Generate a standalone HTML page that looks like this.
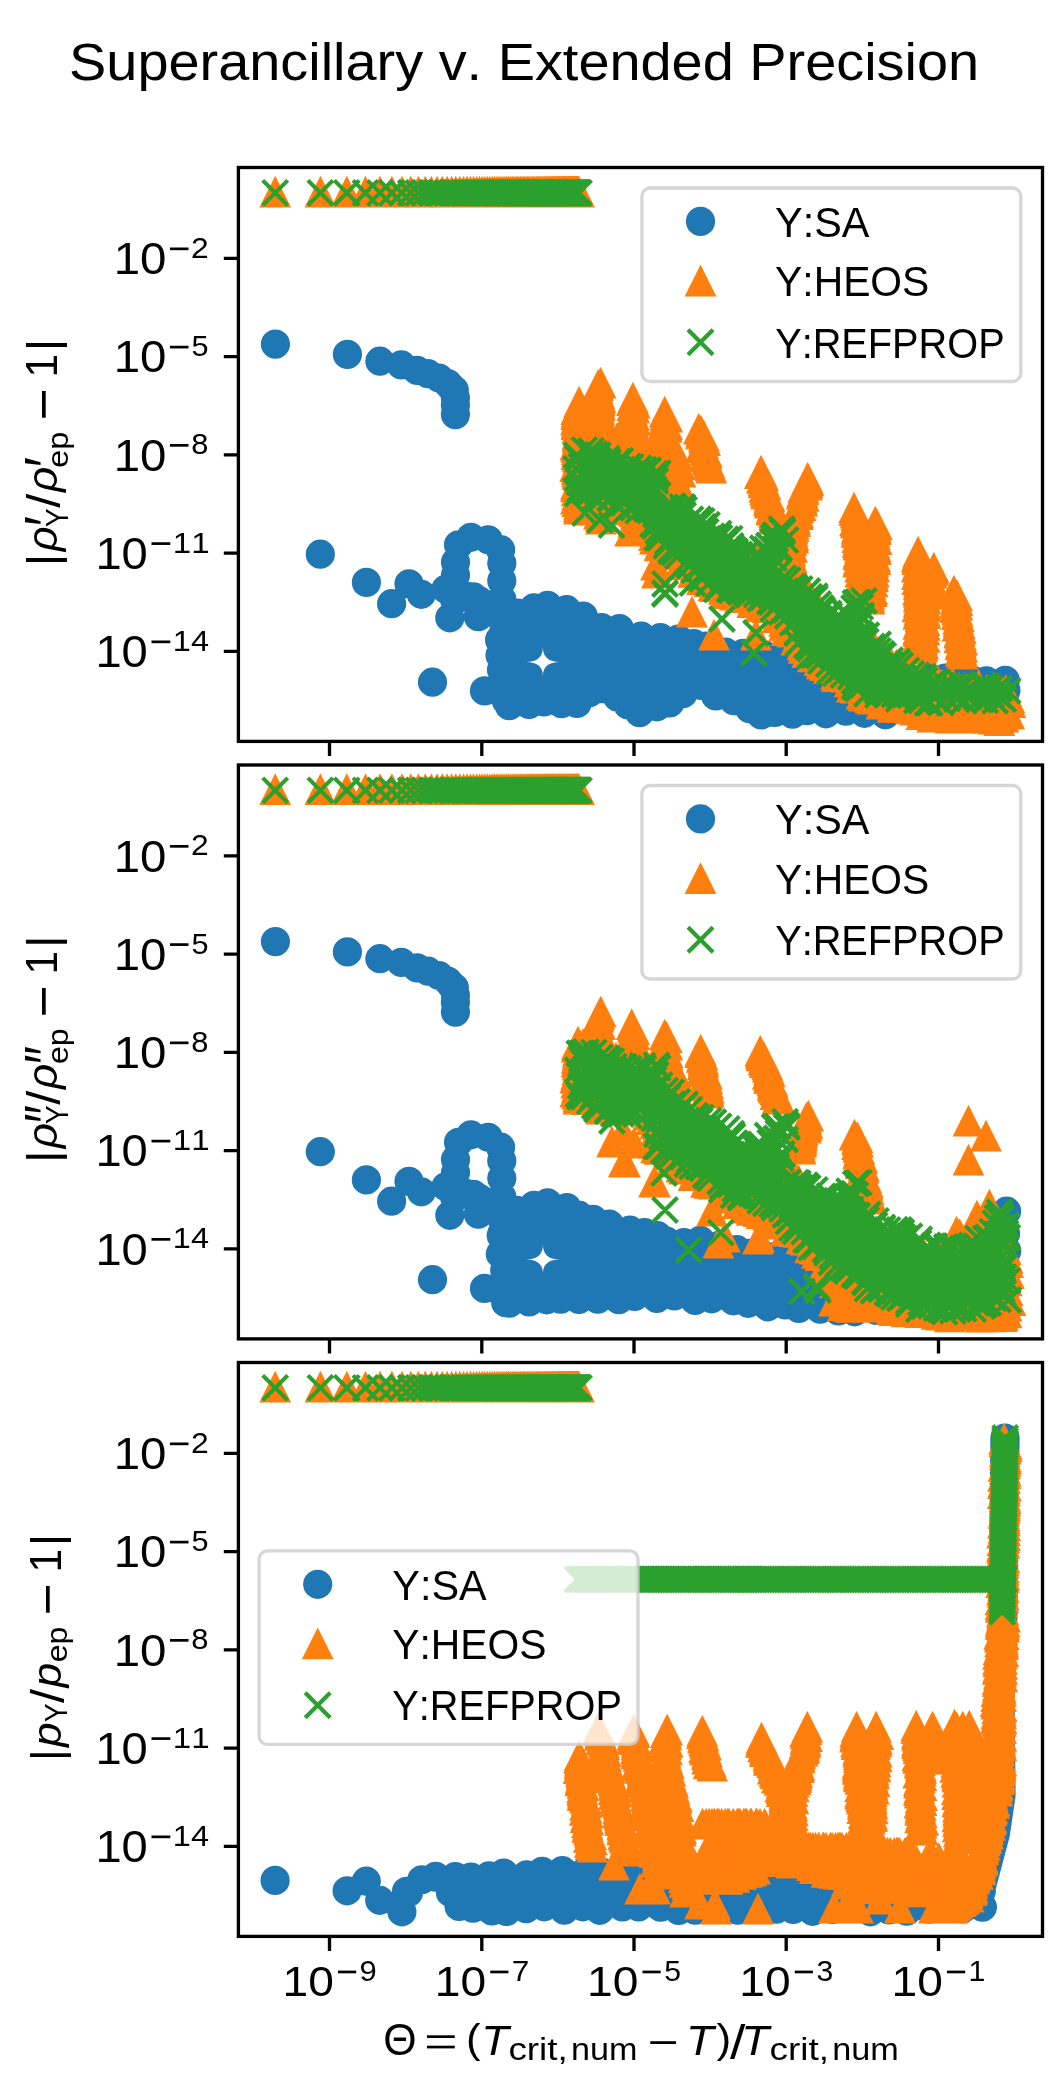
<!DOCTYPE html><html><head><meta charset="utf-8"><style>html,body{margin:0;padding:0;background:#fff;width:1050px;height:2100px;overflow:hidden}svg{display:block}text{font-family:"Liberation Sans",sans-serif;font-kerning:none;font-variant-ligatures:none}svg{will-change:transform}</style></head><body><svg width="1050" height="2100" viewBox="0 0 1050 2100" font-family="Liberation Sans, sans-serif"><defs><clipPath id="cp0"><rect x="238.4" y="167.5" width="804.1" height="573.9"/></clipPath><clipPath id="cp1"><rect x="238.4" y="765" width="804.1" height="573.9"/></clipPath><clipPath id="cp2"><rect x="238.4" y="1362.5" width="804.1" height="573.9"/></clipPath></defs><text transform="matrix(0.5590 0 0 0.5217 69.06 79.70)" font-size="100">Superancillary v. Extended Precision</text>
<g clip-path="url(#cp0)">
<path d="M275.4 344.1h0.01M347.4 354.4h0.01M320.3 554.2h0.01M366.4 582.4h0.01M391.6 603.7h0.01M409 583.9h0.01M421.3 594.3h0.01M432.5 682.2h0.01M446.1 589.3h0.01M449.8 617.8h0.01M454.8 600.5h0.01M473.4 596.8h0.01M478.3 616.6h0.01M484.5 690.9h0.01M509.3 705.7h0.01M529.1 704.5h0.01M541.5 688.4h0.01M534 607.9h0.01M547.6 638.9h0.01M547.6 605.4h0.01M379.9 361.2h0.01M401.3 364.9h0.01M417.1 370.4h0.01M428 373.7h0.01M439 378h0.01M447.8 383.5h0.01M454.3 390.1h0.01M455.4 397.8h0.01M455.4 414.6h0.01M451 387h0.01M455.4 405h0.01M455.5 575h0.01M455.5 562.1h0.01M458.5 544.8h0.01M470.9 537.3h0.01M488.2 539.8h0.01M500.6 549.7h0.01M501.8 563.3h0.01M501.8 656.2h0.01M501.8 580.7h0.01M501.8 599.2h0.01M501.8 619h0.01M501.8 636.4h0.01M446 589 478 600 502 618M501.1 618.3h0.01M517.8 613.2h0.01M532.2 609.9h0.01M548.3 610.3h0.01M566.7 609.7h0.01M583.3 616h0.01M601.6 627.6h0.01M619.5 628.6h0.01M641.3 636.2h0.01M660.4 637.5h0.01M678.4 639.1h0.01M693.8 643.6h0.01M706.2 646.1h0.01M725.5 652.1h0.01M743.3 653.4h0.01M764 654.9h0.01M781.9 655.8h0.01M799.1 660h0.01M821.8 664.6h0.01M839.5 668.9h0.01M859.8 671h0.01M878.1 674.6h0.01M891.9 675.6h0.01M909.9 678.7h0.01M927.5 677.3h0.01M945.4 678.1h0.01M957.8 681.3h0.01M971.8 679.9h0.01M986.4 680.8h0.01M1005.3 680.4h0.01M1005.9 690.6h0.01M1005 703.5h0.01M989.1 702.8h0.01M975.2 705.2h0.01M958.1 703.8h0.01M940.8 704h0.01M924.7 709.1h0.01M906.6 709.3h0.01M885.4 714.8h0.01M864.4 713.3h0.01M845.8 711.1h0.01M826 713.8h0.01M807.1 710.7h0.01M792.5 714.2h0.01M774.9 712.4h0.01M761.2 714.9h0.01M749.6 708.8h0.01M733.9 700.6h0.01M715.8 695.9h0.01M700.3 685.3h0.01M682.9 693.7h0.01M669.7 702.9h0.01M656.9 706.8h0.01M639.5 712.6h0.01M628 705h0.01M617.6 697.3h0.01M602.1 688.6h0.01M589.4 692.8h0.01M577 703.4h0.01M561.6 703.7h0.01M544 702h0.01M527.3 703.4h0.01M516.5 700.5h0.01M506.5 701h0.01M505.2 684.9h0.01M501.5 669.8h0.01M500 655.3h0.01M499.6 639.9h0.01M502.6 618.2h0.01" fill="none" stroke="#1f77b4" stroke-width="29.2" stroke-linecap="round" stroke-linejoin="round"/>
<path d="M502 620 532 610.6 569 610 602 626 660 638 708 648 781.7 658 860 672 943 680 1004 680 1004 703 943 703 886 714 809 712 761 713 735 701 698 687 671 703 642 713 602 688 575 702 529.3 702.7 508 702.7 502 656z" fill="#1f77b4"/>
<path d="M525.9 662.0Q542.9 662.0 542.9 647.0Q542.9 662.0 559.9 662.0Q542.9 662.0 542.9 676.0Q542.9 662.0 525.9 662.0z" fill="#fff"/>
<path d="M578 425.9 578 492.5 678 488.5 678 454.1 578 425.9zM578 496.1 578 497.2 612.6 508.2 623.9 509.7 578 496.1zM650.6 517.4 657.6 541.5 670.7 553.8 686.7 565.7 708.1 585.3 738.2 594.7 776.8 611.3 802.2 647.2 821.5 666.6 847.7 683 873 700.8 950.4 719 1004.1 719 1008 713.9 1008 691.2 947.1 686.9 904.1 675.9 870.1 644.9 820.2 618.9 789.8 562 759 562 726.7 550.9 689.2 526.2 650.6 517.4z" fill="#ff7f0e"/>
<path d="M576.5 412.4l12.5 25h-25zM577.2 416.6l12.5 25h-25zM580.1 427.4l12.5 25h-25zM577.8 429.9l12.5 25h-25zM575.5 433.2l12.5 25h-25zM577.1 439.7l12.5 25h-25zM580 444.6l12.5 25h-25zM575.1 454.9l12.5 25h-25zM578.2 455.7l12.5 25h-25zM578.3 460.5l12.5 25h-25zM578.2 471.8l12.5 25h-25zM580.2 475.6l12.5 25h-25zM576.6 479.2l12.5 25h-25zM581.9 481.4l12.5 25h-25zM590 481.2l12.5 25h-25zM594.6 477.6l12.5 25h-25zM603.4 482l12.5 25h-25zM609.5 480.7l12.5 25h-25zM615.2 480l12.5 25h-25zM617.5 478.5l12.5 25h-25zM624.2 475.3l12.5 25h-25zM628.1 476.5l12.5 25h-25zM635.4 478.8l12.5 25h-25zM645.4 477.1l12.5 25h-25zM651.2 480.1l12.5 25h-25zM657.2 476.1l12.5 25h-25zM658.7 475l12.5 25h-25zM664.4 474.7l12.5 25h-25zM672.9 478.6l12.5 25h-25zM680 475.9l12.5 25h-25zM678.9 472l12.5 25h-25zM675.5 465.5l12.5 25h-25zM680.5 460.5l12.5 25h-25zM679.5 452.9l12.5 25h-25zM676.1 449l12.5 25h-25zM677 443.4l12.5 25h-25zM675.3 439.4l12.5 25h-25zM666.3 441.1l12.5 25h-25zM662.7 434.9l12.5 25h-25zM653.5 433.2l12.5 25h-25zM652.7 435.6l12.5 25h-25zM642.5 434.1l12.5 25h-25zM642 431.5l12.5 25h-25zM632.7 429.3l12.5 25h-25zM625.8 424.6l12.5 25h-25zM625.3 426.8l12.5 25h-25zM617 426.9l12.5 25h-25zM610.9 425l12.5 25h-25zM607.7 419.5l12.5 25h-25zM598.7 418.4l12.5 25h-25zM593.1 418.6l12.5 25h-25zM587.7 416l12.5 25h-25zM581.3 417.4l12.5 25h-25zM577.1 413.1l12.5 25h-25zM578.5 486l12.5 25h-25zM577.5 487.2l12.5 25h-25zM583 486.5l12.5 25h-25zM588 485l12.5 25h-25zM592.5 487.5l12.5 25h-25zM594.8 492.8l12.5 25h-25zM600.8 492.4l12.5 25h-25zM609 494.5l12.5 25h-25zM611.6 495.9l12.5 25h-25zM618.6 498.2l12.5 25h-25zM621.5 497.6l12.5 25h-25zM616.6 494.2l12.5 25h-25zM614 493.9l12.5 25h-25zM607 493.7l12.5 25h-25zM603.4 490.1l12.5 25h-25zM595.9 488.7l12.5 25h-25zM589.5 488.2l12.5 25h-25zM583.4 485.5l12.5 25h-25zM577.9 486.2l12.5 25h-25zM651.8 507.2l12.5 25h-25zM654.6 508.3l12.5 25h-25zM653.7 517.2l12.5 25h-25zM656.8 517.2l12.5 25h-25zM653.9 523.8l12.5 25h-25zM655 527.4l12.5 25h-25zM659.4 534.1l12.5 25h-25zM668.1 539.6l12.5 25h-25zM668.7 542.6l12.5 25h-25zM675.7 542.1l12.5 25h-25zM681 550.1l12.5 25h-25zM681 553l12.5 25h-25zM686.1 553.2l12.5 25h-25zM693.9 559.2l12.5 25h-25zM693.2 560.7l12.5 25h-25zM699.6 564l12.5 25h-25zM702 567.8l12.5 25h-25zM709.5 570l12.5 25h-25zM713.5 574l12.5 25h-25zM715.2 575l12.5 25h-25zM723.9 577.6l12.5 25h-25zM725.5 582l12.5 25h-25zM734.9 583.5l12.5 25h-25zM735.8 580.8l12.5 25h-25zM740.2 586l12.5 25h-25zM746.5 584.2l12.5 25h-25zM752.2 590.9l12.5 25h-25zM759.4 589.1l12.5 25h-25zM760.2 595.1l12.5 25h-25zM767.6 595.9l12.5 25h-25zM769.5 594.1l12.5 25h-25zM778 598.4l12.5 25h-25zM777.5 605.9l12.5 25h-25zM784 609.6l12.5 25h-25zM783.9 614.4l12.5 25h-25zM786.9 619l12.5 25h-25zM792.4 620.3l12.5 25h-25zM796.2 628.3l12.5 25h-25zM797.6 628l12.5 25h-25zM802.4 633.2l12.5 25h-25zM803.7 636.6l12.5 25h-25zM807.2 640.7l12.5 25h-25zM812.7 645.2l12.5 25h-25zM819.2 648.9l12.5 25h-25zM821.5 652.1l12.5 25h-25zM825 653.9l12.5 25h-25zM828.7 656.6l12.5 25h-25zM836 662.6l12.5 25h-25zM837.1 664.9l12.5 25h-25zM845.9 665.4l12.5 25h-25zM849.6 670.1l12.5 25h-25zM851.8 675.5l12.5 25h-25zM855.5 676.5l12.5 25h-25zM861.5 682.3l12.5 25h-25zM863.6 684.4l12.5 25h-25zM870 686.2l12.5 25h-25zM872.4 687.4l12.5 25h-25zM875.9 687.4l12.5 25h-25zM881.5 692.4l12.5 25h-25zM888.1 690.2l12.5 25h-25zM892.6 695.6l12.5 25h-25zM902.9 695.9l12.5 25h-25zM904.9 694.6l12.5 25h-25zM910.5 697.2l12.5 25h-25zM915.2 698.4l12.5 25h-25zM921.3 702.8l12.5 25h-25zM931.1 701.6l12.5 25h-25zM932.3 705.4l12.5 25h-25zM938.2 703l12.5 25h-25zM941.9 704.5l12.5 25h-25zM950.2 706.5l12.5 25h-25zM954.6 706.5l12.5 25h-25zM959.4 705.1l12.5 25h-25zM965.8 705.9l12.5 25h-25zM971.5 703.6l12.5 25h-25zM979 704.9l12.5 25h-25zM986.7 706.7l12.5 25h-25zM993.7 707.4l12.5 25h-25zM999.4 708.8l12.5 25h-25zM1003.4 705.5l12.5 25h-25zM1009 701.9l12.5 25h-25zM1009.3 702.3l12.5 25h-25zM1005.3 697.7l12.5 25h-25zM1010.4 690.8l12.5 25h-25zM1009.4 686.2l12.5 25h-25zM1005.8 678.8l12.5 25h-25zM1002.5 680.3l12.5 25h-25zM998.8 679.9l12.5 25h-25zM991.9 679.9l12.5 25h-25zM986.9 678.3l12.5 25h-25zM978.7 673.9l12.5 25h-25zM972.6 675.5l12.5 25h-25zM966.9 678l12.5 25h-25zM964 676.3l12.5 25h-25zM958.9 676.3l12.5 25h-25zM952.5 671.8l12.5 25h-25zM948.9 675.9l12.5 25h-25zM941.7 673.2l12.5 25h-25zM937.3 669l12.5 25h-25zM932.4 668.8l12.5 25h-25zM923 667.5l12.5 25h-25zM921.6 665.7l12.5 25h-25zM916.3 669l12.5 25h-25zM909.5 664.1l12.5 25h-25zM904 664.5l12.5 25h-25zM901.5 660.2l12.5 25h-25zM896.5 653.1l12.5 25h-25zM889.2 650.3l12.5 25h-25zM888.6 646.7l12.5 25h-25zM883.3 641.1l12.5 25h-25zM876 638.8l12.5 25h-25zM875.4 637.4l12.5 25h-25zM871.1 631.2l12.5 25h-25zM865.2 629.6l12.5 25h-25zM859.9 624.9l12.5 25h-25zM857.5 622.8l12.5 25h-25zM853 624.6l12.5 25h-25zM842.2 619.2l12.5 25h-25zM842 619.6l12.5 25h-25zM834.8 612.8l12.5 25h-25zM828.4 614.3l12.5 25h-25zM823.4 609.5l12.5 25h-25zM818 606.6l12.5 25h-25zM820.1 599l12.5 25h-25zM816.6 596.1l12.5 25h-25zM814.2 592.1l12.5 25h-25zM807.5 588.1l12.5 25h-25zM806.3 577.7l12.5 25h-25zM800.6 575.3l12.5 25h-25zM800.5 569l12.5 25h-25zM795.9 564.1l12.5 25h-25zM794.2 561.9l12.5 25h-25zM789.6 556.2l12.5 25h-25zM791.8 547.2l12.5 25h-25zM787.2 550.8l12.5 25h-25zM781.9 548.2l12.5 25h-25zM773.6 548.9l12.5 25h-25zM772.3 550l12.5 25h-25zM763.3 549.1l12.5 25h-25zM757.6 546.8l12.5 25h-25zM751.2 549.7l12.5 25h-25zM746.9 548.4l12.5 25h-25zM741.3 542.5l12.5 25h-25zM737.5 540.2l12.5 25h-25zM731.3 542.9l12.5 25h-25zM729 540.2l12.5 25h-25zM722.8 537.8l12.5 25h-25zM719.9 532.5l12.5 25h-25zM713.9 526.4l12.5 25h-25zM709.3 525.7l12.5 25h-25zM704.8 523.8l12.5 25h-25zM697.3 517.2l12.5 25h-25zM696.5 514.6l12.5 25h-25zM689.1 512.8l12.5 25h-25zM682.5 513.9l12.5 25h-25zM681 509.8l12.5 25h-25zM673.6 508.8l12.5 25h-25zM667.5 508.1l12.5 25h-25zM659.6 505.4l12.5 25h-25zM654.4 508.6l12.5 25h-25zM650.6 503.3l12.5 25h-25zM275.2 180.4l12.5 25h-25zM320.4 180.4l12.5 25h-25zM346.8 180.4l12.5 25h-25zM365.5 180.4l12.5 25h-25zM380 180.4l12.5 25h-25zM391.9 180.4l12.5 25h-25zM402 180.4l12.5 25h-25zM410.7 180.4l12.5 25h-25zM418.3 180.4l12.5 25h-25zM425.2 180.4l12.5 25h-25zM431.4 180.4l12.5 25h-25zM437.1 180.4l12.5 25h-25zM442.3 180.4l12.5 25h-25zM447.1 180.4l12.5 25h-25zM451.6 180.4l12.5 25h-25zM455.8 180.4l12.5 25h-25zM459.8 180.4l12.5 25h-25zM463.5 180.4l12.5 25h-25zM467 180.4l12.5 25h-25zM470.4 180.4l12.5 25h-25zM473.5 180.4l12.5 25h-25zM476.6 180.4l12.5 25h-25zM479.5 180.4l12.5 25h-25zM482.2 180.4l12.5 25h-25zM484.9 180.4l12.5 25h-25zM487.4 180.4l12.5 25h-25zM489.9 180.4l12.5 25h-25zM492.3 180.4l12.5 25h-25zM494.6 180.4l12.5 25h-25zM496.8 180.4l12.5 25h-25zM498.9 180.4l12.5 25h-25zM501 180.4l12.5 25h-25zM503 180.4l12.5 25h-25zM504.9 180.4l12.5 25h-25zM506.8 180.4l12.5 25h-25zM508.6 180.4l12.5 25h-25zM510.4 180.4l12.5 25h-25zM512.2 180.4l12.5 25h-25zM513.9 180.4l12.5 25h-25zM515.5 180.4l12.5 25h-25zM517.1 180.4l12.5 25h-25zM518.7 180.4l12.5 25h-25zM520.2 180.4l12.5 25h-25zM521.7 180.4l12.5 25h-25zM523.2 180.4l12.5 25h-25zM524.6 180.4l12.5 25h-25zM526 180.4l12.5 25h-25zM527.4 180.4l12.5 25h-25zM528.7 180.4l12.5 25h-25zM530 180.4l12.5 25h-25zM531.3 180.4l12.5 25h-25zM532.6 180.4l12.5 25h-25zM533.8 180.4l12.5 25h-25zM535.1 180.4l12.5 25h-25zM536.3 180.4l12.5 25h-25zM537.4 180.4l12.5 25h-25zM538.6 180.4l12.5 25h-25zM539.7 180.4l12.5 25h-25zM540.8 180.4l12.5 25h-25zM541.9 180.4l12.5 25h-25zM543 180.4l12.5 25h-25zM544.1 180.4l12.5 25h-25zM545.1 180.4l12.5 25h-25zM546.1 180.4l12.5 25h-25zM547.1 180.4l12.5 25h-25zM548.1 180.4l12.5 25h-25zM549.1 180.4l12.5 25h-25zM550.1 180.4l12.5 25h-25zM551 180.4l12.5 25h-25zM552 180.4l12.5 25h-25zM552.9 180.4l12.5 25h-25zM553.8 180.4l12.5 25h-25zM554.7 180.4l12.5 25h-25zM555.6 180.4l12.5 25h-25zM556.5 180.4l12.5 25h-25zM557.3 180.4l12.5 25h-25zM558.2 180.4l12.5 25h-25zM559 180.4l12.5 25h-25zM559.8 180.4l12.5 25h-25zM560.7 180.4l12.5 25h-25zM561.5 180.4l12.5 25h-25zM562.3 180.4l12.5 25h-25zM563.1 180.4l12.5 25h-25zM563.8 180.4l12.5 25h-25zM564.6 180.4l12.5 25h-25zM565.4 180.4l12.5 25h-25zM566.1 180.4l12.5 25h-25zM566.9 180.4l12.5 25h-25zM567.6 180.4l12.5 25h-25zM568.3 180.4l12.5 25h-25zM569.1 180.4l12.5 25h-25zM569.8 180.4l12.5 25h-25zM570.5 180.4l12.5 25h-25zM571.2 180.4l12.5 25h-25zM571.9 180.4l12.5 25h-25zM572.5 180.4l12.5 25h-25zM573.2 180.4l12.5 25h-25zM573.9 180.4l12.5 25h-25zM574.5 180.4l12.5 25h-25zM575.2 180.4l12.5 25h-25zM575.8 180.4l12.5 25h-25zM576.5 180.4l12.5 25h-25zM577.1 180.4l12.5 25h-25zM577.8 180.4l12.5 25h-25zM578.4 180.4l12.5 25h-25zM579 180.4l12.5 25h-25zM579.1 390.5l12.5 25h-25zM579.4 393l12.5 25h-25zM577.4 395.5l12.5 25h-25zM576.3 398l12.5 25h-25zM576.5 400.5l12.5 25h-25zM576.1 402.9l12.5 25h-25zM577 405.4l12.5 25h-25zM576.1 407.9l12.5 25h-25zM576.7 410.4l12.5 25h-25zM576.7 412.9l12.5 25h-25zM577.9 415.4l12.5 25h-25zM579 417.9l12.5 25h-25zM578.5 420.4l12.5 25h-25zM577.3 422.8l12.5 25h-25zM577.3 425.3l12.5 25h-25zM577.7 427.8l12.5 25h-25zM577.2 430.3l12.5 25h-25zM577 432.8l12.5 25h-25zM576 435.3l12.5 25h-25zM576.8 437.8l12.5 25h-25zM579.3 440.3l12.5 25h-25zM576.3 442.8l12.5 25h-25zM577.6 445.2l12.5 25h-25zM578.1 447.7l12.5 25h-25zM578.9 450.2l12.5 25h-25zM576.6 452.7l12.5 25h-25zM576.8 455.2l12.5 25h-25zM576.7 457.7l12.5 25h-25zM577.2 460.2l12.5 25h-25zM577.4 462.7l12.5 25h-25zM579.2 465.2l12.5 25h-25zM578.9 467.6l12.5 25h-25zM578.9 470.1l12.5 25h-25zM575.9 472.6l12.5 25h-25zM575.9 475.1l12.5 25h-25zM578.4 477.6l12.5 25h-25zM579 480.1l12.5 25h-25zM577.5 482.6l12.5 25h-25zM577.9 485.1l12.5 25h-25zM575.8 487.5l12.5 25h-25zM577.2 490l12.5 25h-25zM579.1 492.5l12.5 25h-25zM578.8 495l12.5 25h-25zM578.9 497.5l12.5 25h-25zM600.6 371.5l12.5 25h-25zM598 374l12.5 25h-25zM597.5 376.4l12.5 25h-25zM597.7 378.9l12.5 25h-25zM599.1 381.4l12.5 25h-25zM599.7 383.9l12.5 25h-25zM600.6 386.3l12.5 25h-25zM599.8 388.8l12.5 25h-25zM599.6 391.3l12.5 25h-25zM600 393.8l12.5 25h-25zM598.9 396.2l12.5 25h-25zM599.3 398.7l12.5 25h-25zM597.5 401.2l12.5 25h-25zM600.2 403.6l12.5 25h-25zM598.2 406.1l12.5 25h-25zM600.7 408.6l12.5 25h-25zM599.7 411.1l12.5 25h-25zM598.5 413.5l12.5 25h-25zM597.9 416l12.5 25h-25zM598.4 418.5l12.5 25h-25zM599.8 421l12.5 25h-25zM600 423.4l12.5 25h-25zM597.9 425.9l12.5 25h-25zM597.8 428.4l12.5 25h-25zM599.5 430.8l12.5 25h-25zM599.7 433.3l12.5 25h-25zM599 435.8l12.5 25h-25zM598.4 438.3l12.5 25h-25zM599.8 440.7l12.5 25h-25zM597.7 443.2l12.5 25h-25zM598.8 445.7l12.5 25h-25zM599.4 448.2l12.5 25h-25zM601.2 450.6l12.5 25h-25zM600.1 453.1l12.5 25h-25zM601 455.6l12.5 25h-25zM599.5 458l12.5 25h-25zM598.7 460.5l12.5 25h-25zM598.7 463l12.5 25h-25zM601.3 465.5l12.5 25h-25zM600.4 467.9l12.5 25h-25zM599 470.4l12.5 25h-25zM598 472.9l12.5 25h-25zM599.7 475.4l12.5 25h-25zM600.4 477.8l12.5 25h-25zM599.5 480.3l12.5 25h-25zM598.9 482.8l12.5 25h-25zM600.4 485.2l12.5 25h-25zM601.4 487.7l12.5 25h-25zM598.9 490.2l12.5 25h-25zM598.2 492.7l12.5 25h-25zM599.3 495.1l12.5 25h-25zM599.6 497.6l12.5 25h-25zM600.6 500.1l12.5 25h-25zM598.9 502.6l12.5 25h-25zM601 505l12.5 25h-25zM600.9 507.5l12.5 25h-25zM632.9 386.5l12.5 25h-25zM631.9 389l12.5 25h-25zM634.7 391.4l12.5 25h-25zM632.3 393.9l12.5 25h-25zM634.2 396.4l12.5 25h-25zM632.1 398.9l12.5 25h-25zM632.1 401.3l12.5 25h-25zM634.1 403.8l12.5 25h-25zM632.5 406.3l12.5 25h-25zM634.9 408.7l12.5 25h-25zM633.3 411.2l12.5 25h-25zM632.2 413.7l12.5 25h-25zM632.4 416.2l12.5 25h-25zM633.1 418.6l12.5 25h-25zM634 421.1l12.5 25h-25zM635.1 423.6l12.5 25h-25zM632.3 426l12.5 25h-25zM633.2 428.5l12.5 25h-25zM632.6 431l12.5 25h-25zM635.4 433.5l12.5 25h-25zM632.4 435.9l12.5 25h-25zM632.1 438.4l12.5 25h-25zM632.2 440.9l12.5 25h-25zM633.4 443.3l12.5 25h-25zM635.3 445.8l12.5 25h-25zM635.3 448.3l12.5 25h-25zM634.8 450.8l12.5 25h-25zM635.8 453.2l12.5 25h-25zM635.6 455.7l12.5 25h-25zM633.4 458.2l12.5 25h-25zM633 460.7l12.5 25h-25zM635.7 463.1l12.5 25h-25zM635.1 465.6l12.5 25h-25zM632.5 468.1l12.5 25h-25zM634.8 470.5l12.5 25h-25zM633.8 473l12.5 25h-25zM633.9 475.5l12.5 25h-25zM633.8 478l12.5 25h-25zM633.2 480.4l12.5 25h-25zM632.7 482.9l12.5 25h-25zM633.7 485.4l12.5 25h-25zM634 487.8l12.5 25h-25zM636.2 490.3l12.5 25h-25zM633.2 492.8l12.5 25h-25zM636.3 495.3l12.5 25h-25zM633.6 497.7l12.5 25h-25zM634.2 500.2l12.5 25h-25zM635.9 502.7l12.5 25h-25zM636 505.1l12.5 25h-25zM634.6 507.6l12.5 25h-25zM633.3 510.1l12.5 25h-25zM634.8 512.6l12.5 25h-25zM634.5 515l12.5 25h-25zM636.5 517.5l12.5 25h-25zM664.7 400.5l12.5 25h-25zM665.4 403l12.5 25h-25zM667.3 405.5l12.5 25h-25zM664.2 408l12.5 25h-25zM665.7 410.5l12.5 25h-25zM667.1 413l12.5 25h-25zM667 415.4l12.5 25h-25zM664.4 417.9l12.5 25h-25zM664.5 420.4l12.5 25h-25zM664.6 422.9l12.5 25h-25zM667.7 425.4l12.5 25h-25zM665.4 427.9l12.5 25h-25zM667.2 430.4l12.5 25h-25zM667.8 432.9l12.5 25h-25zM665.8 435.4l12.5 25h-25zM665.6 437.9l12.5 25h-25zM668.1 440.3l12.5 25h-25zM667 442.8l12.5 25h-25zM665.7 445.3l12.5 25h-25zM667.4 447.8l12.5 25h-25zM666 450.3l12.5 25h-25zM665.9 452.8l12.5 25h-25zM665 455.3l12.5 25h-25zM667.7 457.8l12.5 25h-25zM668.3 460.3l12.5 25h-25zM667.4 462.8l12.5 25h-25zM668.5 465.2l12.5 25h-25zM665.3 467.7l12.5 25h-25zM666 470.2l12.5 25h-25zM667 472.7l12.5 25h-25zM668.7 475.2l12.5 25h-25zM668.8 477.7l12.5 25h-25zM666.8 480.2l12.5 25h-25zM666.3 482.7l12.5 25h-25zM667 485.2l12.5 25h-25zM667.3 487.7l12.5 25h-25zM668.9 490.1l12.5 25h-25zM666.3 492.6l12.5 25h-25zM668.5 495.1l12.5 25h-25zM668.3 497.6l12.5 25h-25zM668.7 500.1l12.5 25h-25zM668.6 502.6l12.5 25h-25zM668 505.1l12.5 25h-25zM667 507.6l12.5 25h-25zM667 510.1l12.5 25h-25zM667.2 512.6l12.5 25h-25zM668.8 515l12.5 25h-25zM666.3 517.5l12.5 25h-25zM666.8 520l12.5 25h-25zM668.8 522.5l12.5 25h-25zM667 525l12.5 25h-25zM666.4 527.5l12.5 25h-25zM698.8 417.5l12.5 25h-25zM701.2 419.8l12.5 25h-25zM701 422.1l12.5 25h-25zM703.9 424.4l12.5 25h-25zM704.1 426.7l12.5 25h-25zM705.1 429l12.5 25h-25zM703 431.3l12.5 25h-25zM702.9 433.6l12.5 25h-25zM703.5 435.9l12.5 25h-25zM705.5 438.1l12.5 25h-25zM706.8 440.4l12.5 25h-25zM706.5 442.7l12.5 25h-25zM706.2 445l12.5 25h-25zM707.5 447.3l12.5 25h-25zM708.8 449.6l12.5 25h-25zM709.5 451.9l12.5 25h-25zM710.3 454.2l12.5 25h-25zM711.2 456.5l12.5 25h-25zM761.1 459.5l12.5 25h-25zM759.8 461.8l12.5 25h-25zM763.1 464.1l12.5 25h-25zM761.8 466.4l12.5 25h-25zM763.5 468.6l12.5 25h-25zM763.5 470.9l12.5 25h-25zM765.5 473.2l12.5 25h-25zM764.3 475.5l12.5 25h-25zM765.1 477.8l12.5 25h-25zM765.8 480.1l12.5 25h-25zM766.2 482.4l12.5 25h-25zM769.5 484.6l12.5 25h-25zM769.1 486.9l12.5 25h-25zM768.9 489.2l12.5 25h-25zM769.8 491.5l12.5 25h-25zM772.6 493.8l12.5 25h-25zM771.6 496.1l12.5 25h-25zM771.3 498.4l12.5 25h-25zM774 500.6l12.5 25h-25zM774.2 502.9l12.5 25h-25zM776.1 505.2l12.5 25h-25zM773.6 507.5l12.5 25h-25zM807.7 466.5l12.5 25h-25zM808.2 468.8l12.5 25h-25zM807.6 471.1l12.5 25h-25zM807.2 473.3l12.5 25h-25zM803.3 475.6l12.5 25h-25zM803.5 477.9l12.5 25h-25zM802.2 480.2l12.5 25h-25zM801.7 482.4l12.5 25h-25zM803.8 484.7l12.5 25h-25zM801.7 487l12.5 25h-25zM802.2 489.3l12.5 25h-25zM799.5 491.6l12.5 25h-25zM800.6 493.8l12.5 25h-25zM798.4 496.1l12.5 25h-25zM797 498.4l12.5 25h-25zM798.1 500.7l12.5 25h-25zM798 502.9l12.5 25h-25zM794.3 505.2l12.5 25h-25zM795.3 507.5l12.5 25h-25zM795.1 509.9l12.5 25h-25zM793.4 512.2l12.5 25h-25zM793.6 514.6l12.5 25h-25zM792.5 516.9l12.5 25h-25zM792.5 519.3l12.5 25h-25zM792.4 521.6l12.5 25h-25zM793.3 524l12.5 25h-25zM793.2 526.3l12.5 25h-25zM791.3 528.7l12.5 25h-25zM790.3 531l12.5 25h-25zM791.1 533.4l12.5 25h-25zM792.1 535.7l12.5 25h-25zM790 538.1l12.5 25h-25zM790.2 540.4l12.5 25h-25zM789.5 542.8l12.5 25h-25zM791.4 545.1l12.5 25h-25zM790.2 547.5l12.5 25h-25zM854 496.5l12.5 25h-25zM854.4 499l12.5 25h-25zM855.6 501.4l12.5 25h-25zM856.4 503.9l12.5 25h-25zM856.9 506.3l12.5 25h-25zM855.1 508.8l12.5 25h-25zM855.6 511.2l12.5 25h-25zM857.7 513.7l12.5 25h-25zM856.8 516.1l12.5 25h-25zM856.6 518.6l12.5 25h-25zM856.8 521l12.5 25h-25zM859.4 523.5l12.5 25h-25zM857.3 526l12.5 25h-25zM858.4 528.4l12.5 25h-25zM857.8 530.9l12.5 25h-25zM858.2 533.3l12.5 25h-25zM860 535.8l12.5 25h-25zM860.7 538.2l12.5 25h-25zM858.6 540.7l12.5 25h-25zM858.2 543.1l12.5 25h-25zM860.3 545.6l12.5 25h-25zM858.6 548l12.5 25h-25zM858.1 550.5l12.5 25h-25zM861.5 553l12.5 25h-25zM860 555.4l12.5 25h-25zM861.6 557.9l12.5 25h-25zM860.3 560.3l12.5 25h-25zM862.2 562.8l12.5 25h-25zM860.9 565.2l12.5 25h-25zM860 567.7l12.5 25h-25zM859.7 570.1l12.5 25h-25zM861.8 572.6l12.5 25h-25zM862.3 575l12.5 25h-25zM863.5 577.5l12.5 25h-25zM875.2 510.5l12.5 25h-25zM876.9 513l12.5 25h-25zM875.8 515.5l12.5 25h-25zM876.1 518l12.5 25h-25zM874.6 520.4l12.5 25h-25zM874.8 522.9l12.5 25h-25zM875.5 525.4l12.5 25h-25zM876.7 527.9l12.5 25h-25zM873.6 530.4l12.5 25h-25zM874.7 532.9l12.5 25h-25zM875.6 535.3l12.5 25h-25zM876 537.8l12.5 25h-25zM873 540.3l12.5 25h-25zM872.5 542.8l12.5 25h-25zM875.3 545.3l12.5 25h-25zM875.2 547.8l12.5 25h-25zM873.2 550.2l12.5 25h-25zM871.4 552.7l12.5 25h-25zM874.3 555.2l12.5 25h-25zM872.2 557.7l12.5 25h-25zM873.8 560.2l12.5 25h-25zM872.6 562.7l12.5 25h-25zM873.1 565.1l12.5 25h-25zM870.5 567.6l12.5 25h-25zM872.5 570.1l12.5 25h-25zM870.3 572.6l12.5 25h-25zM870.7 575.1l12.5 25h-25zM872.1 577.6l12.5 25h-25zM871.8 580l12.5 25h-25zM869.3 582.5l12.5 25h-25zM869.2 585l12.5 25h-25zM869.6 587.5l12.5 25h-25zM918.1 540.5l12.5 25h-25zM917.6 543l12.5 25h-25zM916.7 545.5l12.5 25h-25zM917.2 548l12.5 25h-25zM919 550.4l12.5 25h-25zM919.7 552.9l12.5 25h-25zM916.7 555.4l12.5 25h-25zM918.6 557.9l12.5 25h-25zM919.3 560.4l12.5 25h-25zM916.8 562.9l12.5 25h-25zM919.7 565.4l12.5 25h-25zM917.2 567.9l12.5 25h-25zM919 570.3l12.5 25h-25zM918.8 572.8l12.5 25h-25zM919.2 575.3l12.5 25h-25zM918.1 577.8l12.5 25h-25zM918.5 580.3l12.5 25h-25zM919.2 582.8l12.5 25h-25zM918.7 585.3l12.5 25h-25zM919.5 587.8l12.5 25h-25zM918.8 590.2l12.5 25h-25zM918.9 592.7l12.5 25h-25zM917.4 595.2l12.5 25h-25zM919.6 597.7l12.5 25h-25zM919.2 600.2l12.5 25h-25zM918.3 602.7l12.5 25h-25zM920.3 605.2l12.5 25h-25zM920.4 607.7l12.5 25h-25zM919.3 610.1l12.5 25h-25zM918.3 612.6l12.5 25h-25zM919.4 615.1l12.5 25h-25zM918.2 617.6l12.5 25h-25zM918.3 620.1l12.5 25h-25zM919.4 622.6l12.5 25h-25zM918.3 625.1l12.5 25h-25zM919.6 627.6l12.5 25h-25zM919.9 630l12.5 25h-25zM918.2 632.5l12.5 25h-25zM920.4 635l12.5 25h-25zM918.5 637.5l12.5 25h-25zM933.8 556.5l12.5 25h-25zM933.3 558.9l12.5 25h-25zM931.7 561.3l12.5 25h-25zM929.3 563.7l12.5 25h-25zM930.2 566l12.5 25h-25zM929.1 568.4l12.5 25h-25zM930.5 570.8l12.5 25h-25zM926.8 573.2l12.5 25h-25zM928.7 575.6l12.5 25h-25zM928.6 578l12.5 25h-25zM926.9 580.3l12.5 25h-25zM926.5 582.7l12.5 25h-25zM923.6 585.1l12.5 25h-25zM925.7 587.5l12.5 25h-25zM923.9 589.9l12.5 25h-25zM925.5 592.3l12.5 25h-25zM925.4 594.6l12.5 25h-25zM922.6 597l12.5 25h-25zM924.8 599.4l12.5 25h-25zM925.3 601.8l12.5 25h-25zM922.1 604.2l12.5 25h-25zM923.1 606.5l12.5 25h-25zM924.5 608.9l12.5 25h-25zM922.3 611.3l12.5 25h-25zM924.9 613.7l12.5 25h-25zM922.6 616.1l12.5 25h-25zM924.5 618.5l12.5 25h-25zM922.1 620.8l12.5 25h-25zM923.3 623.2l12.5 25h-25zM924.7 625.6l12.5 25h-25zM922.1 628l12.5 25h-25zM922.3 630.4l12.5 25h-25zM923.1 632.7l12.5 25h-25zM922.4 635.1l12.5 25h-25zM921.3 637.5l12.5 25h-25zM953.9 579.5l12.5 25h-25zM954 581.8l12.5 25h-25zM957.1 584.2l12.5 25h-25zM956.4 586.5l12.5 25h-25zM957.4 588.8l12.5 25h-25zM955.1 591.2l12.5 25h-25zM957.5 593.5l12.5 25h-25zM955.4 595.8l12.5 25h-25zM957.1 598.2l12.5 25h-25zM957.7 600.5l12.5 25h-25zM957 602.8l12.5 25h-25zM959.1 605.2l12.5 25h-25zM958.2 607.5l12.5 25h-25zM958.6 609.8l12.5 25h-25zM959.9 612.2l12.5 25h-25zM957.4 614.5l12.5 25h-25zM960.8 616.8l12.5 25h-25zM959.8 619.2l12.5 25h-25zM959.2 621.5l12.5 25h-25zM960.9 623.8l12.5 25h-25zM959.3 626.2l12.5 25h-25zM962.2 628.5l12.5 25h-25zM960.9 630.8l12.5 25h-25zM960.4 633.2l12.5 25h-25zM962.2 635.5l12.5 25h-25zM961.3 637.8l12.5 25h-25zM960.6 640.2l12.5 25h-25zM962.9 642.5l12.5 25h-25zM590 498.5l12.5 25h-25zM630 519.5l12.5 25h-25zM656 553.5l12.5 25h-25zM657 561.5l12.5 25h-25zM692 600.5l12.5 25h-25zM714 623.5l12.5 25h-25zM756 623.5l12.5 25h-25z" fill="#ff7f0e" stroke="#ff7f0e" stroke-width="4.17" stroke-linejoin="miter"/>
<path d="M580 452.9 580 492.3 594.4 497 626.1 504.9 651.1 509.9 659.6 539.3 663.2 543.7 671.4 549.5 688.2 562.6 704.4 575.7 718.1 586.5 738.2 590.6 777 607.2 790.2 620.4 804.2 644.4 822.7 662.9 848.4 678.1 873.5 694.5 923.6 700 1005 697.4 1005 693.6 1002.2 690.6 936.6 685.7 909.6 671.1 891.8 662.6 878.7 649.4 858.6 636.3 860.3 603 856.3 603 835 624.5 808.2 594.1 798.1 585.7 763.6 567.2 784.5 534.9 784.5 531 779.8 531 750.2 560.6 719 536.5 705.9 528.5 690.5 516.1 679.4 508 643.3 508 657 480.7 657 471.8 594.9 455.7 580 452.9z" fill="#2ca02c"/>
<path d="M563.9 442.9l25 25m0-25l-25 25M565.5 446.4l25 25m0-25l-25 25M571.4 450.9l25 25m0-25l-25 25M568.8 453.7l25 25m0-25l-25 25M563.5 456.3l25 25m0-25l-25 25M564.7 465.9l25 25m0-25l-25 25M567 470l25 25m0-25l-25 25M570.7 471.9l25 25m0-25l-25 25M565.3 481l25 25m0-25l-25 25M567.3 477l25 25m0-25l-25 25M573.5 479l25 25m0-25l-25 25M577.2 481.1l25 25m0-25l-25 25M582.6 485.3l25 25m0-25l-25 25M584.1 486.7l25 25m0-25l-25 25M590.7 483.9l25 25m0-25l-25 25M599 485.9l25 25m0-25l-25 25M597.2 485.8l25 25m0-25l-25 25M605.6 493.2l25 25m0-25l-25 25M611.3 490.5l25 25m0-25l-25 25M611.7 488.5l25 25m0-25l-25 25M618.9 493.8l25 25m0-25l-25 25M620.7 495.3l25 25m0-25l-25 25M625.6 498.4l25 25m0-25l-25 25M632.1 493.8l25 25m0-25l-25 25M637.6 493l25 25m0-25l-25 25M638.8 496.7l25 25m0-25l-25 25M637.7 498.1l25 25m0-25l-25 25M643.2 501.9l25 25m0-25l-25 25M642.6 513.6l25 25m0-25l-25 25M640.6 511.8l25 25m0-25l-25 25M645.5 518.5l25 25m0-25l-25 25M647 525.1l25 25m0-25l-25 25M644.5 525.3l25 25m0-25l-25 25M647.3 525.4l25 25m0-25l-25 25M653.8 533.4l25 25m0-25l-25 25M655.2 529.2l25 25m0-25l-25 25M658.9 537l25 25m0-25l-25 25M658.6 538.9l25 25m0-25l-25 25M661.9 537.4l25 25m0-25l-25 25M662.4 540.1l25 25m0-25l-25 25M665.3 543.6l25 25m0-25l-25 25M674.3 549.1l25 25m0-25l-25 25M678.5 551.8l25 25m0-25l-25 25M677.1 553.2l25 25m0-25l-25 25M681.7 557.6l25 25m0-25l-25 25M685.6 556.1l25 25m0-25l-25 25M689.8 564.3l25 25m0-25l-25 25M689.7 566.2l25 25m0-25l-25 25M691.5 563.9l25 25m0-25l-25 25M696.6 570.5l25 25m0-25l-25 25M705.7 573.2l25 25m0-25l-25 25M704.2 577l25 25m0-25l-25 25M708.2 572.7l25 25m0-25l-25 25M716.9 576.6l25 25m0-25l-25 25M719.2 577.7l25 25m0-25l-25 25M725.5 577l25 25m0-25l-25 25M728.4 579.7l25 25m0-25l-25 25M732.9 579.4l25 25m0-25l-25 25M736.1 582.3l25 25m0-25l-25 25M737.1 581.3l25 25m0-25l-25 25M743.9 582.1l25 25m0-25l-25 25M750.5 584.5l25 25m0-25l-25 25M747.8 586l25 25m0-25l-25 25M759.3 589.8l25 25m0-25l-25 25M757.3 589.1l25 25m0-25l-25 25M760.8 596.2l25 25m0-25l-25 25M768.9 599.6l25 25m0-25l-25 25M773 597.8l25 25m0-25l-25 25M775.1 603.5l25 25m0-25l-25 25M780.2 610.4l25 25m0-25l-25 25M783.1 608.4l25 25m0-25l-25 25M785.3 619.2l25 25m0-25l-25 25M788.2 616.7l25 25m0-25l-25 25M784.7 620.8l25 25m0-25l-25 25M785.6 630.7l25 25m0-25l-25 25M794.2 633l25 25m0-25l-25 25M797.4 636l25 25m0-25l-25 25M796.1 634.8l25 25m0-25l-25 25M797.7 643.2l25 25m0-25l-25 25M801.6 642.7l25 25m0-25l-25 25M806.5 643.4l25 25m0-25l-25 25M808.2 648.6l25 25m0-25l-25 25M816.2 651.8l25 25m0-25l-25 25M817.3 659.2l25 25m0-25l-25 25M823.1 660.8l25 25m0-25l-25 25M828.3 656.8l25 25m0-25l-25 25M830.9 662.6l25 25m0-25l-25 25M838.1 664.4l25 25m0-25l-25 25M841.7 668.6l25 25m0-25l-25 25M842 674l25 25m0-25l-25 25M845.2 676.3l25 25m0-25l-25 25M850 672.5l25 25m0-25l-25 25M854.4 681.3l25 25m0-25l-25 25M864.8 678l25 25m0-25l-25 25M865.4 682.4l25 25m0-25l-25 25M872.4 680.4l25 25m0-25l-25 25M874.6 682.2l25 25m0-25l-25 25M881.8 682l25 25m0-25l-25 25M887.3 682.7l25 25m0-25l-25 25M886 686.6l25 25m0-25l-25 25M892.8 682.3l25 25m0-25l-25 25M898.5 682.6l25 25m0-25l-25 25M904.2 688l25 25m0-25l-25 25M908.8 688l25 25m0-25l-25 25M909.9 686.7l25 25m0-25l-25 25M915 690.4l25 25m0-25l-25 25M917.3 690.3l25 25m0-25l-25 25M921.6 684.7l25 25m0-25l-25 25M928.3 690.1l25 25m0-25l-25 25M935 685.8l25 25m0-25l-25 25M942.9 684.4l25 25m0-25l-25 25M944.3 686.7l25 25m0-25l-25 25M951.4 688.3l25 25m0-25l-25 25M955.3 684.9l25 25m0-25l-25 25M957.6 683.2l25 25m0-25l-25 25M966.5 687.1l25 25m0-25l-25 25M970.5 683l25 25m0-25l-25 25M972.8 687.7l25 25m0-25l-25 25M978.8 682.4l25 25m0-25l-25 25M982.6 688.3l25 25m0-25l-25 25M985.6 682.6l25 25m0-25l-25 25M990.9 686.6l25 25m0-25l-25 25M995.2 678.3l25 25m0-25l-25 25M986.9 676l25 25m0-25l-25 25M983.6 677.9l25 25m0-25l-25 25M977.6 676l25 25m0-25l-25 25M973.1 680.8l25 25m0-25l-25 25M972.7 673.5l25 25m0-25l-25 25M969.9 673.2l25 25m0-25l-25 25M960.6 679.9l25 25m0-25l-25 25M959.2 677.5l25 25m0-25l-25 25M951.7 672.9l25 25m0-25l-25 25M948.6 671.8l25 25m0-25l-25 25M940.5 673.7l25 25m0-25l-25 25M934.4 673.5l25 25m0-25l-25 25M935.8 675.5l25 25m0-25l-25 25M928.7 674.6l25 25m0-25l-25 25M923.8 670.4l25 25m0-25l-25 25M921 670.4l25 25m0-25l-25 25M918.3 672.3l25 25m0-25l-25 25M912 667.5l25 25m0-25l-25 25M910.7 664.2l25 25m0-25l-25 25M902.7 664.5l25 25m0-25l-25 25M904 662.9l25 25m0-25l-25 25M898.7 661.4l25 25m0-25l-25 25M894.1 657.6l25 25m0-25l-25 25M887.8 652.8l25 25m0-25l-25 25M884.8 649l25 25m0-25l-25 25M878.6 652.4l25 25m0-25l-25 25M877.7 647.8l25 25m0-25l-25 25M870.7 642.9l25 25m0-25l-25 25M869.1 641.2l25 25m0-25l-25 25M865.5 638.3l25 25m0-25l-25 25M865.6 631.8l25 25m0-25l-25 25M859.4 633.9l25 25m0-25l-25 25M853.3 629l25 25m0-25l-25 25M853.9 622.8l25 25m0-25l-25 25M846.5 621.1l25 25m0-25l-25 25M848.6 622.6l25 25m0-25l-25 25M846.7 611.1l25 25m0-25l-25 25M847.4 609.9l25 25m0-25l-25 25M848.8 604.9l25 25m0-25l-25 25M848.4 602.7l25 25m0-25l-25 25M847.7 594.5l25 25m0-25l-25 25M851.4 588.2l25 25m0-25l-25 25M845.3 589.6l25 25m0-25l-25 25M842.9 590.5l25 25m0-25l-25 25M841.6 595.5l25 25m0-25l-25 25M831.1 597.9l25 25m0-25l-25 25M830.8 598.9l25 25m0-25l-25 25M827.9 605.2l25 25m0-25l-25 25M827.1 607.7l25 25m0-25l-25 25M820.6 609.8l25 25m0-25l-25 25M821.4 612.1l25 25m0-25l-25 25M816.7 603l25 25m0-25l-25 25M816 601l25 25m0-25l-25 25M808.3 595.5l25 25m0-25l-25 25M809.8 597.6l25 25m0-25l-25 25M805.7 591.5l25 25m0-25l-25 25M802.2 586.1l25 25m0-25l-25 25M802.4 583.8l25 25m0-25l-25 25M796.8 584.1l25 25m0-25l-25 25M794.9 578.5l25 25m0-25l-25 25M787.3 576.4l25 25m0-25l-25 25M782.6 575.8l25 25m0-25l-25 25M780.2 573.7l25 25m0-25l-25 25M775.1 567.5l25 25m0-25l-25 25M770.7 565.6l25 25m0-25l-25 25M765.8 559.9l25 25m0-25l-25 25M765.8 559.8l25 25m0-25l-25 25M757.7 557.7l25 25m0-25l-25 25M755.2 556.4l25 25m0-25l-25 25M752.2 555.9l25 25m0-25l-25 25M752.6 554l25 25m0-25l-25 25M759.1 543l25 25m0-25l-25 25M761.5 545.8l25 25m0-25l-25 25M763.8 535.6l25 25m0-25l-25 25M766.8 535.5l25 25m0-25l-25 25M762.9 526.5l25 25m0-25l-25 25M773 527.6l25 25m0-25l-25 25M770 519.2l25 25m0-25l-25 25M769.1 516.4l25 25m0-25l-25 25M769.5 517.3l25 25m0-25l-25 25M761.2 525l25 25m0-25l-25 25M763.1 522.4l25 25m0-25l-25 25M760.6 529.2l25 25m0-25l-25 25M756.4 533l25 25m0-25l-25 25M754 537.3l25 25m0-25l-25 25M750.3 535.8l25 25m0-25l-25 25M745.8 541.8l25 25m0-25l-25 25M742.9 544.3l25 25m0-25l-25 25M740.7 548.6l25 25m0-25l-25 25M731.9 543l25 25m0-25l-25 25M727 542l25 25m0-25l-25 25M722.5 538.8l25 25m0-25l-25 25M719.3 536l25 25m0-25l-25 25M718.2 533.4l25 25m0-25l-25 25M717.2 526.1l25 25m0-25l-25 25M713.1 526.8l25 25m0-25l-25 25M707 525.4l25 25m0-25l-25 25M706 521l25 25m0-25l-25 25M699.3 523.7l25 25m0-25l-25 25M693.3 519.1l25 25m0-25l-25 25M694.5 512.2l25 25m0-25l-25 25M690.4 514.3l25 25m0-25l-25 25M689.2 508.4l25 25m0-25l-25 25M685.7 506.8l25 25m0-25l-25 25M677.9 506.8l25 25m0-25l-25 25M670.6 502.7l25 25m0-25l-25 25M671.6 496.9l25 25m0-25l-25 25M669.8 494.4l25 25m0-25l-25 25M662.2 495.7l25 25m0-25l-25 25M660.1 493.2l25 25m0-25l-25 25M652.9 494.9l25 25m0-25l-25 25M649.3 498.1l25 25m0-25l-25 25M642.7 498.1l25 25m0-25l-25 25M639.1 495.5l25 25m0-25l-25 25M633.5 495.6l25 25m0-25l-25 25M634.6 496.7l25 25m0-25l-25 25M635.1 490.2l25 25m0-25l-25 25M633.3 486.1l25 25m0-25l-25 25M637.4 484.9l25 25m0-25l-25 25M640.9 476.2l25 25m0-25l-25 25M642.4 479.1l25 25m0-25l-25 25M642.9 468.5l25 25m0-25l-25 25M642.9 464.2l25 25m0-25l-25 25M642 467.1l25 25m0-25l-25 25M645.4 460.6l25 25m0-25l-25 25M642 461.4l25 25m0-25l-25 25M635.8 457.8l25 25m0-25l-25 25M631.2 457.2l25 25m0-25l-25 25M626.2 455.8l25 25m0-25l-25 25M618.3 454.4l25 25m0-25l-25 25M615.5 454l25 25m0-25l-25 25M607.9 448.1l25 25m0-25l-25 25M602.6 451.6l25 25m0-25l-25 25M604.9 449.4l25 25m0-25l-25 25M595.7 449.5l25 25m0-25l-25 25M594.3 446.2l25 25m0-25l-25 25M585.3 442.8l25 25m0-25l-25 25M581.8 441.7l25 25m0-25l-25 25M578.2 443.6l25 25m0-25l-25 25M578.4 438.2l25 25m0-25l-25 25M571.8 437.4l25 25m0-25l-25 25M564.5 442.9l25 25m0-25l-25 25M262.7 180.4l25 25m0-25l-25 25M307.9 180.4l25 25m0-25l-25 25M334.3 180.4l25 25m0-25l-25 25M353 180.4l25 25m0-25l-25 25M367.5 180.4l25 25m0-25l-25 25M379.4 180.4l25 25m0-25l-25 25M389.5 180.4l25 25m0-25l-25 25M398.2 180.4l25 25m0-25l-25 25M405.8 180.4l25 25m0-25l-25 25M412.7 180.4l25 25m0-25l-25 25M418.9 180.4l25 25m0-25l-25 25M424.6 180.4l25 25m0-25l-25 25M429.8 180.4l25 25m0-25l-25 25M434.6 180.4l25 25m0-25l-25 25M439.1 180.4l25 25m0-25l-25 25M443.3 180.4l25 25m0-25l-25 25M447.3 180.4l25 25m0-25l-25 25M451 180.4l25 25m0-25l-25 25M454.5 180.4l25 25m0-25l-25 25M457.9 180.4l25 25m0-25l-25 25M461 180.4l25 25m0-25l-25 25M464.1 180.4l25 25m0-25l-25 25M467 180.4l25 25m0-25l-25 25M469.7 180.4l25 25m0-25l-25 25M472.4 180.4l25 25m0-25l-25 25M474.9 180.4l25 25m0-25l-25 25M477.4 180.4l25 25m0-25l-25 25M479.8 180.4l25 25m0-25l-25 25M482.1 180.4l25 25m0-25l-25 25M484.3 180.4l25 25m0-25l-25 25M486.4 180.4l25 25m0-25l-25 25M488.5 180.4l25 25m0-25l-25 25M490.5 180.4l25 25m0-25l-25 25M492.4 180.4l25 25m0-25l-25 25M494.3 180.4l25 25m0-25l-25 25M496.1 180.4l25 25m0-25l-25 25M497.9 180.4l25 25m0-25l-25 25M499.7 180.4l25 25m0-25l-25 25M501.4 180.4l25 25m0-25l-25 25M503 180.4l25 25m0-25l-25 25M504.6 180.4l25 25m0-25l-25 25M506.2 180.4l25 25m0-25l-25 25M507.7 180.4l25 25m0-25l-25 25M509.2 180.4l25 25m0-25l-25 25M510.7 180.4l25 25m0-25l-25 25M512.1 180.4l25 25m0-25l-25 25M513.5 180.4l25 25m0-25l-25 25M514.9 180.4l25 25m0-25l-25 25M516.2 180.4l25 25m0-25l-25 25M517.5 180.4l25 25m0-25l-25 25M518.8 180.4l25 25m0-25l-25 25M520.1 180.4l25 25m0-25l-25 25M521.3 180.4l25 25m0-25l-25 25M522.6 180.4l25 25m0-25l-25 25M523.8 180.4l25 25m0-25l-25 25M524.9 180.4l25 25m0-25l-25 25M526.1 180.4l25 25m0-25l-25 25M527.2 180.4l25 25m0-25l-25 25M528.3 180.4l25 25m0-25l-25 25M529.4 180.4l25 25m0-25l-25 25M530.5 180.4l25 25m0-25l-25 25M531.6 180.4l25 25m0-25l-25 25M532.6 180.4l25 25m0-25l-25 25M533.6 180.4l25 25m0-25l-25 25M534.6 180.4l25 25m0-25l-25 25M535.6 180.4l25 25m0-25l-25 25M536.6 180.4l25 25m0-25l-25 25M537.6 180.4l25 25m0-25l-25 25M538.5 180.4l25 25m0-25l-25 25M539.5 180.4l25 25m0-25l-25 25M540.4 180.4l25 25m0-25l-25 25M541.3 180.4l25 25m0-25l-25 25M542.2 180.4l25 25m0-25l-25 25M543.1 180.4l25 25m0-25l-25 25M544 180.4l25 25m0-25l-25 25M544.8 180.4l25 25m0-25l-25 25M545.7 180.4l25 25m0-25l-25 25M546.5 180.4l25 25m0-25l-25 25M547.3 180.4l25 25m0-25l-25 25M548.2 180.4l25 25m0-25l-25 25M549 180.4l25 25m0-25l-25 25M549.8 180.4l25 25m0-25l-25 25M550.6 180.4l25 25m0-25l-25 25M551.3 180.4l25 25m0-25l-25 25M552.1 180.4l25 25m0-25l-25 25M552.9 180.4l25 25m0-25l-25 25M553.6 180.4l25 25m0-25l-25 25M554.4 180.4l25 25m0-25l-25 25M555.1 180.4l25 25m0-25l-25 25M555.8 180.4l25 25m0-25l-25 25M556.6 180.4l25 25m0-25l-25 25M557.3 180.4l25 25m0-25l-25 25M558 180.4l25 25m0-25l-25 25M558.7 180.4l25 25m0-25l-25 25M559.4 180.4l25 25m0-25l-25 25M560 180.4l25 25m0-25l-25 25M560.7 180.4l25 25m0-25l-25 25M561.4 180.4l25 25m0-25l-25 25M562 180.4l25 25m0-25l-25 25M562.7 180.4l25 25m0-25l-25 25M563.3 180.4l25 25m0-25l-25 25M564 180.4l25 25m0-25l-25 25M564.6 180.4l25 25m0-25l-25 25M565.3 180.4l25 25m0-25l-25 25M565.9 180.4l25 25m0-25l-25 25M566.5 180.4l25 25m0-25l-25 25M599 512.5l25 25m0-25l-25 25M652.5 580.5l25 25m0-25l-25 25M680 570.5l25 25m0-25l-25 25M652.5 581.5l25 25m0-25l-25 25M652.5 571.5l25 25m0-25l-25 25M709.5 606.5l25 25m0-25l-25 25M741.5 640.5l25 25m0-25l-25 25M743.5 620.5l25 25m0-25l-25 25M572.5 500.5l25 25m0-25l-25 25M587.5 507.5l25 25m0-25l-25 25" fill="none" stroke="#2ca02c" stroke-width="4.17"/>
</g>
<g clip-path="url(#cp1)">
<path d="M275.4 941.6h0.01M347.4 951.9h0.01M320.3 1151.7h0.01M366.4 1179.9h0.01M391.6 1201.2h0.01M409 1181.4h0.01M421.3 1191.8h0.01M432.5 1279.7h0.01M446.1 1186.8h0.01M449.8 1215.3h0.01M454.8 1198h0.01M473.4 1194.3h0.01M478.3 1214.1h0.01M484.5 1288.4h0.01M509.3 1303.2h0.01M529.1 1302h0.01M541.5 1285.9h0.01M534 1205.4h0.01M547.6 1236.4h0.01M547.6 1202.9h0.01M379.9 958.7h0.01M401.3 962.4h0.01M417.1 967.9h0.01M428 971.2h0.01M439 975.5h0.01M447.8 981h0.01M454.3 987.6h0.01M455.4 995.3h0.01M455.4 1012.1h0.01M451 984.5h0.01M455.4 1002.5h0.01M455.5 1172.5h0.01M455.5 1159.6h0.01M458.5 1142.3h0.01M470.9 1134.8h0.01M488.2 1137.3h0.01M500.6 1147.2h0.01M501.8 1160.8h0.01M501.8 1253.7h0.01M501.8 1178.2h0.01M501.8 1196.7h0.01M501.8 1216.5h0.01M501.8 1233.9h0.01M446 1186.5 478 1197.5 502 1215.5M502.4 1219.6h0.01M516.7 1210.3h0.01M531.4 1208.5h0.01M551.7 1210.4h0.01M566.9 1207.6h0.01M578.8 1215.2h0.01M593.1 1219.3h0.01M609.3 1224h0.01M629.9 1230.1h0.01M644.6 1232.6h0.01M657.4 1235.5h0.01M666.4 1241.1h0.01M684 1242.5h0.01M700.3 1240.4h0.01M719.8 1245.1h0.01M736.7 1249.5h0.01M749.4 1253.3h0.01M769 1256.8h0.01M783.8 1260.8h0.01M797.7 1268.1h0.01M806.6 1269.6h0.01M826.8 1277.9h0.01M840.9 1279.7h0.01M861.1 1283.3h0.01M878.4 1285.9h0.01M891 1286.3h0.01M910.2 1287.7h0.01M927.3 1287.2h0.01M944.5 1289.3h0.01M959.4 1289h0.01M973.9 1286.1h0.01M991.4 1287.2h0.01M995.2 1267.1h0.01M996.5 1246.3h0.01M1003.6 1231.3h0.01M1006.6 1211.2h0.01M1005.5 1233.6h0.01M1006.7 1250.9h0.01M1004 1269.2h0.01M1006.9 1288.2h0.01M1005.9 1308.5h0.01M988.4 1309.9h0.01M966.8 1306.2h0.01M948.1 1308.6h0.01M931.2 1310.9h0.01M914.1 1307.4h0.01M895.3 1311.6h0.01M876.5 1310.4h0.01M854.7 1311.8h0.01M838.4 1310.9h0.01M820.1 1309.2h0.01M798.8 1308.5h0.01M785.2 1304.9h0.01M767.9 1306.8h0.01M748.2 1303.3h0.01M733.3 1300.8h0.01M711.7 1298.8h0.01M695.1 1300.5h0.01M674.4 1295.9h0.01M656.8 1298.4h0.01M634.7 1296.4h0.01M618.8 1299.6h0.01M597.8 1299.2h0.01M578.9 1299.4h0.01M560.6 1299.1h0.01M546.7 1299.8h0.01M529.6 1299.7h0.01M518.7 1298.4h0.01M505.7 1302.7h0.01M505.4 1282.7h0.01M504.7 1270.5h0.01M500.3 1254h0.01M501.2 1235.6h0.01M499.6 1215.2h0.01" fill="none" stroke="#1f77b4" stroke-width="29.2" stroke-linecap="round" stroke-linejoin="round"/>
<path d="M502 1217.5 532 1208 567 1208 594.5 1221 629 1232 668.8 1240 718.4 1244 768 1257 809 1272 860 1285 943 1290 990 1285 1005 1212 1005 1308 893.6 1310 818 1310 732.4 1301 636 1296 578.5 1301 529.3 1300.2 508 1300.2 502 1253.5z" fill="#1f77b4"/>
<path d="M525.9 1259.5Q542.9 1259.5 542.9 1244.5Q542.9 1259.5 559.9 1259.5Q542.9 1259.5 542.9 1273.5Q542.9 1259.5 525.9 1259.5z" fill="#fff"/>
<path d="M578 1045.9 578 1098 678 1098 678 1074.1 578 1045.9zM650.4 1115.9 657.2 1150 665.2 1151.9 686.9 1168.2 720.8 1190.1 744.3 1207 769.1 1214 786.5 1225.6 808.8 1246.8 836 1279.5 842.4 1306 870.8 1306 901.4 1310.1 949.6 1315 1005.4 1315 1008 1312.7 1008 1252.9 948.7 1257.1 907.5 1251.8 872.9 1241.3 820.9 1219.6 790.4 1172 747.2 1172 692.5 1144.7 668.3 1116.7 650.4 1115.9z" fill="#ff7f0e"/>
<path d="M580.9 1035.6l12.5 25h-25zM577.9 1039.6l12.5 25h-25zM576.6 1046.6l12.5 25h-25zM577.6 1053.4l12.5 25h-25zM579.6 1058.4l12.5 25h-25zM580.8 1060.8l12.5 25h-25zM575.2 1066.3l12.5 25h-25zM576.1 1071.4l12.5 25h-25zM575.3 1080.1l12.5 25h-25zM580.2 1085.2l12.5 25h-25zM586.6 1088l12.5 25h-25zM587.1 1086.1l12.5 25h-25zM595 1083.2l12.5 25h-25zM604.3 1084l12.5 25h-25zM607.8 1086.3l12.5 25h-25zM616 1086.5l12.5 25h-25zM618.5 1085.2l12.5 25h-25zM623 1088.3l12.5 25h-25zM633.9 1083.8l12.5 25h-25zM634.1 1084l12.5 25h-25zM641.8 1087.9l12.5 25h-25zM651 1087.5l12.5 25h-25zM651.8 1087.2l12.5 25h-25zM661.6 1086.4l12.5 25h-25zM669.1 1082.8l12.5 25h-25zM670 1087l12.5 25h-25zM680.6 1086.6l12.5 25h-25zM676.8 1080.1l12.5 25h-25zM679.5 1071.2l12.5 25h-25zM676.9 1066.1l12.5 25h-25zM675.7 1061.5l12.5 25h-25zM670.5 1058.4l12.5 25h-25zM664.7 1059.5l12.5 25h-25zM658.4 1058.2l12.5 25h-25zM653.9 1052.5l12.5 25h-25zM652.8 1052.1l12.5 25h-25zM647.3 1054.4l12.5 25h-25zM641.4 1048.4l12.5 25h-25zM633.2 1046.6l12.5 25h-25zM630.6 1049.5l12.5 25h-25zM623.2 1045.6l12.5 25h-25zM615.9 1046.3l12.5 25h-25zM611.2 1043.5l12.5 25h-25zM603.6 1039.5l12.5 25h-25zM597.6 1040.9l12.5 25h-25zM595 1035.9l12.5 25h-25zM591.3 1035.1l12.5 25h-25zM583 1032.9l12.5 25h-25zM576.6 1035.4l12.5 25h-25zM649.4 1101.4l12.5 25h-25zM651.5 1108l12.5 25h-25zM655.1 1112.5l12.5 25h-25zM656.7 1117.8l12.5 25h-25zM657.3 1127.2l12.5 25h-25zM654.4 1131.7l12.5 25h-25zM656 1136.1l12.5 25h-25zM659.4 1137.6l12.5 25h-25zM668.1 1142.4l12.5 25h-25zM672.1 1140.2l12.5 25h-25zM672.6 1148.3l12.5 25h-25zM675.5 1150.5l12.5 25h-25zM681.3 1155.3l12.5 25h-25zM684 1157.5l12.5 25h-25zM690.8 1156.6l12.5 25h-25zM693.6 1163.9l12.5 25h-25zM701.6 1163.2l12.5 25h-25zM705.9 1170.7l12.5 25h-25zM709.4 1171.7l12.5 25h-25zM713.8 1172.5l12.5 25h-25zM722.4 1178.9l12.5 25h-25zM723.7 1178.4l12.5 25h-25zM727.7 1185l12.5 25h-25zM734.9 1186.4l12.5 25h-25zM737.8 1191.8l12.5 25h-25zM745.5 1196.4l12.5 25h-25zM749.7 1194.1l12.5 25h-25zM751.6 1198.7l12.5 25h-25zM758.6 1200l12.5 25h-25zM761.4 1201.9l12.5 25h-25zM768.1 1203.5l12.5 25h-25zM775.6 1204.3l12.5 25h-25zM774.9 1209.7l12.5 25h-25zM782 1212.4l12.5 25h-25zM785.1 1211.2l12.5 25h-25zM792.2 1215.8l12.5 25h-25zM791.9 1219.4l12.5 25h-25zM798.2 1220.7l12.5 25h-25zM801.5 1226.9l12.5 25h-25zM805.2 1228.5l12.5 25h-25zM810.1 1236.2l12.5 25h-25zM814.4 1237.3l12.5 25h-25zM816.9 1241.7l12.5 25h-25zM820.5 1243.9l12.5 25h-25zM824.6 1253.3l12.5 25h-25zM825.8 1254.8l12.5 25h-25zM829.4 1259l12.5 25h-25zM829.7 1265.7l12.5 25h-25zM834.3 1265.1l12.5 25h-25zM834.9 1270.8l12.5 25h-25zM840.5 1274.8l12.5 25h-25zM837.4 1284.1l12.5 25h-25zM839.3 1285.3l12.5 25h-25zM843 1294l12.5 25h-25zM848.2 1294.7l12.5 25h-25zM851.4 1295.7l12.5 25h-25zM860.8 1290.8l12.5 25h-25zM862.9 1293.5l12.5 25h-25zM870.8 1292.2l12.5 25h-25zM873.6 1293.6l12.5 25h-25zM878.8 1295.4l12.5 25h-25zM888.3 1293.4l12.5 25h-25zM891.6 1297.7l12.5 25h-25zM894.3 1298.9l12.5 25h-25zM904 1296.9l12.5 25h-25zM906.3 1300.2l12.5 25h-25zM912.3 1298l12.5 25h-25zM920.1 1300.9l12.5 25h-25zM921.9 1298.2l12.5 25h-25zM927.2 1299.9l12.5 25h-25zM936.4 1302.7l12.5 25h-25zM941.4 1303.3l12.5 25h-25zM946.3 1299.3l12.5 25h-25zM949.7 1305.2l12.5 25h-25zM957.8 1301l12.5 25h-25zM960.3 1303.3l12.5 25h-25zM965.5 1302.7l12.5 25h-25zM969.3 1302.1l12.5 25h-25zM977.5 1299.6l12.5 25h-25zM980.9 1305.3l12.5 25h-25zM990.3 1305.1l12.5 25h-25zM995 1304.4l12.5 25h-25zM1002.1 1304.8l12.5 25h-25zM1002.6 1303.3l12.5 25h-25zM1006.6 1301.2l12.5 25h-25zM1006.6 1294.4l12.5 25h-25zM1010.5 1288.9l12.5 25h-25zM1006.5 1282.3l12.5 25h-25zM1007.6 1278.9l12.5 25h-25zM1006.7 1269.1l12.5 25h-25zM1008.9 1262l12.5 25h-25zM1008.6 1261l12.5 25h-25zM1008.1 1250.9l12.5 25h-25zM1007.8 1246.6l12.5 25h-25zM1005.9 1238.1l12.5 25h-25zM999.9 1239.6l12.5 25h-25zM995.6 1239.9l12.5 25h-25zM988.7 1239.2l12.5 25h-25zM984.5 1244.1l12.5 25h-25zM979 1242.9l12.5 25h-25zM973.3 1241.1l12.5 25h-25zM967.7 1243.1l12.5 25h-25zM960.8 1244.4l12.5 25h-25zM954.4 1243l12.5 25h-25zM947.1 1242.9l12.5 25h-25zM942.8 1243.1l12.5 25h-25zM937.4 1240.1l12.5 25h-25zM930.1 1244.5l12.5 25h-25zM923.6 1241.9l12.5 25h-25zM919.2 1239.5l12.5 25h-25zM916.3 1238.8l12.5 25h-25zM909.1 1237.2l12.5 25h-25zM899.9 1240l12.5 25h-25zM897.3 1233.7l12.5 25h-25zM892 1234.4l12.5 25h-25zM889.2 1231l12.5 25h-25zM881.2 1234.6l12.5 25h-25zM879.3 1228.2l12.5 25h-25zM872 1227.9l12.5 25h-25zM868.8 1227.3l12.5 25h-25zM864.6 1226.4l12.5 25h-25zM857.4 1223.7l12.5 25h-25zM853.6 1221.7l12.5 25h-25zM846.8 1219.7l12.5 25h-25zM843 1218.3l12.5 25h-25zM834.3 1215.9l12.5 25h-25zM828.3 1213.1l12.5 25h-25zM826.6 1209.3l12.5 25h-25zM823.7 1207.6l12.5 25h-25zM817.4 1204.1l12.5 25h-25zM817.1 1198.2l12.5 25h-25zM811 1192.6l12.5 25h-25zM808.5 1189.4l12.5 25h-25zM804.4 1182.7l12.5 25h-25zM803 1177.9l12.5 25h-25zM798.5 1175.5l12.5 25h-25zM798.6 1169l12.5 25h-25zM793.1 1162.4l12.5 25h-25zM789.3 1157.4l12.5 25h-25zM785.5 1160l12.5 25h-25zM777.1 1162l12.5 25h-25zM773.2 1161.6l12.5 25h-25zM770.8 1162.3l12.5 25h-25zM761.6 1159.1l12.5 25h-25zM760.4 1156.6l12.5 25h-25zM749.9 1159.9l12.5 25h-25zM747.2 1162l12.5 25h-25zM743.8 1157.2l12.5 25h-25zM740.2 1154.6l12.5 25h-25zM732.4 1153.2l12.5 25h-25zM726.6 1148.7l12.5 25h-25zM722.9 1146.2l12.5 25h-25zM720 1145.6l12.5 25h-25zM712.5 1139.7l12.5 25h-25zM706.7 1139l12.5 25h-25zM702.8 1137.6l12.5 25h-25zM699.7 1137.4l12.5 25h-25zM692.4 1131.8l12.5 25h-25zM689.8 1131.2l12.5 25h-25zM684.6 1124.4l12.5 25h-25zM684 1118.2l12.5 25h-25zM677.6 1119.1l12.5 25h-25zM677.2 1112.3l12.5 25h-25zM669.4 1110.6l12.5 25h-25zM669.4 1106.2l12.5 25h-25zM665.3 1106.3l12.5 25h-25zM655.9 1101.6l12.5 25h-25zM649.2 1103.5l12.5 25h-25zM275.2 777.9l12.5 25h-25zM320.4 777.9l12.5 25h-25zM346.8 777.9l12.5 25h-25zM365.5 777.9l12.5 25h-25zM380 777.9l12.5 25h-25zM391.9 777.9l12.5 25h-25zM402 777.9l12.5 25h-25zM410.7 777.9l12.5 25h-25zM418.3 777.9l12.5 25h-25zM425.2 777.9l12.5 25h-25zM431.4 777.9l12.5 25h-25zM437.1 777.9l12.5 25h-25zM442.3 777.9l12.5 25h-25zM447.1 777.9l12.5 25h-25zM451.6 777.9l12.5 25h-25zM455.8 777.9l12.5 25h-25zM459.8 777.9l12.5 25h-25zM463.5 777.9l12.5 25h-25zM467 777.9l12.5 25h-25zM470.4 777.9l12.5 25h-25zM473.5 777.9l12.5 25h-25zM476.6 777.9l12.5 25h-25zM479.5 777.9l12.5 25h-25zM482.2 777.9l12.5 25h-25zM484.9 777.9l12.5 25h-25zM487.4 777.9l12.5 25h-25zM489.9 777.9l12.5 25h-25zM492.3 777.9l12.5 25h-25zM494.6 777.9l12.5 25h-25zM496.8 777.9l12.5 25h-25zM498.9 777.9l12.5 25h-25zM501 777.9l12.5 25h-25zM503 777.9l12.5 25h-25zM504.9 777.9l12.5 25h-25zM506.8 777.9l12.5 25h-25zM508.6 777.9l12.5 25h-25zM510.4 777.9l12.5 25h-25zM512.2 777.9l12.5 25h-25zM513.9 777.9l12.5 25h-25zM515.5 777.9l12.5 25h-25zM517.1 777.9l12.5 25h-25zM518.7 777.9l12.5 25h-25zM520.2 777.9l12.5 25h-25zM521.7 777.9l12.5 25h-25zM523.2 777.9l12.5 25h-25zM524.6 777.9l12.5 25h-25zM526 777.9l12.5 25h-25zM527.4 777.9l12.5 25h-25zM528.7 777.9l12.5 25h-25zM530 777.9l12.5 25h-25zM531.3 777.9l12.5 25h-25zM532.6 777.9l12.5 25h-25zM533.8 777.9l12.5 25h-25zM535.1 777.9l12.5 25h-25zM536.3 777.9l12.5 25h-25zM537.4 777.9l12.5 25h-25zM538.6 777.9l12.5 25h-25zM539.7 777.9l12.5 25h-25zM540.8 777.9l12.5 25h-25zM541.9 777.9l12.5 25h-25zM543 777.9l12.5 25h-25zM544.1 777.9l12.5 25h-25zM545.1 777.9l12.5 25h-25zM546.1 777.9l12.5 25h-25zM547.1 777.9l12.5 25h-25zM548.1 777.9l12.5 25h-25zM549.1 777.9l12.5 25h-25zM550.1 777.9l12.5 25h-25zM551 777.9l12.5 25h-25zM552 777.9l12.5 25h-25zM552.9 777.9l12.5 25h-25zM553.8 777.9l12.5 25h-25zM554.7 777.9l12.5 25h-25zM555.6 777.9l12.5 25h-25zM556.5 777.9l12.5 25h-25zM557.3 777.9l12.5 25h-25zM558.2 777.9l12.5 25h-25zM559 777.9l12.5 25h-25zM559.8 777.9l12.5 25h-25zM560.7 777.9l12.5 25h-25zM561.5 777.9l12.5 25h-25zM562.3 777.9l12.5 25h-25zM563.1 777.9l12.5 25h-25zM563.8 777.9l12.5 25h-25zM564.6 777.9l12.5 25h-25zM565.4 777.9l12.5 25h-25zM566.1 777.9l12.5 25h-25zM566.9 777.9l12.5 25h-25zM567.6 777.9l12.5 25h-25zM568.3 777.9l12.5 25h-25zM569.1 777.9l12.5 25h-25zM569.8 777.9l12.5 25h-25zM570.5 777.9l12.5 25h-25zM571.2 777.9l12.5 25h-25zM571.9 777.9l12.5 25h-25zM572.5 777.9l12.5 25h-25zM573.2 777.9l12.5 25h-25zM573.9 777.9l12.5 25h-25zM574.5 777.9l12.5 25h-25zM575.2 777.9l12.5 25h-25zM575.8 777.9l12.5 25h-25zM576.5 777.9l12.5 25h-25zM577.1 777.9l12.5 25h-25zM577.8 777.9l12.5 25h-25zM578.4 777.9l12.5 25h-25zM579 777.9l12.5 25h-25zM578 1030.5l12.5 25h-25zM576.9 1033l12.5 25h-25zM576.9 1035.5l12.5 25h-25zM578.5 1037.9l12.5 25h-25zM578.4 1040.4l12.5 25h-25zM577.5 1042.9l12.5 25h-25zM579.8 1045.4l12.5 25h-25zM578.5 1047.8l12.5 25h-25zM576.4 1050.3l12.5 25h-25zM577.7 1052.8l12.5 25h-25zM579 1055.3l12.5 25h-25zM577.3 1057.8l12.5 25h-25zM578.7 1060.2l12.5 25h-25zM576.2 1062.7l12.5 25h-25zM577.3 1065.2l12.5 25h-25zM579.2 1067.7l12.5 25h-25zM578.3 1070.2l12.5 25h-25zM578.6 1072.6l12.5 25h-25zM576.9 1075.1l12.5 25h-25zM578 1077.6l12.5 25h-25zM578.2 1080.1l12.5 25h-25zM577.2 1082.5l12.5 25h-25zM578.5 1085l12.5 25h-25zM578.1 1087.5l12.5 25h-25zM600.8 1000.5l12.5 25h-25zM599.3 1003l12.5 25h-25zM598.7 1005.5l12.5 25h-25zM597.7 1008l12.5 25h-25zM597.9 1010.4l12.5 25h-25zM600.1 1012.9l12.5 25h-25zM597.7 1015.4l12.5 25h-25zM597.7 1017.9l12.5 25h-25zM598 1020.4l12.5 25h-25zM599.3 1022.9l12.5 25h-25zM600.4 1025.4l12.5 25h-25zM599.7 1027.9l12.5 25h-25zM600.4 1030.3l12.5 25h-25zM597.8 1032.8l12.5 25h-25zM597.6 1035.3l12.5 25h-25zM600.4 1037.8l12.5 25h-25zM598.8 1040.3l12.5 25h-25zM600.2 1042.8l12.5 25h-25zM598.9 1045.3l12.5 25h-25zM598.3 1047.8l12.5 25h-25zM598.7 1050.2l12.5 25h-25zM598.1 1052.7l12.5 25h-25zM601 1055.2l12.5 25h-25zM599.9 1057.7l12.5 25h-25zM599.1 1060.2l12.5 25h-25zM599.5 1062.7l12.5 25h-25zM599.3 1065.2l12.5 25h-25zM598.1 1067.7l12.5 25h-25zM601.1 1070.1l12.5 25h-25zM600 1072.6l12.5 25h-25zM601.4 1075.1l12.5 25h-25zM599.6 1077.6l12.5 25h-25zM600.3 1080.1l12.5 25h-25zM598.9 1082.6l12.5 25h-25zM598.2 1085.1l12.5 25h-25zM601.4 1087.6l12.5 25h-25zM601.2 1090l12.5 25h-25zM599.3 1092.5l12.5 25h-25zM601.4 1095l12.5 25h-25zM601.1 1097.5l12.5 25h-25zM631.7 1013l12.5 25h-25zM632.8 1015.5l12.5 25h-25zM634.2 1018l12.5 25h-25zM632.6 1020.5l12.5 25h-25zM634.3 1022.9l12.5 25h-25zM631.9 1025.4l12.5 25h-25zM632.5 1027.9l12.5 25h-25zM633.7 1030.4l12.5 25h-25zM632 1032.9l12.5 25h-25zM632.4 1035.4l12.5 25h-25zM634.5 1037.9l12.5 25h-25zM633.2 1040.3l12.5 25h-25zM634.4 1042.8l12.5 25h-25zM632.5 1045.3l12.5 25h-25zM632.3 1047.8l12.5 25h-25zM633 1050.3l12.5 25h-25zM632.5 1052.8l12.5 25h-25zM635.4 1055.2l12.5 25h-25zM633 1057.7l12.5 25h-25zM634.1 1060.2l12.5 25h-25zM632.5 1062.7l12.5 25h-25zM634.1 1065.2l12.5 25h-25zM633.7 1067.7l12.5 25h-25zM633.8 1070.2l12.5 25h-25zM632.7 1072.6l12.5 25h-25zM633 1075.1l12.5 25h-25zM635.6 1077.6l12.5 25h-25zM633.9 1080.1l12.5 25h-25zM633.6 1082.6l12.5 25h-25zM633.5 1085.1l12.5 25h-25zM633.9 1087.6l12.5 25h-25zM633.8 1090l12.5 25h-25zM633.2 1092.5l12.5 25h-25zM635.5 1095l12.5 25h-25zM634.4 1097.5l12.5 25h-25zM664.7 1023.5l12.5 25h-25zM666.7 1026l12.5 25h-25zM664.6 1028.4l12.5 25h-25zM665.3 1030.9l12.5 25h-25zM667.4 1033.4l12.5 25h-25zM664.9 1035.8l12.5 25h-25zM666.1 1038.3l12.5 25h-25zM667.6 1040.8l12.5 25h-25zM667.6 1043.2l12.5 25h-25zM665.3 1045.7l12.5 25h-25zM666.1 1048.2l12.5 25h-25zM667.5 1050.6l12.5 25h-25zM666.3 1053.1l12.5 25h-25zM668.5 1055.6l12.5 25h-25zM665.8 1058l12.5 25h-25zM668.6 1060.5l12.5 25h-25zM667 1063l12.5 25h-25zM666.1 1065.4l12.5 25h-25zM667 1067.9l12.5 25h-25zM665.9 1070.4l12.5 25h-25zM668 1072.8l12.5 25h-25zM666.5 1075.3l12.5 25h-25zM668.9 1077.8l12.5 25h-25zM667.8 1080.2l12.5 25h-25zM667.1 1082.7l12.5 25h-25zM666.7 1085.2l12.5 25h-25zM668.1 1087.6l12.5 25h-25zM666.8 1090.1l12.5 25h-25zM669.2 1092.6l12.5 25h-25zM666.6 1095l12.5 25h-25zM668 1097.5l12.5 25h-25zM700.7 1038.5l12.5 25h-25zM700.2 1040.9l12.5 25h-25zM702.5 1043.3l12.5 25h-25zM701.7 1045.7l12.5 25h-25zM703.2 1048.1l12.5 25h-25zM703.4 1050.4l12.5 25h-25zM703 1052.8l12.5 25h-25zM703.8 1055.2l12.5 25h-25zM703.2 1057.6l12.5 25h-25zM704.1 1060l12.5 25h-25zM707 1062.4l12.5 25h-25zM705.7 1064.8l12.5 25h-25zM707.4 1067.2l12.5 25h-25zM706 1069.6l12.5 25h-25zM708.1 1071.9l12.5 25h-25zM707.9 1074.3l12.5 25h-25zM708.9 1076.7l12.5 25h-25zM708.7 1079.1l12.5 25h-25zM708.4 1081.5l12.5 25h-25zM760.3 1039.5l12.5 25h-25zM760.8 1041.8l12.5 25h-25zM761.3 1044.1l12.5 25h-25zM764.2 1046.4l12.5 25h-25zM763.5 1048.6l12.5 25h-25zM764.7 1050.9l12.5 25h-25zM767.3 1053.2l12.5 25h-25zM767.7 1055.5l12.5 25h-25zM768.9 1057.8l12.5 25h-25zM769.6 1060.1l12.5 25h-25zM767.8 1062.4l12.5 25h-25zM769.1 1064.6l12.5 25h-25zM769 1066.9l12.5 25h-25zM772.2 1069.2l12.5 25h-25zM772.9 1071.5l12.5 25h-25zM772.6 1073.8l12.5 25h-25zM773.6 1076.1l12.5 25h-25zM775.3 1078.4l12.5 25h-25zM776.3 1080.6l12.5 25h-25zM775.5 1082.9l12.5 25h-25zM778.4 1085.2l12.5 25h-25zM777.5 1087.5l12.5 25h-25zM808.3 1104.5l12.5 25h-25zM806.1 1106.9l12.5 25h-25zM805.3 1109.2l12.5 25h-25zM807.6 1111.6l12.5 25h-25zM806.4 1113.9l12.5 25h-25zM805.8 1116.3l12.5 25h-25zM802.8 1118.6l12.5 25h-25zM802.2 1121l12.5 25h-25zM802.1 1123.4l12.5 25h-25zM801.7 1125.7l12.5 25h-25zM801.5 1128.1l12.5 25h-25zM801.2 1130.4l12.5 25h-25zM799.5 1132.8l12.5 25h-25zM799.9 1135.1l12.5 25h-25zM800.5 1137.5l12.5 25h-25zM854.5 1123.5l12.5 25h-25zM857.5 1125.9l12.5 25h-25zM857 1128.2l12.5 25h-25zM858.1 1130.6l12.5 25h-25zM856.9 1133l12.5 25h-25zM858.1 1135.4l12.5 25h-25zM859.5 1137.7l12.5 25h-25zM858.9 1140.1l12.5 25h-25zM858.1 1142.5l12.5 25h-25zM861.7 1144.8l12.5 25h-25zM862 1147.2l12.5 25h-25zM860.8 1149.6l12.5 25h-25zM860.4 1151.9l12.5 25h-25zM863.9 1154.3l12.5 25h-25zM863.5 1156.7l12.5 25h-25zM862 1159.1l12.5 25h-25zM863.3 1161.4l12.5 25h-25zM863.3 1163.8l12.5 25h-25zM866.3 1166.2l12.5 25h-25zM864.7 1168.5l12.5 25h-25zM867.8 1170.9l12.5 25h-25zM867.7 1173.3l12.5 25h-25zM865.9 1175.6l12.5 25h-25zM868.6 1178l12.5 25h-25zM868 1180.4l12.5 25h-25zM869.8 1182.8l12.5 25h-25zM870.7 1185.1l12.5 25h-25zM869.2 1187.5l12.5 25h-25zM968.5 1109.5l12.5 25h-25zM986 1124.5l12.5 25h-25zM968.5 1148.5l12.5 25h-25zM956.5 1220.5l12.5 25h-25zM959.7 1223l12.5 25h-25zM957.9 1225.5l12.5 25h-25zM959.8 1227.9l12.5 25h-25zM959 1230.4l12.5 25h-25zM959.2 1232.9l12.5 25h-25zM959.6 1235.4l12.5 25h-25zM959 1237.9l12.5 25h-25zM958.4 1240.4l12.5 25h-25zM957.1 1242.8l12.5 25h-25zM959.5 1245.3l12.5 25h-25zM958.6 1247.8l12.5 25h-25zM958.9 1250.3l12.5 25h-25zM960.5 1252.8l12.5 25h-25zM957.7 1255.2l12.5 25h-25zM960.1 1257.7l12.5 25h-25zM957.5 1260.2l12.5 25h-25zM960 1262.7l12.5 25h-25zM960.4 1265.2l12.5 25h-25zM958.5 1267.6l12.5 25h-25zM959.6 1270.1l12.5 25h-25zM961.2 1272.6l12.5 25h-25zM960.1 1275.1l12.5 25h-25zM959.9 1277.6l12.5 25h-25zM958.9 1280.1l12.5 25h-25zM958.3 1282.5l12.5 25h-25zM959.4 1285l12.5 25h-25zM959.7 1287.5l12.5 25h-25zM976.9 1204.5l12.5 25h-25zM977.4 1206.9l12.5 25h-25zM976.8 1209.4l12.5 25h-25zM978.9 1211.8l12.5 25h-25zM978.8 1214.3l12.5 25h-25zM977.4 1216.7l12.5 25h-25zM977.4 1219.1l12.5 25h-25zM978.5 1221.6l12.5 25h-25zM978.3 1224l12.5 25h-25zM980.1 1226.5l12.5 25h-25zM978.1 1228.9l12.5 25h-25zM977.9 1231.4l12.5 25h-25zM980.1 1233.8l12.5 25h-25zM977.5 1236.2l12.5 25h-25zM979.1 1238.7l12.5 25h-25zM978.3 1241.1l12.5 25h-25zM980.1 1243.6l12.5 25h-25zM979.2 1246l12.5 25h-25zM980 1248.4l12.5 25h-25zM977.9 1250.9l12.5 25h-25zM979.8 1253.3l12.5 25h-25zM979.6 1255.8l12.5 25h-25zM979.2 1258.2l12.5 25h-25zM980.3 1260.6l12.5 25h-25zM980.6 1263.1l12.5 25h-25zM978.1 1265.5l12.5 25h-25zM978.8 1268l12.5 25h-25zM979.1 1270.4l12.5 25h-25zM978.6 1272.9l12.5 25h-25zM978.1 1275.3l12.5 25h-25zM979 1277.7l12.5 25h-25zM978.7 1280.2l12.5 25h-25zM980.6 1282.6l12.5 25h-25zM979.8 1285.1l12.5 25h-25zM978.6 1287.5l12.5 25h-25zM989.4 1193.5l12.5 25h-25zM990 1196l12.5 25h-25zM989.8 1198.4l12.5 25h-25zM989.2 1200.9l12.5 25h-25zM989 1203.4l12.5 25h-25zM988.9 1205.9l12.5 25h-25zM992.6 1208.3l12.5 25h-25zM991.8 1210.8l12.5 25h-25zM989.6 1213.3l12.5 25h-25zM992 1215.8l12.5 25h-25zM993 1218.2l12.5 25h-25zM991.7 1220.7l12.5 25h-25zM990.2 1223.2l12.5 25h-25zM991.7 1225.7l12.5 25h-25zM991.6 1228.1l12.5 25h-25zM990.9 1230.6l12.5 25h-25zM992.3 1233.1l12.5 25h-25zM990.5 1235.6l12.5 25h-25zM993.9 1238l12.5 25h-25zM993 1240.5l12.5 25h-25zM993.1 1243l12.5 25h-25zM994.3 1245.4l12.5 25h-25zM993.4 1247.9l12.5 25h-25zM992.1 1250.4l12.5 25h-25zM992.2 1252.9l12.5 25h-25zM992 1255.3l12.5 25h-25zM991.7 1257.8l12.5 25h-25zM994.5 1260.3l12.5 25h-25zM994.9 1262.8l12.5 25h-25zM993.1 1265.2l12.5 25h-25zM992.8 1267.7l12.5 25h-25zM994.6 1270.2l12.5 25h-25zM995.5 1272.7l12.5 25h-25zM995.9 1275.1l12.5 25h-25zM993.3 1277.6l12.5 25h-25zM995.6 1280.1l12.5 25h-25zM995.9 1282.6l12.5 25h-25zM995.7 1285l12.5 25h-25zM994.4 1287.5l12.5 25h-25zM612 1130.5l12.5 25h-25zM623.8 1150.5l12.5 25h-25zM654 1170.5l12.5 25h-25zM718.4 1231.5l12.5 25h-25zM758 1227.5l12.5 25h-25zM834 1289.5l12.5 25h-25zM911 1298.5l12.5 25h-25zM623 1119.5l12.5 25h-25zM634 1131.5l12.5 25h-25zM625 1150.5l12.5 25h-25zM655 1170.5l12.5 25h-25zM712 1199.5l12.5 25h-25zM725 1225.5l12.5 25h-25zM759 1225.5l12.5 25h-25zM786 1219.5l12.5 25h-25z" fill="#ff7f0e" stroke="#ff7f0e" stroke-width="4.17" stroke-linejoin="miter"/>
<path d="M581.9 1050.7 580.3 1093.6 589.4 1099.1 612.6 1114 657.6 1107.5 658.7 1149.7 686.6 1161.6 721 1183.9 743.7 1195.7 770.9 1201.1 789.4 1219.6 808 1242.5 834 1259.5 870.1 1285.9 899.1 1299.1 921.5 1308 955.6 1308 1004.3 1300.1 1003.2 1215 1001.1 1215 993.1 1233.4 964.8 1251 941 1247.6 912.8 1239.1 898.4 1229.5 884.2 1227.2 852.1 1211.4 858.3 1181.8 839.1 1206.6 801.3 1184.9 773.2 1185.2 783 1131.3 783.2 1125 780.1 1125 771.2 1137.7 747.7 1161 732.6 1135.8 721.2 1128.1 690.9 1112.8 674.9 1099.9 657.3 1085.7 657.3 1069.5 615.4 1065.5 589.6 1052.6 581.9 1050.7z" fill="#2ca02c"/>
<path d="M566.8 1040.8l25 25m0-25l-25 25M567.7 1041.9l25 25m0-25l-25 25M569.4 1046.7l25 25m0-25l-25 25M571.5 1050.4l25 25m0-25l-25 25M565 1057.8l25 25m0-25l-25 25M569.5 1064.6l25 25m0-25l-25 25M570 1070l25 25m0-25l-25 25M571.7 1071.5l25 25m0-25l-25 25M568 1073.6l25 25m0-25l-25 25M566.2 1081.7l25 25m0-25l-25 25M567.5 1084.4l25 25m0-25l-25 25M571.2 1084.3l25 25m0-25l-25 25M580.7 1083.3l25 25m0-25l-25 25M577.1 1088.6l25 25m0-25l-25 25M582.2 1093.4l25 25m0-25l-25 25M584.5 1096.8l25 25m0-25l-25 25M595.2 1098.8l25 25m0-25l-25 25M595.6 1097.3l25 25m0-25l-25 25M601.4 1101.6l25 25m0-25l-25 25M603.9 1099.6l25 25m0-25l-25 25M608.6 1101.5l25 25m0-25l-25 25M616.2 1102.8l25 25m0-25l-25 25M615.4 1097.3l25 25m0-25l-25 25M622.1 1098.8l25 25m0-25l-25 25M625.8 1095.2l25 25m0-25l-25 25M628.2 1095.5l25 25m0-25l-25 25M635.7 1100.1l25 25m0-25l-25 25M643.8 1098.6l25 25m0-25l-25 25M648.8 1098.7l25 25m0-25l-25 25M646.1 1102.2l25 25m0-25l-25 25M641.8 1105.8l25 25m0-25l-25 25M646.3 1107.4l25 25m0-25l-25 25M646.1 1117.4l25 25m0-25l-25 25M645.6 1119.6l25 25m0-25l-25 25M644.2 1121.9l25 25m0-25l-25 25M649.1 1124l25 25m0-25l-25 25M643.6 1133.9l25 25m0-25l-25 25M645.8 1133.8l25 25m0-25l-25 25M651.5 1137.8l25 25m0-25l-25 25M654.8 1139.9l25 25m0-25l-25 25M658.4 1142.8l25 25m0-25l-25 25M661.3 1140.9l25 25m0-25l-25 25M663.6 1148.8l25 25m0-25l-25 25M670.5 1144.3l25 25m0-25l-25 25M677 1147.1l25 25m0-25l-25 25M674.7 1151.8l25 25m0-25l-25 25M679.8 1154l25 25m0-25l-25 25M686 1154.3l25 25m0-25l-25 25M690 1155.9l25 25m0-25l-25 25M693.3 1162.2l25 25m0-25l-25 25M693.7 1163.2l25 25m0-25l-25 25M697.5 1165.9l25 25m0-25l-25 25M707.6 1169.3l25 25m0-25l-25 25M710.3 1173.4l25 25m0-25l-25 25M709.2 1177.3l25 25m0-25l-25 25M717.9 1172.1l25 25m0-25l-25 25M722.5 1176.4l25 25m0-25l-25 25M721 1182.9l25 25m0-25l-25 25M727.9 1183.4l25 25m0-25l-25 25M728.3 1185.4l25 25m0-25l-25 25M732.2 1182l25 25m0-25l-25 25M739.2 1181.1l25 25m0-25l-25 25M745.6 1183.6l25 25m0-25l-25 25M747.7 1188.4l25 25m0-25l-25 25M753.3 1190.8l25 25m0-25l-25 25M759.4 1191.6l25 25m0-25l-25 25M762 1195l25 25m0-25l-25 25M767.5 1192.1l25 25m0-25l-25 25M769.6 1196.6l25 25m0-25l-25 25M772.8 1202.4l25 25m0-25l-25 25M776.4 1201l25 25m0-25l-25 25M775.9 1209l25 25m0-25l-25 25M783.6 1212.7l25 25m0-25l-25 25M779.5 1215.6l25 25m0-25l-25 25M783 1218.9l25 25m0-25l-25 25M791.7 1219.3l25 25m0-25l-25 25M795.8 1227.6l25 25m0-25l-25 25M793.5 1227.5l25 25m0-25l-25 25M798.8 1235.1l25 25m0-25l-25 25M803.6 1231.7l25 25m0-25l-25 25M802.8 1234.1l25 25m0-25l-25 25M812.7 1237.2l25 25m0-25l-25 25M814.5 1240.4l25 25m0-25l-25 25M819.3 1243.6l25 25m0-25l-25 25M818.6 1250l25 25m0-25l-25 25M825.8 1251.4l25 25m0-25l-25 25M832 1256.4l25 25m0-25l-25 25M829.6 1254.5l25 25m0-25l-25 25M834.7 1258.7l25 25m0-25l-25 25M844.5 1264l25 25m0-25l-25 25M841.8 1262l25 25m0-25l-25 25M852.1 1268.9l25 25m0-25l-25 25M852.7 1270.2l25 25m0-25l-25 25M854.9 1276.1l25 25m0-25l-25 25M860.9 1278.2l25 25m0-25l-25 25M866.8 1273.8l25 25m0-25l-25 25M868.7 1276.8l25 25m0-25l-25 25M877.3 1281.6l25 25m0-25l-25 25M874.7 1280.2l25 25m0-25l-25 25M881.3 1284.5l25 25m0-25l-25 25M887.2 1285.7l25 25m0-25l-25 25M889.9 1284.4l25 25m0-25l-25 25M896.2 1288.8l25 25m0-25l-25 25M896.2 1291.6l25 25m0-25l-25 25M908.4 1290.1l25 25m0-25l-25 25M906.1 1296.9l25 25m0-25l-25 25M912 1293.7l25 25m0-25l-25 25M918.7 1293.6l25 25m0-25l-25 25M924.1 1295.7l25 25m0-25l-25 25M932.1 1299.4l25 25m0-25l-25 25M929.6 1296l25 25m0-25l-25 25M940.4 1298.5l25 25m0-25l-25 25M945.3 1296.6l25 25m0-25l-25 25M949 1293.6l25 25m0-25l-25 25M951.1 1296.3l25 25m0-25l-25 25M960.7 1296.6l25 25m0-25l-25 25M964 1290.8l25 25m0-25l-25 25M969.6 1293.5l25 25m0-25l-25 25M972.4 1291.8l25 25m0-25l-25 25M976 1290.4l25 25m0-25l-25 25M981.3 1285.7l25 25m0-25l-25 25M985.7 1287l25 25m0-25l-25 25M995.7 1287.5l25 25m0-25l-25 25M990.7 1280.8l25 25m0-25l-25 25M989.6 1276.9l25 25m0-25l-25 25M988.7 1269.5l25 25m0-25l-25 25M994.6 1268.3l25 25m0-25l-25 25M991.1 1264.5l25 25m0-25l-25 25M989.9 1256.6l25 25m0-25l-25 25M987.9 1252.9l25 25m0-25l-25 25M989.8 1251.6l25 25m0-25l-25 25M991.7 1248.6l25 25m0-25l-25 25M989.9 1243.7l25 25m0-25l-25 25M991.8 1232.2l25 25m0-25l-25 25M988.5 1231.5l25 25m0-25l-25 25M994.9 1225l25 25m0-25l-25 25M993.1 1220.8l25 25m0-25l-25 25M993.8 1213.2l25 25m0-25l-25 25M990.7 1215.1l25 25m0-25l-25 25M989 1205.3l25 25m0-25l-25 25M986.9 1199.8l25 25m0-25l-25 25M986.8 1204.1l25 25m0-25l-25 25M984.8 1205.4l25 25m0-25l-25 25M983 1210.7l25 25m0-25l-25 25M986.7 1214.7l25 25m0-25l-25 25M979.8 1219.1l25 25m0-25l-25 25M984.3 1221.7l25 25m0-25l-25 25M973.2 1225.9l25 25m0-25l-25 25M975.5 1224.7l25 25m0-25l-25 25M965.5 1225.9l25 25m0-25l-25 25M964.7 1233.9l25 25m0-25l-25 25M961.5 1236.8l25 25m0-25l-25 25M954 1234.6l25 25m0-25l-25 25M954.3 1239.7l25 25m0-25l-25 25M946.8 1239.2l25 25m0-25l-25 25M941.5 1233.6l25 25m0-25l-25 25M937.3 1232.8l25 25m0-25l-25 25M934.3 1234.5l25 25m0-25l-25 25M928.4 1235.9l25 25m0-25l-25 25M921.8 1233.4l25 25m0-25l-25 25M915.2 1235.7l25 25m0-25l-25 25M914.9 1234.8l25 25m0-25l-25 25M906.1 1230.3l25 25m0-25l-25 25M906.8 1226.7l25 25m0-25l-25 25M897 1223.8l25 25m0-25l-25 25M893.8 1226.3l25 25m0-25l-25 25M889.8 1224.3l25 25m0-25l-25 25M888.9 1219.7l25 25m0-25l-25 25M886.6 1217.5l25 25m0-25l-25 25M882.4 1217.1l25 25m0-25l-25 25M875.1 1217.4l25 25m0-25l-25 25M869.7 1216.4l25 25m0-25l-25 25M869.8 1214.9l25 25m0-25l-25 25M862.1 1212.9l25 25m0-25l-25 25M863.5 1208.4l25 25m0-25l-25 25M853.8 1207l25 25m0-25l-25 25M855.1 1201.8l25 25m0-25l-25 25M843.7 1202.6l25 25m0-25l-25 25M844.8 1203l25 25m0-25l-25 25M838.5 1202.8l25 25m0-25l-25 25M838.3 1196.7l25 25m0-25l-25 25M838.1 1186.6l25 25m0-25l-25 25M839.3 1182.6l25 25m0-25l-25 25M843.1 1182.4l25 25m0-25l-25 25M841.5 1181.2l25 25m0-25l-25 25M843.8 1170.7l25 25m0-25l-25 25M843.2 1171.2l25 25m0-25l-25 25M846.4 1170.1l25 25m0-25l-25 25M836.6 1178.6l25 25m0-25l-25 25M835.5 1183.8l25 25m0-25l-25 25M834.8 1184.6l25 25m0-25l-25 25M830.8 1189.4l25 25m0-25l-25 25M829 1189.2l25 25m0-25l-25 25M829.8 1191l25 25m0-25l-25 25M824.3 1188.2l25 25m0-25l-25 25M819.4 1188.5l25 25m0-25l-25 25M816.9 1183.4l25 25m0-25l-25 25M810.3 1183.7l25 25m0-25l-25 25M809 1185.6l25 25m0-25l-25 25M802.4 1177.4l25 25m0-25l-25 25M795.2 1175.3l25 25m0-25l-25 25M792.5 1172.6l25 25m0-25l-25 25M786.5 1174.4l25 25m0-25l-25 25M785.3 1170.8l25 25m0-25l-25 25M783.4 1170.2l25 25m0-25l-25 25M775.3 1169.8l25 25m0-25l-25 25M773 1175.6l25 25m0-25l-25 25M763.5 1174.7l25 25m0-25l-25 25M763.2 1171l25 25m0-25l-25 25M760.2 1167.7l25 25m0-25l-25 25M765.6 1160.2l25 25m0-25l-25 25M764.8 1158.8l25 25m0-25l-25 25M763.9 1153.8l25 25m0-25l-25 25M768.2 1145.9l25 25m0-25l-25 25M769.1 1142.2l25 25m0-25l-25 25M769.2 1141.3l25 25m0-25l-25 25M765.3 1136.4l25 25m0-25l-25 25M772.7 1127l25 25m0-25l-25 25M765.8 1120.6l25 25m0-25l-25 25M774.3 1114.9l25 25m0-25l-25 25M773.9 1112.9l25 25m0-25l-25 25M772.6 1109.3l25 25m0-25l-25 25M764.9 1114l25 25m0-25l-25 25M762.1 1114.4l25 25m0-25l-25 25M766.5 1120.6l25 25m0-25l-25 25M764 1125.8l25 25m0-25l-25 25M755 1123l25 25m0-25l-25 25M757.7 1130l25 25m0-25l-25 25M748.3 1131.9l25 25m0-25l-25 25M746.5 1134.6l25 25m0-25l-25 25M742.1 1134.7l25 25m0-25l-25 25M745.8 1140.4l25 25m0-25l-25 25M741.6 1142.1l25 25m0-25l-25 25M735.1 1145.6l25 25m0-25l-25 25M732.1 1141.7l25 25m0-25l-25 25M731.6 1137.3l25 25m0-25l-25 25M729.5 1135.9l25 25m0-25l-25 25M722 1130.6l25 25m0-25l-25 25M722.6 1130.9l25 25m0-25l-25 25M718.9 1121.1l25 25m0-25l-25 25M720 1123.8l25 25m0-25l-25 25M714.3 1116.4l25 25m0-25l-25 25M706.1 1113.7l25 25m0-25l-25 25M700.9 1109.8l25 25m0-25l-25 25M700.1 1110.5l25 25m0-25l-25 25M696.1 1108l25 25m0-25l-25 25M687.4 1108.4l25 25m0-25l-25 25M688.2 1105l25 25m0-25l-25 25M683.1 1104l25 25m0-25l-25 25M682.2 1103.3l25 25m0-25l-25 25M676.9 1096.9l25 25m0-25l-25 25M670.5 1094.5l25 25m0-25l-25 25M672.6 1091.7l25 25m0-25l-25 25M664.7 1089.3l25 25m0-25l-25 25M659.5 1091.4l25 25m0-25l-25 25M654.9 1085.4l25 25m0-25l-25 25M658.8 1079.7l25 25m0-25l-25 25M652.7 1077.9l25 25m0-25l-25 25M646.2 1073.6l25 25m0-25l-25 25M641.7 1075.9l25 25m0-25l-25 25M647.1 1072.4l25 25m0-25l-25 25M641.2 1066.7l25 25m0-25l-25 25M643.4 1062.2l25 25m0-25l-25 25M645.2 1055.5l25 25m0-25l-25 25M643.9 1052.6l25 25m0-25l-25 25M637.5 1059l25 25m0-25l-25 25M630.9 1056.4l25 25m0-25l-25 25M630.1 1053.1l25 25m0-25l-25 25M622.5 1056.7l25 25m0-25l-25 25M615.9 1056l25 25m0-25l-25 25M611.3 1054.1l25 25m0-25l-25 25M608.4 1054.9l25 25m0-25l-25 25M601.4 1054l25 25m0-25l-25 25M598.9 1048.6l25 25m0-25l-25 25M595.2 1046.8l25 25m0-25l-25 25M593.3 1046.3l25 25m0-25l-25 25M587.5 1044.6l25 25m0-25l-25 25M581.2 1040l25 25m0-25l-25 25M574.3 1043.5l25 25m0-25l-25 25M573.5 1039.4l25 25m0-25l-25 25M569.6 1040.7l25 25m0-25l-25 25M262.7 777.9l25 25m0-25l-25 25M307.9 777.9l25 25m0-25l-25 25M334.3 777.9l25 25m0-25l-25 25M353 777.9l25 25m0-25l-25 25M367.5 777.9l25 25m0-25l-25 25M379.4 777.9l25 25m0-25l-25 25M389.5 777.9l25 25m0-25l-25 25M398.2 777.9l25 25m0-25l-25 25M405.8 777.9l25 25m0-25l-25 25M412.7 777.9l25 25m0-25l-25 25M418.9 777.9l25 25m0-25l-25 25M424.6 777.9l25 25m0-25l-25 25M429.8 777.9l25 25m0-25l-25 25M434.6 777.9l25 25m0-25l-25 25M439.1 777.9l25 25m0-25l-25 25M443.3 777.9l25 25m0-25l-25 25M447.3 777.9l25 25m0-25l-25 25M451 777.9l25 25m0-25l-25 25M454.5 777.9l25 25m0-25l-25 25M457.9 777.9l25 25m0-25l-25 25M461 777.9l25 25m0-25l-25 25M464.1 777.9l25 25m0-25l-25 25M467 777.9l25 25m0-25l-25 25M469.7 777.9l25 25m0-25l-25 25M472.4 777.9l25 25m0-25l-25 25M474.9 777.9l25 25m0-25l-25 25M477.4 777.9l25 25m0-25l-25 25M479.8 777.9l25 25m0-25l-25 25M482.1 777.9l25 25m0-25l-25 25M484.3 777.9l25 25m0-25l-25 25M486.4 777.9l25 25m0-25l-25 25M488.5 777.9l25 25m0-25l-25 25M490.5 777.9l25 25m0-25l-25 25M492.4 777.9l25 25m0-25l-25 25M494.3 777.9l25 25m0-25l-25 25M496.1 777.9l25 25m0-25l-25 25M497.9 777.9l25 25m0-25l-25 25M499.7 777.9l25 25m0-25l-25 25M501.4 777.9l25 25m0-25l-25 25M503 777.9l25 25m0-25l-25 25M504.6 777.9l25 25m0-25l-25 25M506.2 777.9l25 25m0-25l-25 25M507.7 777.9l25 25m0-25l-25 25M509.2 777.9l25 25m0-25l-25 25M510.7 777.9l25 25m0-25l-25 25M512.1 777.9l25 25m0-25l-25 25M513.5 777.9l25 25m0-25l-25 25M514.9 777.9l25 25m0-25l-25 25M516.2 777.9l25 25m0-25l-25 25M517.5 777.9l25 25m0-25l-25 25M518.8 777.9l25 25m0-25l-25 25M520.1 777.9l25 25m0-25l-25 25M521.3 777.9l25 25m0-25l-25 25M522.6 777.9l25 25m0-25l-25 25M523.8 777.9l25 25m0-25l-25 25M524.9 777.9l25 25m0-25l-25 25M526.1 777.9l25 25m0-25l-25 25M527.2 777.9l25 25m0-25l-25 25M528.3 777.9l25 25m0-25l-25 25M529.4 777.9l25 25m0-25l-25 25M530.5 777.9l25 25m0-25l-25 25M531.6 777.9l25 25m0-25l-25 25M532.6 777.9l25 25m0-25l-25 25M533.6 777.9l25 25m0-25l-25 25M534.6 777.9l25 25m0-25l-25 25M535.6 777.9l25 25m0-25l-25 25M536.6 777.9l25 25m0-25l-25 25M537.6 777.9l25 25m0-25l-25 25M538.5 777.9l25 25m0-25l-25 25M539.5 777.9l25 25m0-25l-25 25M540.4 777.9l25 25m0-25l-25 25M541.3 777.9l25 25m0-25l-25 25M542.2 777.9l25 25m0-25l-25 25M543.1 777.9l25 25m0-25l-25 25M544 777.9l25 25m0-25l-25 25M544.8 777.9l25 25m0-25l-25 25M545.7 777.9l25 25m0-25l-25 25M546.5 777.9l25 25m0-25l-25 25M547.3 777.9l25 25m0-25l-25 25M548.2 777.9l25 25m0-25l-25 25M549 777.9l25 25m0-25l-25 25M549.8 777.9l25 25m0-25l-25 25M550.6 777.9l25 25m0-25l-25 25M551.3 777.9l25 25m0-25l-25 25M552.1 777.9l25 25m0-25l-25 25M552.9 777.9l25 25m0-25l-25 25M553.6 777.9l25 25m0-25l-25 25M554.4 777.9l25 25m0-25l-25 25M555.1 777.9l25 25m0-25l-25 25M555.8 777.9l25 25m0-25l-25 25M556.6 777.9l25 25m0-25l-25 25M557.3 777.9l25 25m0-25l-25 25M558 777.9l25 25m0-25l-25 25M558.7 777.9l25 25m0-25l-25 25M559.4 777.9l25 25m0-25l-25 25M560 777.9l25 25m0-25l-25 25M560.7 777.9l25 25m0-25l-25 25M561.4 777.9l25 25m0-25l-25 25M562 777.9l25 25m0-25l-25 25M562.7 777.9l25 25m0-25l-25 25M563.3 777.9l25 25m0-25l-25 25M564 777.9l25 25m0-25l-25 25M564.6 777.9l25 25m0-25l-25 25M565.3 777.9l25 25m0-25l-25 25M565.9 777.9l25 25m0-25l-25 25M566.5 777.9l25 25m0-25l-25 25M599.5 1108.5l25 25m0-25l-25 25M651.5 1160.5l25 25m0-25l-25 25M652.5 1197.5l25 25m0-25l-25 25M676.1 1237.5l25 25m0-25l-25 25M708.3 1220.1l25 25m0-25l-25 25M805.5 1277.5l25 25m0-25l-25 25M789.5 1279l25 25m0-25l-25 25M804.1 1274.2l25 25m0-25l-25 25" fill="none" stroke="#2ca02c" stroke-width="4.17"/>
</g>
<g clip-path="url(#cp2)">
<path d="M275.1 1880.4h0.01M347.1 1890.8h0.01M366.3 1881.2h0.01M379.7 1900.3h0.01M401.9 1911.8h0.01M408.4 1892.7h0.01M1005 1438 1003 1612 1000 1700 1001 1795 995.5 1833 982 1884M406.5 1891.3h0.01M421.8 1879.8h0.01M435.7 1876.4h0.01M455.3 1876.5h0.01M471 1877h0.01M489 1875.8h0.01M503.7 1873.1h0.01M526.7 1874.9h0.01M542.1 1871.3h0.01M562.3 1870.5h0.01M582.3 1873.5h0.01M602.1 1872.3h0.01M618.9 1872.5h0.01M643.2 1874.5h0.01M660.2 1873.9h0.01M681.7 1875.8h0.01M698.2 1875.9h0.01M715.3 1875.7h0.01M730.7 1875.6h0.01M747.2 1876.2h0.01M761.6 1875.9h0.01M780.4 1875.8h0.01M796.8 1879.1h0.01M815.6 1877.1h0.01M833.8 1879.7h0.01M851.4 1878.7h0.01M873.6 1876.5h0.01M889.8 1879.5h0.01M909.1 1877.4h0.01M924.6 1877.7h0.01M944.6 1879.1h0.01M962.6 1877.5h0.01M982.7 1879.6h0.01M981.3 1890.9h0.01M982.4 1907.1h0.01M962.5 1909h0.01M947.1 1907.7h0.01M928.8 1909.1h0.01M906.7 1911.2h0.01M889 1910h0.01M870.4 1911.8h0.01M852.5 1907.4h0.01M832.5 1909.5h0.01M812.6 1911.3h0.01M793.2 1909.4h0.01M776.4 1909.2h0.01M755.2 1909.5h0.01M737.6 1910.2h0.01M718 1908.8h0.01M695.3 1910.1h0.01M678.7 1910.5h0.01M660.5 1907.2h0.01M638.6 1906.9h0.01M622.4 1907h0.01M599.7 1910.3h0.01M582.9 1906.8h0.01M564.3 1910.1h0.01M544.2 1906.8h0.01M526.1 1908.6h0.01M506.4 1911.5h0.01M491.9 1910.9h0.01M472.9 1908.2h0.01M459.1 1906.5h0.01M450.4 1892.4h0.01M435.8 1877.1h0.01" fill="none" stroke="#1f77b4" stroke-width="29.2" stroke-linecap="round" stroke-linejoin="round"/>
<path d="M437 1878 487 1874 544 1873 583 1872 621 1873 700 1875 780 1878 982 1878 982 1905 928 1910 640 1909 506 1909 459 1909z" fill="#1f77b4"/>
<path d="M702.8 1878 737 1878 767 1862 801.9 1862 838.9 1874 863.2 1888 900.7 1888 940.7 1893 964.2 1893 969.4 1891.4 968.2 1873.7 958.2 1857 928.5 1857 914.5 1866 879.8 1866 854.8 1861 804 1861 773.3 1856.1 759 1837 712.5 1837 702.8 1878z" fill="#ff7f0e"/>
<path d="M701.3 1867.7l12.5 25h-25zM708.8 1865.6l12.5 25h-25zM713.7 1862.8l12.5 25h-25zM718.7 1867.7l12.5 25h-25zM727.4 1867.6l12.5 25h-25zM729.8 1863.7l12.5 25h-25zM734.3 1865.7l12.5 25h-25zM741.2 1862.6l12.5 25h-25zM746.9 1860.7l12.5 25h-25zM751.2 1859.3l12.5 25h-25zM755.2 1857.3l12.5 25h-25zM762.3 1849.5l12.5 25h-25zM765.9 1849.7l12.5 25h-25zM772.3 1849.9l12.5 25h-25zM777.6 1848.1l12.5 25h-25zM786.2 1848.2l12.5 25h-25zM791.5 1851.3l12.5 25h-25zM796.6 1849.2l12.5 25h-25zM804.5 1849.2l12.5 25h-25zM809.4 1848.6l12.5 25h-25zM812.1 1853.8l12.5 25h-25zM815 1856.8l12.5 25h-25zM820.5 1856.9l12.5 25h-25zM826.4 1860.6l12.5 25h-25zM834 1861.6l12.5 25h-25zM838.9 1862.5l12.5 25h-25zM844.8 1863l12.5 25h-25zM846.9 1869.1l12.5 25h-25zM851.4 1872.4l12.5 25h-25zM856.6 1870.3l12.5 25h-25zM860.8 1877.2l12.5 25h-25zM871.3 1875l12.5 25h-25zM874.9 1874l12.5 25h-25zM881.7 1876.6l12.5 25h-25zM882.6 1872.8l12.5 25h-25zM891.2 1872.8l12.5 25h-25zM897.4 1874.3l12.5 25h-25zM899.1 1876l12.5 25h-25zM905.4 1876.6l12.5 25h-25zM910.1 1879.4l12.5 25h-25zM916.8 1879.7l12.5 25h-25zM921.5 1880.2l12.5 25h-25zM932.2 1878.4l12.5 25h-25zM932.2 1879.1l12.5 25h-25zM941.6 1878.8l12.5 25h-25zM946.9 1878.1l12.5 25h-25zM952.2 1881.9l12.5 25h-25zM957.9 1881.6l12.5 25h-25zM961.9 1882.5l12.5 25h-25zM967.1 1881.4l12.5 25h-25zM972 1875.6l12.5 25h-25zM968.8 1865.8l12.5 25h-25zM967.3 1862.7l12.5 25h-25zM965.7 1859.6l12.5 25h-25zM960.8 1852.8l12.5 25h-25zM962.9 1849.3l12.5 25h-25zM958.5 1842l12.5 25h-25zM950.1 1843.1l12.5 25h-25zM948.7 1846.6l12.5 25h-25zM938.8 1847l12.5 25h-25zM931.7 1845.1l12.5 25h-25zM931.3 1843.6l12.5 25h-25zM926.5 1848.4l12.5 25h-25zM916.5 1849.5l12.5 25h-25zM914.2 1852l12.5 25h-25zM910.2 1851.6l12.5 25h-25zM904.7 1852.3l12.5 25h-25zM894.6 1853.9l12.5 25h-25zM889 1853.8l12.5 25h-25zM887.3 1854.1l12.5 25h-25zM879.6 1850.7l12.5 25h-25zM874.9 1850.1l12.5 25h-25zM870.7 1849.3l12.5 25h-25zM865.3 1849.6l12.5 25h-25zM859.1 1850.5l12.5 25h-25zM852.8 1846.5l12.5 25h-25zM851.8 1847.5l12.5 25h-25zM845.6 1850.7l12.5 25h-25zM837.8 1846.4l12.5 25h-25zM829.8 1850.8l12.5 25h-25zM824.3 1848.5l12.5 25h-25zM821.2 1846.2l12.5 25h-25zM815.1 1846.5l12.5 25h-25zM809.9 1848.5l12.5 25h-25zM803.2 1846.7l12.5 25h-25zM798.3 1845.9l12.5 25h-25zM791.6 1845.3l12.5 25h-25zM790.9 1846.1l12.5 25h-25zM785.9 1842.3l12.5 25h-25zM781.1 1844.3l12.5 25h-25zM775.1 1844l12.5 25h-25zM770.9 1837.2l12.5 25h-25zM767.7 1832l12.5 25h-25zM761.2 1826.5l12.5 25h-25zM758.4 1824.6l12.5 25h-25zM751.9 1826.8l12.5 25h-25zM744.9 1825l12.5 25h-25zM740 1825.1l12.5 25h-25zM737.5 1825.8l12.5 25h-25zM727.3 1823l12.5 25h-25zM724.7 1827.4l12.5 25h-25zM715.6 1825.2l12.5 25h-25zM713.6 1826.4l12.5 25h-25zM710.3 1831.5l12.5 25h-25zM709.8 1837.3l12.5 25h-25zM705.9 1842.5l12.5 25h-25zM707.1 1844.4l12.5 25h-25zM704 1848.6l12.5 25h-25zM706.6 1856.3l12.5 25h-25zM701.9 1859.4l12.5 25h-25zM700.6 1863.7l12.5 25h-25zM275.2 1375.4l12.5 25h-25zM320.4 1375.4l12.5 25h-25zM346.8 1375.4l12.5 25h-25zM365.5 1375.4l12.5 25h-25zM380 1375.4l12.5 25h-25zM391.9 1375.4l12.5 25h-25zM402 1375.4l12.5 25h-25zM410.7 1375.4l12.5 25h-25zM418.3 1375.4l12.5 25h-25zM425.2 1375.4l12.5 25h-25zM431.4 1375.4l12.5 25h-25zM437.1 1375.4l12.5 25h-25zM442.3 1375.4l12.5 25h-25zM447.1 1375.4l12.5 25h-25zM451.6 1375.4l12.5 25h-25zM455.8 1375.4l12.5 25h-25zM459.8 1375.4l12.5 25h-25zM463.5 1375.4l12.5 25h-25zM467 1375.4l12.5 25h-25zM470.4 1375.4l12.5 25h-25zM473.5 1375.4l12.5 25h-25zM476.6 1375.4l12.5 25h-25zM479.5 1375.4l12.5 25h-25zM482.2 1375.4l12.5 25h-25zM484.9 1375.4l12.5 25h-25zM487.4 1375.4l12.5 25h-25zM489.9 1375.4l12.5 25h-25zM492.3 1375.4l12.5 25h-25zM494.6 1375.4l12.5 25h-25zM496.8 1375.4l12.5 25h-25zM498.9 1375.4l12.5 25h-25zM501 1375.4l12.5 25h-25zM503 1375.4l12.5 25h-25zM504.9 1375.4l12.5 25h-25zM506.8 1375.4l12.5 25h-25zM508.6 1375.4l12.5 25h-25zM510.4 1375.4l12.5 25h-25zM512.2 1375.4l12.5 25h-25zM513.9 1375.4l12.5 25h-25zM515.5 1375.4l12.5 25h-25zM517.1 1375.4l12.5 25h-25zM518.7 1375.4l12.5 25h-25zM520.2 1375.4l12.5 25h-25zM521.7 1375.4l12.5 25h-25zM523.2 1375.4l12.5 25h-25zM524.6 1375.4l12.5 25h-25zM526 1375.4l12.5 25h-25zM527.4 1375.4l12.5 25h-25zM528.7 1375.4l12.5 25h-25zM530 1375.4l12.5 25h-25zM531.3 1375.4l12.5 25h-25zM532.6 1375.4l12.5 25h-25zM533.8 1375.4l12.5 25h-25zM535.1 1375.4l12.5 25h-25zM536.3 1375.4l12.5 25h-25zM537.4 1375.4l12.5 25h-25zM538.6 1375.4l12.5 25h-25zM539.7 1375.4l12.5 25h-25zM540.8 1375.4l12.5 25h-25zM541.9 1375.4l12.5 25h-25zM543 1375.4l12.5 25h-25zM544.1 1375.4l12.5 25h-25zM545.1 1375.4l12.5 25h-25zM546.1 1375.4l12.5 25h-25zM547.1 1375.4l12.5 25h-25zM548.1 1375.4l12.5 25h-25zM549.1 1375.4l12.5 25h-25zM550.1 1375.4l12.5 25h-25zM551 1375.4l12.5 25h-25zM552 1375.4l12.5 25h-25zM552.9 1375.4l12.5 25h-25zM553.8 1375.4l12.5 25h-25zM554.7 1375.4l12.5 25h-25zM555.6 1375.4l12.5 25h-25zM556.5 1375.4l12.5 25h-25zM557.3 1375.4l12.5 25h-25zM558.2 1375.4l12.5 25h-25zM559 1375.4l12.5 25h-25zM559.8 1375.4l12.5 25h-25zM560.7 1375.4l12.5 25h-25zM561.5 1375.4l12.5 25h-25zM562.3 1375.4l12.5 25h-25zM563.1 1375.4l12.5 25h-25zM563.8 1375.4l12.5 25h-25zM564.6 1375.4l12.5 25h-25zM565.4 1375.4l12.5 25h-25zM566.1 1375.4l12.5 25h-25zM566.9 1375.4l12.5 25h-25zM567.6 1375.4l12.5 25h-25zM568.3 1375.4l12.5 25h-25zM569.1 1375.4l12.5 25h-25zM569.8 1375.4l12.5 25h-25zM570.5 1375.4l12.5 25h-25zM571.2 1375.4l12.5 25h-25zM571.9 1375.4l12.5 25h-25zM572.5 1375.4l12.5 25h-25zM573.2 1375.4l12.5 25h-25zM573.9 1375.4l12.5 25h-25zM574.5 1375.4l12.5 25h-25zM575.2 1375.4l12.5 25h-25zM575.8 1375.4l12.5 25h-25zM576.5 1375.4l12.5 25h-25zM577.1 1375.4l12.5 25h-25zM577.8 1375.4l12.5 25h-25zM578.4 1375.4l12.5 25h-25zM579 1375.4l12.5 25h-25zM1004 1427.5l12.5 25h-25zM1004.3 1430l12.5 25h-25zM1006.6 1432.4l12.5 25h-25zM1006.7 1434.9l12.5 25h-25zM1005.9 1437.4l12.5 25h-25zM1004.7 1439.9l12.5 25h-25zM1004.7 1442.3l12.5 25h-25zM1005.7 1444.8l12.5 25h-25zM1006.1 1447.3l12.5 25h-25zM1005.5 1449.7l12.5 25h-25zM1005.1 1452.2l12.5 25h-25zM1003.4 1454.7l12.5 25h-25zM1004.9 1457.2l12.5 25h-25zM1005.7 1459.6l12.5 25h-25zM1005.4 1462.1l12.5 25h-25zM1002.9 1464.6l12.5 25h-25zM1005.1 1467l12.5 25h-25zM1003.7 1469.5l12.5 25h-25zM1003 1472l12.5 25h-25zM1005.9 1474.5l12.5 25h-25zM1004.8 1476.9l12.5 25h-25zM1005 1479.4l12.5 25h-25zM1002.7 1481.9l12.5 25h-25zM1005.2 1484.3l12.5 25h-25zM1005.5 1486.8l12.5 25h-25zM1005.4 1489.3l12.5 25h-25zM1004.8 1491.8l12.5 25h-25zM1005 1494.2l12.5 25h-25zM1004.9 1496.7l12.5 25h-25zM1004.1 1499.2l12.5 25h-25zM1003.5 1501.6l12.5 25h-25zM1004.8 1504.1l12.5 25h-25zM1004.7 1506.6l12.5 25h-25zM1004.9 1509.1l12.5 25h-25zM1002.8 1511.5l12.5 25h-25zM1005.2 1514l12.5 25h-25zM1003.6 1516.5l12.5 25h-25zM1005 1518.9l12.5 25h-25zM1002 1521.4l12.5 25h-25zM1005 1523.9l12.5 25h-25zM1004.3 1526.4l12.5 25h-25zM1002.4 1528.8l12.5 25h-25zM1004.4 1531.3l12.5 25h-25zM1002.2 1533.8l12.5 25h-25zM1002 1536.2l12.5 25h-25zM1002.9 1538.7l12.5 25h-25zM1002.1 1541.2l12.5 25h-25zM1003 1543.7l12.5 25h-25zM1004.4 1546.1l12.5 25h-25zM1003.6 1548.6l12.5 25h-25zM1003.6 1551.1l12.5 25h-25zM1002.4 1553.5l12.5 25h-25zM1003.8 1556l12.5 25h-25zM1003.8 1558.5l12.5 25h-25zM1003.3 1561l12.5 25h-25zM1004.2 1563.4l12.5 25h-25zM1003.8 1565.9l12.5 25h-25zM1002.2 1568.4l12.5 25h-25zM1001 1570.8l12.5 25h-25zM1003 1573.3l12.5 25h-25zM1003.6 1575.8l12.5 25h-25zM1001.8 1578.3l12.5 25h-25zM1002.7 1580.7l12.5 25h-25zM1003.5 1583.2l12.5 25h-25zM1003.3 1585.7l12.5 25h-25zM1000.4 1588.1l12.5 25h-25zM1002.1 1590.6l12.5 25h-25zM1000.4 1593.1l12.5 25h-25zM1000.7 1595.6l12.5 25h-25zM1003.2 1598l12.5 25h-25zM1001.7 1600.5l12.5 25h-25zM1002.2 1603l12.5 25h-25zM1001.6 1605.5l12.5 25h-25zM1001 1608l12.5 25h-25zM1000.4 1610.4l12.5 25h-25zM1000.7 1612.9l12.5 25h-25zM1002.4 1615.4l12.5 25h-25zM1001.4 1617.9l12.5 25h-25zM1000.1 1620.4l12.5 25h-25zM999.2 1622.9l12.5 25h-25zM999.7 1625.3l12.5 25h-25zM1001.1 1627.8l12.5 25h-25zM1000 1630.3l12.5 25h-25zM1000.7 1632.8l12.5 25h-25zM1001.1 1635.3l12.5 25h-25zM998.5 1637.8l12.5 25h-25zM1000.3 1640.2l12.5 25h-25zM997.9 1642.7l12.5 25h-25zM1000.5 1645.2l12.5 25h-25zM998.1 1647.7l12.5 25h-25zM998.3 1650.2l12.5 25h-25zM1000.6 1652.7l12.5 25h-25zM998.3 1655.1l12.5 25h-25zM997.7 1657.6l12.5 25h-25zM999.9 1660.1l12.5 25h-25zM998.8 1662.6l12.5 25h-25zM999.6 1665.1l12.5 25h-25zM997.7 1667.6l12.5 25h-25zM997.9 1670l12.5 25h-25zM999.4 1672.5l12.5 25h-25zM997.7 1675l12.5 25h-25zM999.3 1677.5l12.5 25h-25zM996.4 1680l12.5 25h-25zM998.7 1682.4l12.5 25h-25zM996.2 1684.9l12.5 25h-25zM997.5 1687.4l12.5 25h-25zM995.6 1689.8l12.5 25h-25zM996.2 1692.3l12.5 25h-25zM999 1694.8l12.5 25h-25zM997.2 1697.2l12.5 25h-25zM998.5 1699.7l12.5 25h-25zM996.4 1702.2l12.5 25h-25zM996.8 1704.7l12.5 25h-25zM995.9 1707.1l12.5 25h-25zM997.5 1709.6l12.5 25h-25zM998.6 1712.1l12.5 25h-25zM997.3 1714.5l12.5 25h-25zM996.8 1717l12.5 25h-25zM998.8 1719.5l12.5 25h-25zM998.6 1721.9l12.5 25h-25zM997.8 1724.4l12.5 25h-25zM995.7 1726.9l12.5 25h-25zM997.6 1729.3l12.5 25h-25zM997 1731.8l12.5 25h-25zM998.8 1734.3l12.5 25h-25zM996.6 1736.8l12.5 25h-25zM997.7 1739.2l12.5 25h-25zM997.6 1741.7l12.5 25h-25zM996.6 1744.2l12.5 25h-25zM997.1 1746.6l12.5 25h-25zM997.7 1749.1l12.5 25h-25zM998.5 1751.6l12.5 25h-25zM997 1754l12.5 25h-25zM996.5 1756.5l12.5 25h-25zM998.4 1758.8l12.5 25h-25zM994.8 1761.1l12.5 25h-25zM997.3 1763.4l12.5 25h-25zM996.5 1765.7l12.5 25h-25zM995.7 1768l12.5 25h-25zM995 1770.3l12.5 25h-25zM995.8 1772.6l12.5 25h-25zM996 1774.9l12.5 25h-25zM995.1 1777.2l12.5 25h-25zM994.9 1779.5l12.5 25h-25zM992 1782l12.5 25h-25zM992.8 1784.4l12.5 25h-25zM991.8 1786.9l12.5 25h-25zM994.4 1789.3l12.5 25h-25zM993.9 1791.8l12.5 25h-25zM990.9 1794.3l12.5 25h-25zM992.2 1796.7l12.5 25h-25zM991.8 1799.2l12.5 25h-25zM989.6 1801.7l12.5 25h-25zM990.5 1804.1l12.5 25h-25zM991.5 1806.6l12.5 25h-25zM990.8 1809l12.5 25h-25zM989.2 1811.5l12.5 25h-25zM990.2 1813.7l12.5 25h-25zM987.8 1815.9l12.5 25h-25zM988.1 1818.1l12.5 25h-25zM986.9 1820.3l12.5 25h-25zM988.2 1822.5l12.5 25h-25zM986.3 1824.7l12.5 25h-25zM986.2 1826.9l12.5 25h-25zM985 1829.1l12.5 25h-25zM983.3 1831.3l12.5 25h-25zM984.7 1833.5l12.5 25h-25zM983.5 1835.7l12.5 25h-25zM983.2 1837.9l12.5 25h-25zM981.5 1840.2l12.5 25h-25zM980.9 1842.4l12.5 25h-25zM982.2 1844.6l12.5 25h-25zM982.8 1846.8l12.5 25h-25zM982.5 1849.1l12.5 25h-25zM980.7 1851.3l12.5 25h-25zM979.7 1853.5l12.5 25h-25zM980.1 1855.8l12.5 25h-25zM980.4 1858.1l12.5 25h-25zM976.8 1860.4l12.5 25h-25zM977.9 1862.6l12.5 25h-25zM974.8 1864.9l12.5 25h-25zM974.3 1867.2l12.5 25h-25zM972.4 1869.5l12.5 25h-25zM972.3 1871.8l12.5 25h-25zM971.6 1874.1l12.5 25h-25zM972.7 1876.4l12.5 25h-25zM971.7 1878.6l12.5 25h-25zM967.9 1880.9l12.5 25h-25zM967.3 1883.2l12.5 25h-25zM968.6 1885.5l12.5 25h-25zM963.9 1886.9l12.5 25h-25zM962.4 1888.2l12.5 25h-25zM960.8 1889.6l12.5 25h-25zM957.6 1891l12.5 25h-25zM956.1 1892.4l12.5 25h-25zM954.6 1893.8l12.5 25h-25zM952.6 1895.1l12.5 25h-25zM952.7 1896.5l12.5 25h-25zM1003.2 1600.5l12.5 25h-25zM1002.8 1603l12.5 25h-25zM1005.2 1605.5l12.5 25h-25zM1003.4 1608l12.5 25h-25zM1004.7 1610.4l12.5 25h-25zM1003.8 1612.9l12.5 25h-25zM1004.2 1615.4l12.5 25h-25zM1002.4 1617.9l12.5 25h-25zM1001.7 1620.4l12.5 25h-25zM1003.8 1622.9l12.5 25h-25zM1002.6 1625.3l12.5 25h-25zM1002.8 1627.8l12.5 25h-25zM1003.1 1630.3l12.5 25h-25zM1003.2 1632.8l12.5 25h-25zM1001.4 1635.3l12.5 25h-25zM1001.6 1637.8l12.5 25h-25zM1003.4 1640.2l12.5 25h-25zM1001.9 1642.7l12.5 25h-25zM1000.9 1645.2l12.5 25h-25zM1002 1647.7l12.5 25h-25zM1000.6 1650.2l12.5 25h-25zM1002.3 1652.7l12.5 25h-25zM999.5 1655.1l12.5 25h-25zM1002.2 1657.6l12.5 25h-25zM1001.1 1660.1l12.5 25h-25zM1000.2 1662.6l12.5 25h-25zM1002.2 1665.1l12.5 25h-25zM999.7 1667.6l12.5 25h-25zM999.5 1670l12.5 25h-25zM998.7 1672.5l12.5 25h-25zM1000.3 1675l12.5 25h-25zM1000.9 1677.5l12.5 25h-25zM1000.6 1680l12.5 25h-25zM999.7 1682.4l12.5 25h-25zM1001.1 1684.9l12.5 25h-25zM998.6 1687.4l12.5 25h-25zM999.3 1689.8l12.5 25h-25zM1000.5 1692.3l12.5 25h-25zM1001.7 1694.8l12.5 25h-25zM1000.5 1697.2l12.5 25h-25zM1000.7 1699.7l12.5 25h-25zM1001 1702.2l12.5 25h-25zM999.6 1704.7l12.5 25h-25zM1001.6 1707.1l12.5 25h-25zM1000.9 1709.6l12.5 25h-25zM999.4 1712.1l12.5 25h-25zM999.6 1714.5l12.5 25h-25zM1001.1 1717l12.5 25h-25zM999.5 1719.5l12.5 25h-25zM998.9 1721.9l12.5 25h-25zM1001.3 1724.4l12.5 25h-25zM1000.1 1726.9l12.5 25h-25zM1000.1 1729.3l12.5 25h-25zM1000.6 1731.8l12.5 25h-25zM1001.4 1734.3l12.5 25h-25zM998.7 1736.8l12.5 25h-25zM999.4 1739.2l12.5 25h-25zM998.4 1741.7l12.5 25h-25zM999.7 1744.2l12.5 25h-25zM1000 1746.6l12.5 25h-25zM1001.3 1749.1l12.5 25h-25zM1000.6 1751.6l12.5 25h-25zM1000.3 1754l12.5 25h-25zM999.7 1756.5l12.5 25h-25zM999.9 1758.8l12.5 25h-25zM998.4 1761.1l12.5 25h-25zM1000 1763.4l12.5 25h-25zM999.4 1765.7l12.5 25h-25zM999.2 1768l12.5 25h-25zM996.3 1770.3l12.5 25h-25zM997.8 1772.6l12.5 25h-25zM997.7 1774.9l12.5 25h-25zM996.4 1777.2l12.5 25h-25zM997.4 1779.5l12.5 25h-25zM579.3 1744.5l12.5 25h-25zM579.2 1747l12.5 25h-25zM579.8 1749.4l12.5 25h-25zM579.6 1751.9l12.5 25h-25zM580.8 1754.3l12.5 25h-25zM578.5 1756.8l12.5 25h-25zM580.9 1759.3l12.5 25h-25zM581.3 1761.7l12.5 25h-25zM581.4 1764.2l12.5 25h-25zM580.5 1766.6l12.5 25h-25zM580.2 1769.1l12.5 25h-25zM582.5 1771.6l12.5 25h-25zM583.6 1774l12.5 25h-25zM582 1776.5l12.5 25h-25zM582.2 1778.9l12.5 25h-25zM582.6 1781.4l12.5 25h-25zM582.5 1783.9l12.5 25h-25zM585 1786.3l12.5 25h-25zM586.5 1788.8l12.5 25h-25zM586.2 1791.2l12.5 25h-25zM585 1793.7l12.5 25h-25zM586.6 1796.1l12.5 25h-25zM584.7 1798.6l12.5 25h-25zM587.9 1801.1l12.5 25h-25zM586.4 1803.5l12.5 25h-25zM585.6 1806l12.5 25h-25zM588.3 1808.4l12.5 25h-25zM586.9 1810.9l12.5 25h-25zM587.8 1813.4l12.5 25h-25zM587.4 1815.8l12.5 25h-25zM589.1 1818.3l12.5 25h-25zM589.9 1820.7l12.5 25h-25zM591.2 1823.2l12.5 25h-25zM588.8 1825.7l12.5 25h-25zM592 1828.1l12.5 25h-25zM589.8 1830.6l12.5 25h-25zM590.6 1833l12.5 25h-25zM592.5 1835.5l12.5 25h-25zM598.4 1716.5l12.5 25h-25zM599 1718.9l12.5 25h-25zM600.4 1721.2l12.5 25h-25zM599.7 1723.6l12.5 25h-25zM602.4 1726l12.5 25h-25zM600.9 1728.3l12.5 25h-25zM603.7 1730.7l12.5 25h-25zM604.2 1733.1l12.5 25h-25zM603.8 1735.4l12.5 25h-25zM602.6 1737.8l12.5 25h-25zM605.8 1740.2l12.5 25h-25zM603.7 1742.5l12.5 25h-25zM606 1744.9l12.5 25h-25zM606.3 1747.3l12.5 25h-25zM605.6 1749.6l12.5 25h-25zM608.2 1752l12.5 25h-25zM609.1 1754.4l12.5 25h-25zM609.2 1756.7l12.5 25h-25zM609.1 1759.1l12.5 25h-25zM610.1 1761.5l12.5 25h-25zM611 1763.8l12.5 25h-25zM610.3 1766.2l12.5 25h-25zM613.2 1768.6l12.5 25h-25zM614.2 1770.9l12.5 25h-25zM614.1 1773.3l12.5 25h-25zM615.2 1775.7l12.5 25h-25zM613.6 1778l12.5 25h-25zM616.5 1780.4l12.5 25h-25zM613.8 1782.8l12.5 25h-25zM615.8 1785.1l12.5 25h-25zM615.2 1787.5l12.5 25h-25zM616.9 1789.9l12.5 25h-25zM618.2 1792.2l12.5 25h-25zM618.8 1794.6l12.5 25h-25zM618.4 1797l12.5 25h-25zM618.5 1799.3l12.5 25h-25zM618.5 1801.7l12.5 25h-25zM619.8 1804l12.5 25h-25zM619.9 1806.4l12.5 25h-25zM620.1 1808.8l12.5 25h-25zM622.6 1811.1l12.5 25h-25zM622.3 1813.5l12.5 25h-25zM622.6 1815.9l12.5 25h-25zM622.2 1818.2l12.5 25h-25zM624.6 1820.6l12.5 25h-25zM623.2 1823l12.5 25h-25zM624 1825.3l12.5 25h-25zM625.6 1827.7l12.5 25h-25zM626.6 1830l12.5 25h-25zM628.1 1832.4l12.5 25h-25zM627.8 1834.8l12.5 25h-25zM629.1 1837.1l12.5 25h-25zM629.5 1839.5l12.5 25h-25zM633.7 1718.5l12.5 25h-25zM634.2 1720.9l12.5 25h-25zM632.3 1723.3l12.5 25h-25zM633.2 1725.6l12.5 25h-25zM633 1728l12.5 25h-25zM636.6 1730.4l12.5 25h-25zM636.5 1732.8l12.5 25h-25zM636.7 1735.2l12.5 25h-25zM635.8 1737.5l12.5 25h-25zM636.6 1739.9l12.5 25h-25zM636.4 1742.3l12.5 25h-25zM638.5 1744.7l12.5 25h-25zM640.3 1747.1l12.5 25h-25zM638.3 1749.4l12.5 25h-25zM637.8 1751.8l12.5 25h-25zM638.8 1754.2l12.5 25h-25zM639.9 1756.6l12.5 25h-25zM642.3 1758.9l12.5 25h-25zM642.4 1761.3l12.5 25h-25zM641.6 1763.7l12.5 25h-25zM640.8 1766.1l12.5 25h-25zM641.3 1768.5l12.5 25h-25zM642 1770.8l12.5 25h-25zM644.7 1773.2l12.5 25h-25zM644.1 1775.6l12.5 25h-25zM646.4 1778l12.5 25h-25zM646.6 1780.4l12.5 25h-25zM646.6 1782.7l12.5 25h-25zM645.9 1785.1l12.5 25h-25zM647.7 1787.5l12.5 25h-25zM645.6 1789.9l12.5 25h-25zM646 1792.3l12.5 25h-25zM648 1794.8l12.5 25h-25zM648.3 1797.2l12.5 25h-25zM647.6 1799.6l12.5 25h-25zM648.2 1802l12.5 25h-25zM647.8 1804.4l12.5 25h-25zM651.5 1806.9l12.5 25h-25zM651.2 1809.3l12.5 25h-25zM652.5 1811.7l12.5 25h-25zM653 1814.1l12.5 25h-25zM651.5 1816.5l12.5 25h-25zM653 1819l12.5 25h-25zM652.2 1821.4l12.5 25h-25zM654.2 1823.8l12.5 25h-25zM654.7 1826.2l12.5 25h-25zM652.6 1828.6l12.5 25h-25zM652.6 1831l12.5 25h-25zM653.7 1833.5l12.5 25h-25zM655.5 1835.9l12.5 25h-25zM655.2 1838.3l12.5 25h-25zM654.3 1840.7l12.5 25h-25zM657.7 1843.1l12.5 25h-25zM658 1845.6l12.5 25h-25zM657.3 1848l12.5 25h-25zM656.2 1850.4l12.5 25h-25zM659.7 1852.8l12.5 25h-25zM658.8 1855.2l12.5 25h-25zM657.6 1857.7l12.5 25h-25zM658.9 1860.1l12.5 25h-25zM660.4 1862.5l12.5 25h-25zM667.2 1718.5l12.5 25h-25zM665.8 1720.9l12.5 25h-25zM666.5 1723.3l12.5 25h-25zM665 1725.8l12.5 25h-25zM665.3 1728.2l12.5 25h-25zM667.8 1730.6l12.5 25h-25zM666 1733l12.5 25h-25zM665.1 1735.4l12.5 25h-25zM666.9 1737.8l12.5 25h-25zM665.4 1740.2l12.5 25h-25zM665.7 1742.7l12.5 25h-25zM666.7 1745.1l12.5 25h-25zM667.3 1747.5l12.5 25h-25zM668 1749.9l12.5 25h-25zM668.8 1752.2l12.5 25h-25zM668.4 1754.6l12.5 25h-25zM667.6 1756.9l12.5 25h-25zM670.5 1759.3l12.5 25h-25zM668.6 1761.6l12.5 25h-25zM670.6 1764l12.5 25h-25zM670.9 1766.3l12.5 25h-25zM672.4 1768.7l12.5 25h-25zM673.1 1771l12.5 25h-25zM671.9 1773.4l12.5 25h-25zM673.9 1775.7l12.5 25h-25zM674.6 1778.1l12.5 25h-25zM674.3 1780.4l12.5 25h-25zM673.7 1782.8l12.5 25h-25zM676.9 1785.1l12.5 25h-25zM676.4 1787.5l12.5 25h-25zM674.7 1789.9l12.5 25h-25zM675.6 1792.4l12.5 25h-25zM678.6 1794.8l12.5 25h-25zM676.2 1797.3l12.5 25h-25zM677.1 1799.7l12.5 25h-25zM678.8 1802.2l12.5 25h-25zM679.2 1804.6l12.5 25h-25zM678.8 1807.1l12.5 25h-25zM679.5 1809.5l12.5 25h-25zM677.2 1812l12.5 25h-25zM677.7 1814.4l12.5 25h-25zM681.2 1816.9l12.5 25h-25zM680.9 1819.3l12.5 25h-25zM678.4 1821.8l12.5 25h-25zM678.7 1824.2l12.5 25h-25zM679.7 1826.7l12.5 25h-25zM682.5 1829.1l12.5 25h-25zM680.2 1831.6l12.5 25h-25zM682.1 1834l12.5 25h-25zM683.3 1836.4l12.5 25h-25zM682.6 1838.9l12.5 25h-25zM683.9 1841.3l12.5 25h-25zM681.8 1843.8l12.5 25h-25zM681.7 1846.2l12.5 25h-25zM681.5 1848.7l12.5 25h-25zM684.5 1851.1l12.5 25h-25zM682.4 1853.6l12.5 25h-25zM685.8 1856l12.5 25h-25zM685.2 1858.5l12.5 25h-25zM683.6 1860.9l12.5 25h-25zM686.1 1863.4l12.5 25h-25zM684 1865.8l12.5 25h-25zM685.6 1868.3l12.5 25h-25zM684.4 1870.7l12.5 25h-25zM687.2 1873.2l12.5 25h-25zM687.8 1875.6l12.5 25h-25zM688.2 1878.1l12.5 25h-25zM685.2 1880.5l12.5 25h-25zM700 1867.5l12.5 25h-25zM715 1892.5l12.5 25h-25zM702.3 1719.5l12.5 25h-25zM701.9 1721.8l12.5 25h-25zM703.5 1724.2l12.5 25h-25zM703 1726.5l12.5 25h-25zM704.1 1728.8l12.5 25h-25zM704.7 1731.2l12.5 25h-25zM706.1 1733.5l12.5 25h-25zM704.1 1735.8l12.5 25h-25zM704.7 1738.2l12.5 25h-25zM707.2 1740.5l12.5 25h-25zM706.9 1742.8l12.5 25h-25zM708 1745.2l12.5 25h-25zM707.2 1747.5l12.5 25h-25zM710.5 1749.8l12.5 25h-25zM708.6 1752.2l12.5 25h-25zM712.2 1754.5l12.5 25h-25zM761.5 1726.5l12.5 25h-25zM761.2 1728.7l12.5 25h-25zM761 1730.9l12.5 25h-25zM763.9 1733.2l12.5 25h-25zM763.3 1735.4l12.5 25h-25zM765.1 1737.6l12.5 25h-25zM764.9 1739.8l12.5 25h-25zM769 1742l12.5 25h-25zM768.4 1744.2l12.5 25h-25zM768.7 1746.5l12.5 25h-25zM768.8 1748.7l12.5 25h-25zM772 1750.9l12.5 25h-25zM773.5 1753.1l12.5 25h-25zM774.4 1755.3l12.5 25h-25zM772.7 1757.5l12.5 25h-25zM774.7 1759.8l12.5 25h-25zM775.4 1762l12.5 25h-25zM778 1764.2l12.5 25h-25zM776.8 1766.4l12.5 25h-25zM779.5 1768.6l12.5 25h-25zM781.8 1770.8l12.5 25h-25zM782 1773.1l12.5 25h-25zM780.2 1775.3l12.5 25h-25zM781.5 1777.5l12.5 25h-25zM781.9 1779.9l12.5 25h-25zM784.3 1782.3l12.5 25h-25zM784.2 1784.7l12.5 25h-25zM784.2 1787.1l12.5 25h-25zM784.2 1789.5l12.5 25h-25zM784.3 1791.9l12.5 25h-25zM785.4 1794.3l12.5 25h-25zM785.8 1796.7l12.5 25h-25zM787 1799.1l12.5 25h-25zM786.6 1801.5l12.5 25h-25zM787.1 1803.9l12.5 25h-25zM787.8 1806.3l12.5 25h-25zM787.9 1808.7l12.5 25h-25zM787.7 1811.1l12.5 25h-25zM785.5 1813.5l12.5 25h-25zM788.1 1815.9l12.5 25h-25zM789 1818.3l12.5 25h-25zM787.8 1820.7l12.5 25h-25zM789.7 1823.1l12.5 25h-25zM787.4 1825.5l12.5 25h-25zM790.5 1827.9l12.5 25h-25zM789 1830.3l12.5 25h-25zM790.2 1832.7l12.5 25h-25zM788.8 1835.1l12.5 25h-25zM789.3 1837.5l12.5 25h-25zM807.3 1715.5l12.5 25h-25zM806.6 1717.9l12.5 25h-25zM805.1 1720.3l12.5 25h-25zM805.8 1722.7l12.5 25h-25zM807.1 1725l12.5 25h-25zM805.3 1727.4l12.5 25h-25zM805.7 1729.8l12.5 25h-25zM804.5 1732.2l12.5 25h-25zM804.2 1734.6l12.5 25h-25zM804.1 1737l12.5 25h-25zM802.6 1739.3l12.5 25h-25zM800.3 1741.7l12.5 25h-25zM799.6 1744.1l12.5 25h-25zM799.6 1746.5l12.5 25h-25zM797.6 1748.9l12.5 25h-25zM797.7 1751.3l12.5 25h-25zM799.5 1753.7l12.5 25h-25zM799 1756l12.5 25h-25zM796.2 1758.4l12.5 25h-25zM797.2 1760.8l12.5 25h-25zM796.6 1763.2l12.5 25h-25zM796.4 1765.6l12.5 25h-25zM795.5 1768l12.5 25h-25zM793.9 1770.3l12.5 25h-25zM791.8 1772.7l12.5 25h-25zM793.8 1775.1l12.5 25h-25zM791.3 1777.5l12.5 25h-25zM792.4 1779.9l12.5 25h-25zM791.4 1782.3l12.5 25h-25zM791.9 1784.7l12.5 25h-25zM793.4 1787.1l12.5 25h-25zM790.4 1789.5l12.5 25h-25zM791.6 1791.9l12.5 25h-25zM792 1794.3l12.5 25h-25zM791.5 1796.7l12.5 25h-25zM792.9 1799.1l12.5 25h-25zM790.9 1801.5l12.5 25h-25zM792.6 1803.9l12.5 25h-25zM791.7 1806.3l12.5 25h-25zM792.6 1808.7l12.5 25h-25zM789.4 1811.1l12.5 25h-25zM789.8 1813.5l12.5 25h-25zM790 1815.9l12.5 25h-25zM792.1 1818.3l12.5 25h-25zM788.8 1820.7l12.5 25h-25zM789.6 1823.1l12.5 25h-25zM791.2 1825.5l12.5 25h-25zM792.1 1827.9l12.5 25h-25zM789.1 1830.3l12.5 25h-25zM789.9 1832.7l12.5 25h-25zM790.8 1835.1l12.5 25h-25zM790.7 1837.5l12.5 25h-25zM856.6 1715.5l12.5 25h-25zM856.8 1718l12.5 25h-25zM855.2 1720.5l12.5 25h-25zM855.5 1722.9l12.5 25h-25zM854.9 1725.4l12.5 25h-25zM857.5 1727.9l12.5 25h-25zM856 1730.4l12.5 25h-25zM856.4 1732.9l12.5 25h-25zM859.1 1735.4l12.5 25h-25zM858.2 1737.8l12.5 25h-25zM858.2 1740.3l12.5 25h-25zM858.7 1742.8l12.5 25h-25zM858.7 1745.3l12.5 25h-25zM859.2 1747.8l12.5 25h-25zM858 1750.3l12.5 25h-25zM857.4 1752.7l12.5 25h-25zM857.6 1755.2l12.5 25h-25zM857.6 1757.7l12.5 25h-25zM859.1 1760.2l12.5 25h-25zM858.5 1762.7l12.5 25h-25zM858.7 1765.2l12.5 25h-25zM860.2 1767.6l12.5 25h-25zM862.2 1770.1l12.5 25h-25zM861.4 1772.6l12.5 25h-25zM860.1 1775.1l12.5 25h-25zM862.1 1777.6l12.5 25h-25zM860.2 1780.1l12.5 25h-25zM860.1 1782.5l12.5 25h-25zM861.1 1785l12.5 25h-25zM861.7 1787.5l12.5 25h-25zM863.1 1789.9l12.5 25h-25zM862.6 1792.3l12.5 25h-25zM864 1794.6l12.5 25h-25zM862.1 1797l12.5 25h-25zM865.5 1799.4l12.5 25h-25zM863.7 1801.8l12.5 25h-25zM865.9 1804.2l12.5 25h-25zM863.4 1806.5l12.5 25h-25zM866.6 1808.9l12.5 25h-25zM864.8 1811.3l12.5 25h-25zM867.5 1813.7l12.5 25h-25zM867.7 1816.1l12.5 25h-25zM867.6 1818.5l12.5 25h-25zM866.5 1820.8l12.5 25h-25zM865.9 1823.2l12.5 25h-25zM867 1825.6l12.5 25h-25zM869.9 1828l12.5 25h-25zM867.6 1830.4l12.5 25h-25zM869.8 1832.7l12.5 25h-25zM869.9 1835.1l12.5 25h-25zM870.6 1837.5l12.5 25h-25zM876.1 1715.5l12.5 25h-25zM875.7 1718l12.5 25h-25zM875.4 1720.5l12.5 25h-25zM878.4 1722.9l12.5 25h-25zM876.1 1725.4l12.5 25h-25zM876.9 1727.9l12.5 25h-25zM876.4 1730.4l12.5 25h-25zM875 1732.8l12.5 25h-25zM874.3 1735.3l12.5 25h-25zM873.9 1737.8l12.5 25h-25zM876.8 1740.3l12.5 25h-25zM874 1742.7l12.5 25h-25zM876.8 1745.2l12.5 25h-25zM874.5 1747.7l12.5 25h-25zM875.6 1750.2l12.5 25h-25zM873.3 1752.6l12.5 25h-25zM875.5 1755.1l12.5 25h-25zM873.4 1757.6l12.5 25h-25zM873.6 1760.1l12.5 25h-25zM874 1762.5l12.5 25h-25zM872.4 1765l12.5 25h-25zM872.7 1767.5l12.5 25h-25zM874.5 1770l12.5 25h-25zM872.5 1772.5l12.5 25h-25zM872.7 1774.9l12.5 25h-25zM873.9 1777.4l12.5 25h-25zM871.7 1779.9l12.5 25h-25zM871.5 1782.4l12.5 25h-25zM871.4 1784.8l12.5 25h-25zM871.8 1787.3l12.5 25h-25zM871.6 1789.8l12.5 25h-25zM872.4 1792.3l12.5 25h-25zM871.6 1794.7l12.5 25h-25zM872.9 1797.2l12.5 25h-25zM869.8 1799.7l12.5 25h-25zM871.8 1802.2l12.5 25h-25zM872.2 1804.6l12.5 25h-25zM869.9 1807.1l12.5 25h-25zM869 1809.6l12.5 25h-25zM870.3 1812.1l12.5 25h-25zM869 1814.5l12.5 25h-25zM870 1817l12.5 25h-25zM870.8 1819.5l12.5 25h-25zM916.2 1714.5l12.5 25h-25zM916.4 1717l12.5 25h-25zM917.8 1719.5l12.5 25h-25zM916.8 1721.9l12.5 25h-25zM917.1 1724.4l12.5 25h-25zM918 1726.9l12.5 25h-25zM916.9 1729.4l12.5 25h-25zM916.9 1731.8l12.5 25h-25zM918 1734.3l12.5 25h-25zM918.5 1736.8l12.5 25h-25zM920.3 1739.3l12.5 25h-25zM919 1741.7l12.5 25h-25zM917.4 1744.2l12.5 25h-25zM918 1746.7l12.5 25h-25zM920 1749.2l12.5 25h-25zM919.5 1751.6l12.5 25h-25zM920.7 1754.1l12.5 25h-25zM921.1 1756.6l12.5 25h-25zM920.8 1759.1l12.5 25h-25zM918.2 1761.5l12.5 25h-25zM921.3 1764l12.5 25h-25zM919.9 1766.5l12.5 25h-25zM919 1769l12.5 25h-25zM918.9 1771.5l12.5 25h-25zM921.5 1773.9l12.5 25h-25zM919.2 1776.4l12.5 25h-25zM918.9 1778.9l12.5 25h-25zM919.6 1781.4l12.5 25h-25zM922.1 1783.8l12.5 25h-25zM920.5 1786.3l12.5 25h-25zM921.6 1788.8l12.5 25h-25zM919.3 1791.3l12.5 25h-25zM920.8 1793.7l12.5 25h-25zM920.4 1796.2l12.5 25h-25zM920.1 1798.7l12.5 25h-25zM921.9 1801.2l12.5 25h-25zM920.9 1803.6l12.5 25h-25zM920.1 1806.1l12.5 25h-25zM923.3 1808.6l12.5 25h-25zM921.6 1811.1l12.5 25h-25zM920.6 1813.5l12.5 25h-25zM920.1 1816l12.5 25h-25zM922.6 1818.5l12.5 25h-25zM932.7 1715.5l12.5 25h-25zM931.1 1718l12.5 25h-25zM932.9 1720.4l12.5 25h-25zM934 1722.9l12.5 25h-25zM933.5 1725.3l12.5 25h-25zM932.6 1727.8l12.5 25h-25zM933.7 1730.3l12.5 25h-25zM934.3 1732.7l12.5 25h-25zM934.6 1735.2l12.5 25h-25zM933 1737.7l12.5 25h-25zM935.5 1740.1l12.5 25h-25zM936.2 1742.6l12.5 25h-25zM935.7 1745l12.5 25h-25zM936.3 1747.5l12.5 25h-25zM954.5 1713.5l12.5 25h-25zM956.6 1716l12.5 25h-25zM954.1 1718.5l12.5 25h-25zM954.3 1720.9l12.5 25h-25zM955.8 1723.4l12.5 25h-25zM957 1725.9l12.5 25h-25zM954.1 1728.4l12.5 25h-25zM954.7 1730.8l12.5 25h-25zM954.2 1733.3l12.5 25h-25zM955.8 1735.8l12.5 25h-25zM954.8 1738.3l12.5 25h-25zM955.1 1740.8l12.5 25h-25zM957.2 1743.2l12.5 25h-25zM956.7 1745.7l12.5 25h-25zM958.1 1748.2l12.5 25h-25zM956.3 1750.7l12.5 25h-25zM957.4 1753.2l12.5 25h-25zM955.1 1755.6l12.5 25h-25zM958.6 1758.1l12.5 25h-25zM956.1 1760.6l12.5 25h-25zM957.1 1763.1l12.5 25h-25zM957.3 1765.5l12.5 25h-25zM959 1768l12.5 25h-25zM957.5 1770.5l12.5 25h-25zM959.4 1773l12.5 25h-25zM958.2 1775.5l12.5 25h-25zM956.8 1777.9l12.5 25h-25zM959.1 1780.4l12.5 25h-25zM957 1782.9l12.5 25h-25zM960 1785.4l12.5 25h-25zM958.1 1787.8l12.5 25h-25zM957.4 1790.3l12.5 25h-25zM960.1 1792.8l12.5 25h-25zM957.9 1795.3l12.5 25h-25zM958.4 1797.8l12.5 25h-25zM958.2 1800.2l12.5 25h-25zM959.5 1802.7l12.5 25h-25zM957.3 1805.2l12.5 25h-25zM958.7 1807.7l12.5 25h-25zM958 1810.2l12.5 25h-25zM960.5 1812.6l12.5 25h-25zM957.7 1815.1l12.5 25h-25zM960 1817.6l12.5 25h-25zM958.8 1820.1l12.5 25h-25zM959.6 1822.5l12.5 25h-25zM960.1 1825l12.5 25h-25zM960.8 1827.5l12.5 25h-25zM962.7 1715.5l12.5 25h-25zM963.2 1718l12.5 25h-25zM962.8 1720.5l12.5 25h-25zM965.9 1723l12.5 25h-25zM963.1 1725.5l12.5 25h-25zM963.1 1727.9l12.5 25h-25zM964.6 1730.4l12.5 25h-25zM964.9 1732.9l12.5 25h-25zM966.1 1735.4l12.5 25h-25zM963.2 1737.9l12.5 25h-25zM963.9 1740.4l12.5 25h-25zM963.8 1742.9l12.5 25h-25zM965.4 1745.4l12.5 25h-25zM965 1747.9l12.5 25h-25zM964.9 1750.3l12.5 25h-25zM966.7 1752.8l12.5 25h-25zM966 1755.3l12.5 25h-25zM966.8 1757.8l12.5 25h-25zM967.2 1760.3l12.5 25h-25zM964.9 1762.8l12.5 25h-25zM967.4 1765.3l12.5 25h-25zM965.5 1767.8l12.5 25h-25zM964.3 1770.3l12.5 25h-25zM967.5 1772.7l12.5 25h-25zM964.7 1775.2l12.5 25h-25zM964.5 1777.7l12.5 25h-25zM965.6 1780.2l12.5 25h-25zM965.6 1782.7l12.5 25h-25zM968.2 1785.2l12.5 25h-25zM967.9 1787.7l12.5 25h-25zM966.4 1790.2l12.5 25h-25zM966.9 1792.7l12.5 25h-25zM968.1 1795.1l12.5 25h-25zM968 1797.6l12.5 25h-25zM967.6 1800.1l12.5 25h-25zM967.2 1802.6l12.5 25h-25zM965.8 1805.1l12.5 25h-25zM966.4 1807.6l12.5 25h-25zM967.9 1810.1l12.5 25h-25zM967.8 1812.6l12.5 25h-25zM968.6 1815.1l12.5 25h-25zM969.1 1817.5l12.5 25h-25zM969.4 1820l12.5 25h-25zM966.7 1822.5l12.5 25h-25zM966.4 1825l12.5 25h-25zM969.4 1827.5l12.5 25h-25zM969.3 1714.5l12.5 25h-25zM968.1 1716.9l12.5 25h-25zM970.1 1719.4l12.5 25h-25zM968.7 1721.8l12.5 25h-25zM968.9 1724.2l12.5 25h-25zM969.5 1726.7l12.5 25h-25zM970.3 1729.1l12.5 25h-25zM971 1731.5l12.5 25h-25zM969.1 1734l12.5 25h-25zM971.7 1736.4l12.5 25h-25zM971.4 1738.8l12.5 25h-25zM971.1 1741.3l12.5 25h-25zM972 1743.7l12.5 25h-25zM972.7 1746.1l12.5 25h-25zM970 1748.6l12.5 25h-25zM971.9 1751l12.5 25h-25zM972.8 1753.4l12.5 25h-25zM973.2 1755.9l12.5 25h-25zM973.1 1758.3l12.5 25h-25zM971.6 1760.7l12.5 25h-25zM974.7 1763.2l12.5 25h-25zM974.2 1765.6l12.5 25h-25zM972.4 1768l12.5 25h-25zM973.4 1770.5l12.5 25h-25zM975.4 1772.9l12.5 25h-25zM972.9 1775.3l12.5 25h-25zM973.9 1777.8l12.5 25h-25zM976.1 1780.2l12.5 25h-25zM976 1782.6l12.5 25h-25zM973.8 1785.1l12.5 25h-25zM975.8 1787.5l12.5 25h-25zM702.5 1812.5l12.5 25h-25zM706.1 1812.5l12.5 25h-25zM709 1812.5l12.5 25h-25zM709.2 1812.5l12.5 25h-25zM712 1812.5l12.5 25h-25zM714.5 1812.5l12.5 25h-25zM717.2 1812.5l12.5 25h-25zM718.8 1812.5l12.5 25h-25zM721.7 1812.5l12.5 25h-25zM725.2 1812.5l12.5 25h-25zM727.7 1812.5l12.5 25h-25zM729 1812.5l12.5 25h-25zM733.3 1812.5l12.5 25h-25zM737.1 1812.5l12.5 25h-25zM738.3 1812.5l12.5 25h-25zM740 1812.5l12.5 25h-25zM743.7 1812.5l12.5 25h-25zM745.3 1812.5l12.5 25h-25zM746.8 1812.5l12.5 25h-25zM750.4 1812.5l12.5 25h-25zM751.3 1812.5l12.5 25h-25zM756.1 1812.5l12.5 25h-25zM756.8 1812.5l12.5 25h-25zM760 1812.5l12.5 25h-25zM764.7 1812.5l12.5 25h-25zM806 1836.5l12.5 25h-25zM808.6 1836.5l12.5 25h-25zM810.4 1836.5l12.5 25h-25zM812.8 1836.5l12.5 25h-25zM815.5 1836.5l12.5 25h-25zM818.8 1836.5l12.5 25h-25zM818.5 1836.5l12.5 25h-25zM823 1836.5l12.5 25h-25zM823.7 1836.5l12.5 25h-25zM826 1836.5l12.5 25h-25zM830.4 1836.5l12.5 25h-25zM832.1 1836.5l12.5 25h-25zM835.4 1836.5l12.5 25h-25zM837.9 1836.5l12.5 25h-25zM839.3 1836.5l12.5 25h-25zM840.3 1836.5l12.5 25h-25zM842.1 1836.5l12.5 25h-25zM846.4 1836.5l12.5 25h-25zM849.5 1836.5l12.5 25h-25zM850.3 1836.5l12.5 25h-25zM852 1836.5l12.5 25h-25zM854.2 1836.5l12.5 25h-25zM879.8 1841.5l12.5 25h-25zM884.2 1841.5l12.5 25h-25zM884.2 1841.5l12.5 25h-25zM887.5 1841.5l12.5 25h-25zM890.2 1841.5l12.5 25h-25zM894.3 1841.5l12.5 25h-25zM897.8 1841.5l12.5 25h-25zM896.8 1841.5l12.5 25h-25zM899.6 1841.5l12.5 25h-25zM905.1 1841.5l12.5 25h-25zM907.7 1841.5l12.5 25h-25zM907.2 1841.5l12.5 25h-25zM910.4 1841.5l12.5 25h-25zM591 1826.5l12.5 25h-25zM614 1853.5l12.5 25h-25zM640 1877.5l12.5 25h-25zM716 1897.5l12.5 25h-25zM758 1897.5l12.5 25h-25zM834 1896.5l12.5 25h-25zM900 1896.5l12.5 25h-25zM655 1877.5l12.5 25h-25zM845 1896.5l12.5 25h-25zM858 1896.5l12.5 25h-25zM934 1896.5l12.5 25h-25zM950 1896.5l12.5 25h-25zM700 1892.5l12.5 25h-25zM880 1887.5l12.5 25h-25z" fill="#ff7f0e" stroke="#ff7f0e" stroke-width="4.17" stroke-linejoin="miter"/>
<path d="M262.7 1375.4l25 25m0-25l-25 25M307.9 1375.4l25 25m0-25l-25 25M334.3 1375.4l25 25m0-25l-25 25M353 1375.4l25 25m0-25l-25 25M367.5 1375.4l25 25m0-25l-25 25M379.4 1375.4l25 25m0-25l-25 25M389.5 1375.4l25 25m0-25l-25 25M398.2 1375.4l25 25m0-25l-25 25M405.8 1375.4l25 25m0-25l-25 25M412.7 1375.4l25 25m0-25l-25 25M418.9 1375.4l25 25m0-25l-25 25M424.6 1375.4l25 25m0-25l-25 25M429.8 1375.4l25 25m0-25l-25 25M434.6 1375.4l25 25m0-25l-25 25M439.1 1375.4l25 25m0-25l-25 25M443.3 1375.4l25 25m0-25l-25 25M447.3 1375.4l25 25m0-25l-25 25M451 1375.4l25 25m0-25l-25 25M454.5 1375.4l25 25m0-25l-25 25M457.9 1375.4l25 25m0-25l-25 25M461 1375.4l25 25m0-25l-25 25M464.1 1375.4l25 25m0-25l-25 25M467 1375.4l25 25m0-25l-25 25M469.7 1375.4l25 25m0-25l-25 25M472.4 1375.4l25 25m0-25l-25 25M474.9 1375.4l25 25m0-25l-25 25M477.4 1375.4l25 25m0-25l-25 25M479.8 1375.4l25 25m0-25l-25 25M482.1 1375.4l25 25m0-25l-25 25M484.3 1375.4l25 25m0-25l-25 25M486.4 1375.4l25 25m0-25l-25 25M488.5 1375.4l25 25m0-25l-25 25M490.5 1375.4l25 25m0-25l-25 25M492.4 1375.4l25 25m0-25l-25 25M494.3 1375.4l25 25m0-25l-25 25M496.1 1375.4l25 25m0-25l-25 25M497.9 1375.4l25 25m0-25l-25 25M499.7 1375.4l25 25m0-25l-25 25M501.4 1375.4l25 25m0-25l-25 25M503 1375.4l25 25m0-25l-25 25M504.6 1375.4l25 25m0-25l-25 25M506.2 1375.4l25 25m0-25l-25 25M507.7 1375.4l25 25m0-25l-25 25M509.2 1375.4l25 25m0-25l-25 25M510.7 1375.4l25 25m0-25l-25 25M512.1 1375.4l25 25m0-25l-25 25M513.5 1375.4l25 25m0-25l-25 25M514.9 1375.4l25 25m0-25l-25 25M516.2 1375.4l25 25m0-25l-25 25M517.5 1375.4l25 25m0-25l-25 25M518.8 1375.4l25 25m0-25l-25 25M520.1 1375.4l25 25m0-25l-25 25M521.3 1375.4l25 25m0-25l-25 25M522.6 1375.4l25 25m0-25l-25 25M523.8 1375.4l25 25m0-25l-25 25M524.9 1375.4l25 25m0-25l-25 25M526.1 1375.4l25 25m0-25l-25 25M527.2 1375.4l25 25m0-25l-25 25M528.3 1375.4l25 25m0-25l-25 25M529.4 1375.4l25 25m0-25l-25 25M530.5 1375.4l25 25m0-25l-25 25M531.6 1375.4l25 25m0-25l-25 25M532.6 1375.4l25 25m0-25l-25 25M533.6 1375.4l25 25m0-25l-25 25M534.6 1375.4l25 25m0-25l-25 25M535.6 1375.4l25 25m0-25l-25 25M536.6 1375.4l25 25m0-25l-25 25M537.6 1375.4l25 25m0-25l-25 25M538.5 1375.4l25 25m0-25l-25 25M539.5 1375.4l25 25m0-25l-25 25M540.4 1375.4l25 25m0-25l-25 25M541.3 1375.4l25 25m0-25l-25 25M542.2 1375.4l25 25m0-25l-25 25M543.1 1375.4l25 25m0-25l-25 25M544 1375.4l25 25m0-25l-25 25M544.8 1375.4l25 25m0-25l-25 25M545.7 1375.4l25 25m0-25l-25 25M546.5 1375.4l25 25m0-25l-25 25M547.3 1375.4l25 25m0-25l-25 25M548.2 1375.4l25 25m0-25l-25 25M549 1375.4l25 25m0-25l-25 25M549.8 1375.4l25 25m0-25l-25 25M550.6 1375.4l25 25m0-25l-25 25M551.3 1375.4l25 25m0-25l-25 25M552.1 1375.4l25 25m0-25l-25 25M552.9 1375.4l25 25m0-25l-25 25M553.6 1375.4l25 25m0-25l-25 25M554.4 1375.4l25 25m0-25l-25 25M555.1 1375.4l25 25m0-25l-25 25M555.8 1375.4l25 25m0-25l-25 25M556.6 1375.4l25 25m0-25l-25 25M557.3 1375.4l25 25m0-25l-25 25M558 1375.4l25 25m0-25l-25 25M558.7 1375.4l25 25m0-25l-25 25M559.4 1375.4l25 25m0-25l-25 25M560 1375.4l25 25m0-25l-25 25M560.7 1375.4l25 25m0-25l-25 25M561.4 1375.4l25 25m0-25l-25 25M562 1375.4l25 25m0-25l-25 25M562.7 1375.4l25 25m0-25l-25 25M563.3 1375.4l25 25m0-25l-25 25M564 1375.4l25 25m0-25l-25 25M564.6 1375.4l25 25m0-25l-25 25M565.3 1375.4l25 25m0-25l-25 25M565.9 1375.4l25 25m0-25l-25 25M566.5 1375.4l25 25m0-25l-25 25M565 1566.9l25 25m0-25l-25 25M567.5 1566.9l25 25m0-25l-25 25M570 1566.9l25 25m0-25l-25 25M572.5 1566.9l25 25m0-25l-25 25M575 1566.9l25 25m0-25l-25 25M577.5 1566.9l25 25m0-25l-25 25M580 1566.9l25 25m0-25l-25 25M582.5 1566.9l25 25m0-25l-25 25M585 1566.9l25 25m0-25l-25 25M587.4 1566.9l25 25m0-25l-25 25M589.9 1566.9l25 25m0-25l-25 25M592.4 1566.9l25 25m0-25l-25 25M594.9 1566.9l25 25m0-25l-25 25M597.4 1566.9l25 25m0-25l-25 25M599.9 1566.9l25 25m0-25l-25 25M602.4 1566.9l25 25m0-25l-25 25M604.9 1566.9l25 25m0-25l-25 25M607.4 1566.9l25 25m0-25l-25 25M609.9 1566.9l25 25m0-25l-25 25M612.4 1566.9l25 25m0-25l-25 25M614.9 1566.9l25 25m0-25l-25 25M617.4 1566.9l25 25m0-25l-25 25M619.9 1566.9l25 25m0-25l-25 25M622.4 1566.9l25 25m0-25l-25 25M624.9 1566.9l25 25m0-25l-25 25M627.4 1566.9l25 25m0-25l-25 25M629.8 1566.9l25 25m0-25l-25 25M632.3 1566.9l25 25m0-25l-25 25M634.8 1566.9l25 25m0-25l-25 25M637.3 1566.9l25 25m0-25l-25 25M639.8 1566.9l25 25m0-25l-25 25M642.3 1566.9l25 25m0-25l-25 25M644.8 1566.9l25 25m0-25l-25 25M647.3 1566.9l25 25m0-25l-25 25M649.8 1566.9l25 25m0-25l-25 25M652.3 1566.9l25 25m0-25l-25 25M654.8 1566.9l25 25m0-25l-25 25M657.3 1566.9l25 25m0-25l-25 25M659.8 1566.9l25 25m0-25l-25 25M662.3 1566.9l25 25m0-25l-25 25M664.8 1566.9l25 25m0-25l-25 25M667.3 1566.9l25 25m0-25l-25 25M669.8 1566.9l25 25m0-25l-25 25M672.2 1566.9l25 25m0-25l-25 25M674.7 1566.9l25 25m0-25l-25 25M677.2 1566.9l25 25m0-25l-25 25M679.7 1566.9l25 25m0-25l-25 25M682.2 1566.9l25 25m0-25l-25 25M684.7 1566.9l25 25m0-25l-25 25M687.2 1566.9l25 25m0-25l-25 25M689.7 1566.9l25 25m0-25l-25 25M692.2 1566.9l25 25m0-25l-25 25M694.7 1566.9l25 25m0-25l-25 25M697.2 1566.9l25 25m0-25l-25 25M699.7 1566.9l25 25m0-25l-25 25M702.2 1566.9l25 25m0-25l-25 25M704.7 1566.9l25 25m0-25l-25 25M707.2 1566.9l25 25m0-25l-25 25M709.7 1566.9l25 25m0-25l-25 25M712.2 1566.9l25 25m0-25l-25 25M714.6 1566.9l25 25m0-25l-25 25M717.1 1566.9l25 25m0-25l-25 25M719.6 1566.9l25 25m0-25l-25 25M722.1 1566.9l25 25m0-25l-25 25M724.6 1566.9l25 25m0-25l-25 25M727.1 1566.9l25 25m0-25l-25 25M729.6 1566.9l25 25m0-25l-25 25M732.1 1566.9l25 25m0-25l-25 25M734.6 1566.9l25 25m0-25l-25 25M737.1 1566.9l25 25m0-25l-25 25M739.6 1566.9l25 25m0-25l-25 25M742.1 1566.9l25 25m0-25l-25 25M744.6 1566.9l25 25m0-25l-25 25M747.1 1566.9l25 25m0-25l-25 25M749.6 1566.9l25 25m0-25l-25 25M752.1 1566.9l25 25m0-25l-25 25M754.6 1566.9l25 25m0-25l-25 25M757 1566.9l25 25m0-25l-25 25M759.5 1566.9l25 25m0-25l-25 25M762 1566.9l25 25m0-25l-25 25M764.5 1566.9l25 25m0-25l-25 25M767 1566.9l25 25m0-25l-25 25M769.5 1566.9l25 25m0-25l-25 25M772 1566.9l25 25m0-25l-25 25M774.5 1566.9l25 25m0-25l-25 25M777 1566.9l25 25m0-25l-25 25M779.5 1566.9l25 25m0-25l-25 25M782 1566.9l25 25m0-25l-25 25M784.5 1566.9l25 25m0-25l-25 25M787 1566.9l25 25m0-25l-25 25M789.5 1566.9l25 25m0-25l-25 25M792 1566.9l25 25m0-25l-25 25M794.5 1566.9l25 25m0-25l-25 25M797 1566.9l25 25m0-25l-25 25M799.5 1566.9l25 25m0-25l-25 25M801.9 1566.9l25 25m0-25l-25 25M804.4 1566.9l25 25m0-25l-25 25M806.9 1566.9l25 25m0-25l-25 25M809.4 1566.9l25 25m0-25l-25 25M811.9 1566.9l25 25m0-25l-25 25M814.4 1566.9l25 25m0-25l-25 25M816.9 1566.9l25 25m0-25l-25 25M819.4 1566.9l25 25m0-25l-25 25M821.9 1566.9l25 25m0-25l-25 25M824.4 1566.9l25 25m0-25l-25 25M826.9 1566.9l25 25m0-25l-25 25M829.4 1566.9l25 25m0-25l-25 25M831.9 1566.9l25 25m0-25l-25 25M834.4 1566.9l25 25m0-25l-25 25M836.9 1566.9l25 25m0-25l-25 25M839.4 1566.9l25 25m0-25l-25 25M841.9 1566.9l25 25m0-25l-25 25M844.3 1566.9l25 25m0-25l-25 25M846.8 1566.9l25 25m0-25l-25 25M849.3 1566.9l25 25m0-25l-25 25M851.8 1566.9l25 25m0-25l-25 25M854.3 1566.9l25 25m0-25l-25 25M856.8 1566.9l25 25m0-25l-25 25M859.3 1566.9l25 25m0-25l-25 25M861.8 1566.9l25 25m0-25l-25 25M864.3 1566.9l25 25m0-25l-25 25M866.8 1566.9l25 25m0-25l-25 25M869.3 1566.9l25 25m0-25l-25 25M871.8 1566.9l25 25m0-25l-25 25M874.3 1566.9l25 25m0-25l-25 25M876.8 1566.9l25 25m0-25l-25 25M879.3 1566.9l25 25m0-25l-25 25M881.8 1566.9l25 25m0-25l-25 25M884.3 1566.9l25 25m0-25l-25 25M886.7 1566.9l25 25m0-25l-25 25M889.2 1566.9l25 25m0-25l-25 25M891.7 1566.9l25 25m0-25l-25 25M894.2 1566.9l25 25m0-25l-25 25M896.7 1566.9l25 25m0-25l-25 25M899.2 1566.9l25 25m0-25l-25 25M901.7 1566.9l25 25m0-25l-25 25M904.2 1566.9l25 25m0-25l-25 25M906.7 1566.9l25 25m0-25l-25 25M909.2 1566.9l25 25m0-25l-25 25M911.7 1566.9l25 25m0-25l-25 25M914.2 1566.9l25 25m0-25l-25 25M916.7 1566.9l25 25m0-25l-25 25M919.2 1566.9l25 25m0-25l-25 25M921.7 1566.9l25 25m0-25l-25 25M924.2 1566.9l25 25m0-25l-25 25M926.7 1566.9l25 25m0-25l-25 25M929.1 1566.9l25 25m0-25l-25 25M931.6 1566.9l25 25m0-25l-25 25M934.1 1566.9l25 25m0-25l-25 25M936.6 1566.9l25 25m0-25l-25 25M939.1 1566.9l25 25m0-25l-25 25M941.6 1566.9l25 25m0-25l-25 25M944.1 1566.9l25 25m0-25l-25 25M946.6 1566.9l25 25m0-25l-25 25M949.1 1566.9l25 25m0-25l-25 25M951.6 1566.9l25 25m0-25l-25 25M954.1 1566.9l25 25m0-25l-25 25M956.6 1566.9l25 25m0-25l-25 25M959.1 1566.9l25 25m0-25l-25 25M961.6 1566.9l25 25m0-25l-25 25M964.1 1566.9l25 25m0-25l-25 25M966.6 1566.9l25 25m0-25l-25 25M969.1 1566.9l25 25m0-25l-25 25M971.5 1566.9l25 25m0-25l-25 25M974 1566.9l25 25m0-25l-25 25M976.5 1566.9l25 25m0-25l-25 25M979 1566.9l25 25m0-25l-25 25M981.5 1566.9l25 25m0-25l-25 25M984 1566.9l25 25m0-25l-25 25M986.5 1566.9l25 25m0-25l-25 25M989 1566.9l25 25m0-25l-25 25M991.5 1566.9l25 25m0-25l-25 25M992.7 1425.5l25 25m0-25l-25 25M992.7 1428l25 25m0-25l-25 25M992.6 1430.5l25 25m0-25l-25 25M992.6 1432.9l25 25m0-25l-25 25M992.5 1435.4l25 25m0-25l-25 25M992.5 1437.9l25 25m0-25l-25 25M992.4 1440.4l25 25m0-25l-25 25M992.4 1442.9l25 25m0-25l-25 25M992.3 1445.4l25 25m0-25l-25 25M992.3 1447.8l25 25m0-25l-25 25M992.3 1450.3l25 25m0-25l-25 25M992.2 1452.8l25 25m0-25l-25 25M992.2 1455.3l25 25m0-25l-25 25M992.1 1457.8l25 25m0-25l-25 25M992.1 1460.3l25 25m0-25l-25 25M992 1462.7l25 25m0-25l-25 25M992 1465.2l25 25m0-25l-25 25M991.9 1467.7l25 25m0-25l-25 25M991.9 1470.2l25 25m0-25l-25 25M991.9 1472.7l25 25m0-25l-25 25M991.8 1475.2l25 25m0-25l-25 25M991.8 1477.6l25 25m0-25l-25 25M991.7 1480.1l25 25m0-25l-25 25M991.7 1482.6l25 25m0-25l-25 25M991.6 1485.1l25 25m0-25l-25 25M991.6 1487.6l25 25m0-25l-25 25M991.5 1490.1l25 25m0-25l-25 25M991.5 1492.5l25 25m0-25l-25 25M991.5 1495l25 25m0-25l-25 25M991.4 1497.5l25 25m0-25l-25 25M991.4 1500l25 25m0-25l-25 25M991.3 1502.5l25 25m0-25l-25 25M991.3 1505l25 25m0-25l-25 25M991.2 1507.4l25 25m0-25l-25 25M991.2 1509.9l25 25m0-25l-25 25M991.2 1512.4l25 25m0-25l-25 25M991.1 1514.9l25 25m0-25l-25 25M991.1 1517.4l25 25m0-25l-25 25M991 1519.8l25 25m0-25l-25 25M991 1522.3l25 25m0-25l-25 25M990.9 1524.8l25 25m0-25l-25 25M990.9 1527.3l25 25m0-25l-25 25M990.8 1529.8l25 25m0-25l-25 25M990.8 1532.3l25 25m0-25l-25 25M990.8 1534.7l25 25m0-25l-25 25M990.7 1537.2l25 25m0-25l-25 25M990.7 1539.7l25 25m0-25l-25 25M990.6 1542.2l25 25m0-25l-25 25M990.6 1544.7l25 25m0-25l-25 25M990.5 1547.2l25 25m0-25l-25 25M990.5 1549.6l25 25m0-25l-25 25M990.4 1552.1l25 25m0-25l-25 25M990.4 1554.6l25 25m0-25l-25 25M990.4 1557.1l25 25m0-25l-25 25M990.3 1559.6l25 25m0-25l-25 25M990.3 1562.1l25 25m0-25l-25 25M990.2 1564.5l25 25m0-25l-25 25M990.2 1567l25 25m0-25l-25 25M990.1 1569.5l25 25m0-25l-25 25M990.1 1572l25 25m0-25l-25 25M990 1574.5l25 25m0-25l-25 25M990 1577l25 25m0-25l-25 25M990 1579.4l25 25m0-25l-25 25M989.9 1581.9l25 25m0-25l-25 25M989.9 1584.4l25 25m0-25l-25 25M989.8 1586.9l25 25m0-25l-25 25M989.8 1589.4l25 25m0-25l-25 25M989.7 1591.9l25 25m0-25l-25 25M989.7 1594.3l25 25m0-25l-25 25M989.6 1596.8l25 25m0-25l-25 25M989.6 1599.3l25 25m0-25l-25 25" fill="none" stroke="#2ca02c" stroke-width="4.17"/>
</g>
<rect x="238.4" y="167.5" width="804.1" height="573.9" fill="none" stroke="#000" stroke-width="3.33" stroke-linejoin="miter"/>
<path d="M329.5 741.4v14.6M481.8 741.4v14.6M634 741.4v14.6M786.2 741.4v14.6M938.5 741.4v14.6M238.4 258.4h-14.6M238.4 356.6h-14.6M238.4 454.9h-14.6M238.4 553.1h-14.6M238.4 651.4h-14.6" stroke="#000" stroke-width="3.33" fill="none"/>
<text transform="matrix(0.4744 0 0 0.4368 113.69 274.10)" font-size="100">10</text>
<rect x="169.95" y="247.50" width="18.55" height="2.70"/>
<text transform="matrix(0.3183 0 0 0.2965 191.10 257.80)" font-size="100">2</text>
<text transform="matrix(0.4744 0 0 0.4368 113.69 372.35)" font-size="100">10</text>
<rect x="169.95" y="345.75" width="18.55" height="2.70"/>
<text transform="matrix(0.3058 0 0 0.3009 191.48 356.05)" font-size="100">5</text>
<text transform="matrix(0.4744 0 0 0.4368 113.69 470.60)" font-size="100">10</text>
<rect x="169.95" y="444.00" width="18.55" height="2.70"/>
<text transform="matrix(0.3090 0 0 0.2965 191.36 454.30)" font-size="100">8</text>
<text transform="matrix(0.4714 0 0 0.4368 95.41 568.85)" font-size="100">10</text>
<rect x="151.50" y="542.25" width="18.80" height="2.70"/>
<text transform="matrix(0.3312 0 0 0.3009 172.78 552.55)" font-size="100">11</text>
<text transform="matrix(0.4714 0 0 0.4368 95.41 667.10)" font-size="100">10</text>
<rect x="151.50" y="640.50" width="18.80" height="2.70"/>
<text transform="matrix(0.3248 0 0 0.3009 172.83 650.80)" font-size="100">14</text>
<rect x="238.4" y="765" width="804.1" height="573.9" fill="none" stroke="#000" stroke-width="3.33" stroke-linejoin="miter"/>
<path d="M329.5 1338.9v14.6M481.8 1338.9v14.6M634 1338.9v14.6M786.2 1338.9v14.6M938.5 1338.9v14.6M238.4 855.9h-14.6M238.4 954.1h-14.6M238.4 1052.4h-14.6M238.4 1150.7h-14.6M238.4 1248.9h-14.6" stroke="#000" stroke-width="3.33" fill="none"/>
<text transform="matrix(0.4744 0 0 0.4368 113.69 871.60)" font-size="100">10</text>
<rect x="169.95" y="845.00" width="18.55" height="2.70"/>
<text transform="matrix(0.3183 0 0 0.2965 191.10 855.30)" font-size="100">2</text>
<text transform="matrix(0.4744 0 0 0.4368 113.69 969.85)" font-size="100">10</text>
<rect x="169.95" y="943.25" width="18.55" height="2.70"/>
<text transform="matrix(0.3058 0 0 0.3009 191.48 953.55)" font-size="100">5</text>
<text transform="matrix(0.4744 0 0 0.4368 113.69 1068.10)" font-size="100">10</text>
<rect x="169.95" y="1041.50" width="18.55" height="2.70"/>
<text transform="matrix(0.3090 0 0 0.2965 191.36 1051.80)" font-size="100">8</text>
<text transform="matrix(0.4714 0 0 0.4368 95.41 1166.35)" font-size="100">10</text>
<rect x="151.50" y="1139.75" width="18.80" height="2.70"/>
<text transform="matrix(0.3312 0 0 0.3009 172.78 1150.05)" font-size="100">11</text>
<text transform="matrix(0.4714 0 0 0.4368 95.41 1264.60)" font-size="100">10</text>
<rect x="151.50" y="1238.00" width="18.80" height="2.70"/>
<text transform="matrix(0.3248 0 0 0.3009 172.83 1248.30)" font-size="100">14</text>
<rect x="238.4" y="1362.5" width="804.1" height="573.9" fill="none" stroke="#000" stroke-width="3.33" stroke-linejoin="miter"/>
<path d="M329.5 1936.4v14.6M481.8 1936.4v14.6M634 1936.4v14.6M786.2 1936.4v14.6M938.5 1936.4v14.6M238.4 1453.4h-14.6M238.4 1551.7h-14.6M238.4 1649.9h-14.6M238.4 1748.2h-14.6M238.4 1846.4h-14.6" stroke="#000" stroke-width="3.33" fill="none"/>
<text transform="matrix(0.4744 0 0 0.4368 113.69 1469.10)" font-size="100">10</text>
<rect x="169.95" y="1442.50" width="18.55" height="2.70"/>
<text transform="matrix(0.3183 0 0 0.2965 191.10 1452.80)" font-size="100">2</text>
<text transform="matrix(0.4744 0 0 0.4368 113.69 1567.35)" font-size="100">10</text>
<rect x="169.95" y="1540.75" width="18.55" height="2.70"/>
<text transform="matrix(0.3058 0 0 0.3009 191.48 1551.05)" font-size="100">5</text>
<text transform="matrix(0.4744 0 0 0.4368 113.69 1665.60)" font-size="100">10</text>
<rect x="169.95" y="1639.00" width="18.55" height="2.70"/>
<text transform="matrix(0.3090 0 0 0.2965 191.36 1649.30)" font-size="100">8</text>
<text transform="matrix(0.4714 0 0 0.4368 95.41 1763.85)" font-size="100">10</text>
<rect x="151.50" y="1737.25" width="18.80" height="2.70"/>
<text transform="matrix(0.3312 0 0 0.3009 172.78 1747.55)" font-size="100">11</text>
<text transform="matrix(0.4714 0 0 0.4368 95.41 1862.10)" font-size="100">10</text>
<rect x="151.50" y="1835.50" width="18.80" height="2.70"/>
<text transform="matrix(0.3248 0 0 0.3009 172.83 1845.80)" font-size="100">14</text>
<text transform="matrix(0.4614 0 0 0.4325 282.49 1996.40)" font-size="100">10</text>
<rect x="338.00" y="1970.60" width="18.20" height="2.70"/>
<text transform="matrix(0.3096 0 0 0.2965 359.55 1981.00)" font-size="100">9</text>
<text transform="matrix(0.4614 0 0 0.4325 434.74 1996.40)" font-size="100">10</text>
<rect x="490.25" y="1970.60" width="18.20" height="2.70"/>
<text transform="matrix(0.3146 0 0 0.3009 511.64 1981.00)" font-size="100">7</text>
<text transform="matrix(0.4614 0 0 0.4325 586.99 1996.40)" font-size="100">10</text>
<rect x="642.50" y="1970.60" width="18.20" height="2.70"/>
<text transform="matrix(0.3016 0 0 0.3009 664.29 1981.00)" font-size="100">5</text>
<text transform="matrix(0.4614 0 0 0.4325 739.24 1996.40)" font-size="100">10</text>
<rect x="794.75" y="1970.60" width="18.20" height="2.70"/>
<text transform="matrix(0.3016 0 0 0.2965 816.60 1981.00)" font-size="100">3</text>
<text transform="matrix(0.4614 0 0 0.4325 891.49 1996.40)" font-size="100">10</text>
<rect x="947.00" y="1970.60" width="18.20" height="2.70"/>
<text transform="matrix(0.3038 0 0 0.3009 968.59 1981.00)" font-size="100">1</text>
<text transform="matrix(0.4292 0 0 0.4449 383.37 2055.47)" font-size="100">Θ</text>
<rect x="427.00" y="2035.30" width="27.80" height="2.70"/>
<rect x="427.00" y="2045.70" width="27.80" height="2.70"/>
<text transform="matrix(0.4375 0 0 0.3982 465.99 2052.56)" font-size="100">(</text>
<text transform="matrix(0.4499 0 0 0.4317 481.16 2054.60)" font-size="100" font-style="italic">T</text>
<text transform="matrix(0.3686 0 0 0.3050 508.43 2060.30)" font-size="100">crit,</text>
<text transform="matrix(0.3414 0 0 0.3050 570.93 2060.30)" font-size="100">num</text>
<rect x="650.30" y="2041.20" width="25.70" height="2.80"/>
<text transform="matrix(0.4551 0 0 0.4317 686.01 2054.60)" font-size="100" font-style="italic">T</text>
<text transform="matrix(0.4413 0 0 0.3982 716.54 2052.56)" font-size="100">)</text>
<text transform="matrix(0.5543 0 0 0.4725 730.00 2058.54)" font-size="100">/</text>
<text transform="matrix(0.4551 0 0 0.4317 741.31 2054.60)" font-size="100" font-style="italic">T</text>
<text transform="matrix(0.3686 0 0 0.3050 769.53 2060.30)" font-size="100">crit,</text>
<text transform="matrix(0.3425 0 0 0.3050 832.23 2060.30)" font-size="100">num</text>
<g transform="rotate(-90)">
<rect x="-562.00" y="26.00" width="4.00" height="41.00"/>
<text transform="matrix(0.4343 0 0 0.4252 -551.24 57.18)" font-size="100" font-style="italic">ρ</text>
<text transform="matrix(0.5514 0 0 0.6195 -526.29 66.92)" font-size="100">′</text>
<text transform="matrix(0.2841 0 0 0.3052 -527.32 68.00)" font-size="100">Y</text>
<text transform="matrix(0.5039 0 0 0.4589 -507.70 60.25)" font-size="100">/</text>
<text transform="matrix(0.4414 0 0 0.4252 -491.92 57.18)" font-size="100" font-style="italic">ρ</text>
<text transform="matrix(0.5514 0 0 0.6195 -467.29 66.92)" font-size="100">′</text>
<text transform="matrix(0.3240 0 0 0.2951 -467.68 67.88)" font-size="100">ep</text>
<rect x="-417.70" y="42.00" width="26.70" height="3.70"/>
<text transform="matrix(0.4244 0 0 0.4361 -377.53 57.00)" font-size="100">1</text>
<rect x="-347.00" y="26.00" width="4.00" height="41.00"/>
<rect x="-1158.70" y="26.00" width="4.00" height="41.00"/>
<text transform="matrix(0.4414 0 0 0.4252 -1148.22 57.18)" font-size="100" font-style="italic">ρ</text>
<text transform="matrix(0.5103 0 0 0.6195 -1123.12 66.92)" font-size="100">″</text>
<text transform="matrix(0.2841 0 0 0.3052 -1124.32 68.00)" font-size="100">Y</text>
<text transform="matrix(0.5039 0 0 0.4589 -1104.70 60.25)" font-size="100">/</text>
<text transform="matrix(0.4414 0 0 0.4252 -1088.92 57.18)" font-size="100" font-style="italic">ρ</text>
<text transform="matrix(0.5103 0 0 0.6195 -1064.12 66.92)" font-size="100">″</text>
<text transform="matrix(0.3211 0 0 0.2951 -1064.06 67.88)" font-size="100">ep</text>
<rect x="-1014.70" y="42.00" width="26.70" height="3.70"/>
<text transform="matrix(0.4244 0 0 0.4361 -974.53 57.00)" font-size="100">1</text>
<rect x="-943.70" y="26.00" width="4.00" height="41.00"/>
<rect x="-1757.00" y="30.00" width="3.70" height="41.00"/>
<text transform="matrix(0.4428 0 0 0.4064 -1746.90 60.57)" font-size="100" font-style="italic">p</text>
<text transform="matrix(0.2841 0 0 0.3052 -1722.32 67.00)" font-size="100">Y</text>
<text transform="matrix(0.5039 0 0 0.4589 -1703.00 64.25)" font-size="100">/</text>
<text transform="matrix(0.4446 0 0 0.4064 -1687.59 60.57)" font-size="100" font-style="italic">p</text>
<text transform="matrix(0.3211 0 0 0.2951 -1662.36 66.88)" font-size="100">ep</text>
<rect x="-1612.70" y="46.00" width="26.70" height="3.70"/>
<text transform="matrix(0.4244 0 0 0.4361 -1572.53 61.00)" font-size="100">1</text>
<rect x="-1542.00" y="30.00" width="4.00" height="41.00"/>
</g>
<rect x="641.90" y="188.00" width="378.90" height="193.50" rx="8.3" ry="8.3" fill="#fff" fill-opacity="0.8" stroke="#ccc" stroke-opacity="0.8" stroke-width="3.33"/>
<circle cx="700.50" cy="221.40" r="14.6" fill="#1f77b4"/>
<path d="M700.50 269.30l12.5 25h-25z" fill="#ff7f0e" stroke="#ff7f0e" stroke-width="4.17"/>
<path d="M688.00 329.80l25 25m0-25l-25 25" fill="none" stroke="#2ca02c" stroke-width="4.17"/>
<text transform="matrix(0.4138 0 0 0.4325 775.09 236.70)" font-size="100">Y:SA</text>
<text transform="matrix(0.4083 0 0 0.4325 775.10 296.10)" font-size="100">Y:HEOS</text>
<text transform="matrix(0.3974 0 0 0.4325 775.13 357.50)" font-size="100">Y:REFPROP</text>
<rect x="641.90" y="785.50" width="378.90" height="193.50" rx="8.3" ry="8.3" fill="#fff" fill-opacity="0.8" stroke="#ccc" stroke-opacity="0.8" stroke-width="3.33"/>
<circle cx="700.50" cy="818.90" r="14.6" fill="#1f77b4"/>
<path d="M700.50 866.80l12.5 25h-25z" fill="#ff7f0e" stroke="#ff7f0e" stroke-width="4.17"/>
<path d="M688.00 927.30l25 25m0-25l-25 25" fill="none" stroke="#2ca02c" stroke-width="4.17"/>
<text transform="matrix(0.4138 0 0 0.4325 775.09 834.20)" font-size="100">Y:SA</text>
<text transform="matrix(0.4083 0 0 0.4325 775.10 893.60)" font-size="100">Y:HEOS</text>
<text transform="matrix(0.3974 0 0 0.4325 775.13 955.00)" font-size="100">Y:REFPROP</text>
<g transform="translate(-382.80 1362.90)">
<rect x="641.90" y="188.00" width="378.90" height="193.50" rx="8.3" ry="8.3" fill="#fff" fill-opacity="0.8" stroke="#ccc" stroke-opacity="0.8" stroke-width="3.33"/>
<circle cx="700.50" cy="221.40" r="14.6" fill="#1f77b4"/>
<path d="M700.50 269.30l12.5 25h-25z" fill="#ff7f0e" stroke="#ff7f0e" stroke-width="4.17"/>
<path d="M688.00 329.80l25 25m0-25l-25 25" fill="none" stroke="#2ca02c" stroke-width="4.17"/>
<text transform="matrix(0.4138 0 0 0.4325 775.09 236.70)" font-size="100">Y:SA</text>
<text transform="matrix(0.4083 0 0 0.4325 775.10 296.10)" font-size="100">Y:HEOS</text>
<text transform="matrix(0.3974 0 0 0.4325 775.13 357.50)" font-size="100">Y:REFPROP</text>
</g></svg></body></html>
